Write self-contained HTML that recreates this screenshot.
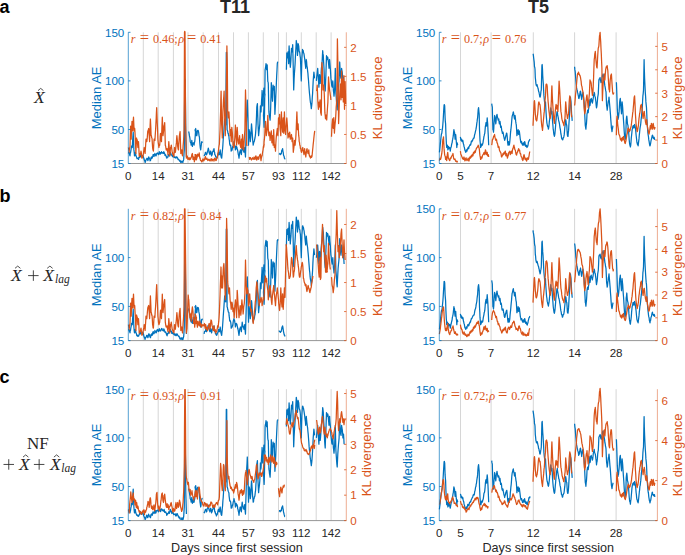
<!DOCTYPE html>
<html><head><meta charset="utf-8"><style>
html,body{margin:0;padding:0;background:#fff;width:685px;height:555px;overflow:hidden;position:relative}
svg text{font-family:"Liberation Sans",sans-serif}
svg text.s{font-family:"Liberation Serif",serif}
</style></head><body>
<svg width="685" height="555" viewBox="0 0 685 555" style="position:absolute;left:0;top:0">
<rect width="685" height="555" fill="#fff"/>
<line x1="143.3" y1="32.3" x2="143.3" y2="163.5" stroke="#d6d6d6" stroke-width="1"/>
<line x1="158.2" y1="32.3" x2="158.2" y2="163.5" stroke="#d6d6d6" stroke-width="1"/>
<line x1="173.4" y1="32.3" x2="173.4" y2="163.5" stroke="#d6d6d6" stroke-width="1"/>
<line x1="188.0" y1="32.3" x2="188.0" y2="163.5" stroke="#d6d6d6" stroke-width="1"/>
<line x1="203.2" y1="32.3" x2="203.2" y2="163.5" stroke="#d6d6d6" stroke-width="1"/>
<line x1="218.5" y1="32.3" x2="218.5" y2="163.5" stroke="#d6d6d6" stroke-width="1"/>
<line x1="233.5" y1="32.3" x2="233.5" y2="163.5" stroke="#d6d6d6" stroke-width="1"/>
<line x1="248.4" y1="32.3" x2="248.4" y2="163.5" stroke="#d6d6d6" stroke-width="1"/>
<line x1="263.3" y1="32.3" x2="263.3" y2="163.5" stroke="#d6d6d6" stroke-width="1"/>
<line x1="278.5" y1="32.3" x2="278.5" y2="163.5" stroke="#d6d6d6" stroke-width="1"/>
<line x1="286.4" y1="32.3" x2="286.4" y2="163.5" stroke="#d6d6d6" stroke-width="1"/>
<line x1="301.3" y1="32.3" x2="301.3" y2="163.5" stroke="#d6d6d6" stroke-width="1"/>
<line x1="316.2" y1="32.3" x2="316.2" y2="163.5" stroke="#d6d6d6" stroke-width="1"/>
<line x1="331.1" y1="32.3" x2="331.1" y2="163.5" stroke="#d6d6d6" stroke-width="1"/>
<polyline points="128.4,153.5 128.8,152.5 129.1,152.3 129.4,152.8 129.7,155.0 130.0,155.9 130.2,153.4 130.5,152.8 130.8,151.1 131.2,148.5 131.5,146.4 131.8,145.9 132.1,147.2 132.3,147.5 132.6,141.5 132.9,137.1 133.2,132.1 133.5,140.1 133.9,149.9 134.2,152.1 134.5,155.9 134.8,154.5 135.0,154.1 135.3,152.3 135.6,153.3 135.9,155.9 136.2,155.9 136.5,157.0 136.8,157.7 137.1,158.7 137.3,158.2 137.7,158.6 138.0,158.4 138.3,158.8 138.6,159.4 138.9,157.1 139.2,157.6 139.5,157.4 139.8,155.2 140.1,154.7 140.4,154.8 140.6,155.5 140.9,157.0 141.2,156.3 141.5,156.9 141.9,155.9 142.2,155.2 142.5,156.0 142.7,156.1 143.0,155.9 143.3,156.6 143.6,158.0 143.9,158.1 144.2,160.0 144.5,159.9 144.8,161.0 145.1,162.4 145.4,162.0 145.7,160.7 146.0,160.0 146.3,159.1 146.6,159.0 147.0,158.2 147.2,158.9 147.5,159.4 147.8,160.6 148.1,160.0 148.4,158.6 148.6,157.0 148.9,157.1 149.3,158.4 149.6,158.8 149.9,159.5 150.1,160.8 150.4,160.6 150.7,159.9 151.0,157.8 151.4,157.0 151.6,158.4 151.9,157.1 152.2,158.2 152.5,156.9 152.8,156.4 153.1,154.7 153.5,154.6 153.8,155.8 154.1,156.5 154.4,154.5 154.7,154.8 154.9,153.5 155.2,154.8 155.6,155.2 155.9,155.9 156.2,155.8 156.4,153.9 156.7,153.5 157.0,153.7 157.3,153.3 157.7,152.9 157.9,153.6 158.2,154.0 158.5,154.7 158.8,154.4 159.0,153.6 159.3,151.7 159.6,152.4 160.0,153.6 160.3,154.1 160.6,152.6 160.9,153.3 161.2,152.6 161.5,151.7 161.7,153.1 162.0,153.1 162.3,152.9 162.6,152.7 162.9,153.1 163.2,153.5 163.5,153.4 163.8,151.7 164.1,152.3 164.4,153.2 164.7,153.6 165.0,155.3 165.3,154.7 165.7,154.8 166.0,155.9 166.3,157.2 166.5,156.7 166.8,158.2 167.1,157.3 167.4,157.2 167.6,157.0 168.0,157.0 168.3,154.6 168.6,154.7 168.9,155.0 169.2,155.6 169.4,155.9 169.7,155.4 170.1,154.1 170.4,152.3 170.7,153.8 170.9,153.4 171.2,154.7 171.5,154.9 171.8,155.2 172.2,155.9 172.5,156.6 172.8,156.8 173.1,155.2 173.4,155.9 173.6,155.8 173.9,156.5 174.2,157.6 174.5,156.9 174.8,157.2 175.1,157.0 175.4,157.6 175.7,157.4 176.0,158.2 176.3,156.8 176.6,157.3 176.9,157.0 177.2,157.2 177.5,158.0 177.7,158.2 178.1,159.5 178.4,159.4 178.7,159.4 179.0,159.9 179.3,160.5 179.5,160.6 179.8,161.4 180.2,160.5 180.5,161.8 180.8,162.5 181.1,162.1 181.4,162.1 181.7,161.2 182.0,162.1 182.3,161.6 182.6,161.9 182.9,162.4 183.1,160.6 183.4,160.7 183.7,159.4 184.0,153.8 184.3,149.9 184.5,114.0 184.8,79.8 185.0,79.2 185.2,79.8 185.5,107.0 185.8,135.7 186.1,146.0 186.4,157.0" fill="none" stroke="#0072BD" stroke-width="1.25" stroke-linejoin="round"/>
<polyline points="188.6,131.5 188.8,132.0 189.1,133.3 189.4,135.7 189.7,136.9 190.0,138.8 190.2,141.6 190.5,142.5 190.9,143.0 191.2,145.2 191.5,143.5 191.8,140.4 192.1,143.6 192.4,146.4 192.6,144.5 192.9,143.5 193.2,142.8 193.5,143.3 193.8,144.1 194.1,145.2 194.4,142.4 194.7,141.9 195.0,139.2 195.3,134.9 195.7,128.5 196.0,130.8 196.2,133.2 196.5,135.7 196.2,133.6 195.9,132.5 195.6,131.8 195.3,130.4 195.0,129.7 195.3,131.2 195.6,130.6 196.0,132.1 196.2,132.3 196.5,135.4 196.8,135.7 197.1,133.9 197.3,131.4 197.6,130.3 197.9,131.0 198.2,130.5 198.6,132.1 198.8,133.7 199.1,136.2 199.4,136.8 199.7,141.7 200.0,145.2 200.3,147.9 200.7,149.9 201.0,147.1 201.3,144.9 201.5,142.8 201.8,141.7 202.1,142.5 202.4,141.6" fill="none" stroke="#0072BD" stroke-width="1.25" stroke-linejoin="round"/>
<polyline points="203.9,155.9 204.2,155.5 204.5,155.6 204.7,154.7 205.1,153.5 205.4,152.5 205.7,152.3 206.0,153.7 206.3,154.8 206.5,154.7 206.8,154.2 207.2,152.9 207.5,151.1 207.8,150.8 208.0,149.6 208.3,148.1 208.7,149.7 209.0,152.3 209.3,153.1 209.6,153.6 209.9,154.7 210.1,152.5 210.4,151.3 210.7,151.1 211.0,152.2 211.3,153.8 211.6,155.9 211.9,155.1 212.2,154.4 212.5,152.3 212.8,151.4 213.1,151.6 213.4,149.9 213.7,150.3 214.0,148.7 214.3,151.6 214.6,152.4 214.8,154.7 215.2,154.9 215.5,155.7 215.8,157.0 216.1,156.8 216.4,157.2 216.7,158.2 217.0,157.7 217.3,157.5 217.6,155.9 217.9,155.4 218.2,153.4 218.5,152.3 218.8,153.4 219.1,154.5 219.4,154.7 219.6,152.3 219.9,151.8 220.2,149.9 220.6,153.7 220.9,155.9 221.2,157.2 221.5,157.9 221.7,158.2 222.0,155.0 222.3,151.3 222.6,148.7 222.9,144.9 223.2,139.7 223.5,135.7 223.8,132.1 224.1,127.3 224.4,124.1 224.7,119.0 225.0,120.8 225.3,122.8 225.7,125.0 226.0,89.6 226.3,52.5 226.5,52.9 226.7,52.5 227.1,129.7 227.4,130.2 227.7,131.3 228.0,133.3 228.3,133.4 228.6,135.7 228.9,135.7 229.1,139.0 229.4,140.5 229.7,144.0 230.0,145.0 230.3,145.7 230.7,145.2 231.0,148.4 231.2,151.1 231.5,150.4 231.8,150.4 232.1,149.9 232.4,148.0 232.7,146.6 233.0,146.4 233.3,145.7 233.7,143.5 234.0,141.6 234.3,142.8 234.5,144.8 234.8,145.2 235.1,147.4 235.4,149.9 235.7,149.5 236.0,148.2 236.2,146.4 236.6,146.6 236.9,147.4 237.2,148.7 237.5,149.5 237.7,150.6 238.0,152.3 238.3,154.4 238.7,155.8 239.0,158.2 239.3,155.7 239.6,153.5 239.8,151.6 240.1,151.9 240.4,149.9 240.7,151.2 241.0,153.0 241.4,154.7 241.6,151.7 241.9,149.1 242.2,145.2 242.5,146.6 242.8,149.2 243.1,149.9 243.4,150.7 243.7,151.6 244.0,152.3 244.3,150.0 244.7,147.5 245.0,149.7 245.2,153.8 245.5,157.0 245.8,145.7 246.1,135.7 246.4,122.8 246.7,111.9 247.0,106.5 247.3,100.0 247.6,108.3 247.9,117.8 248.2,131.4 248.5,145.2 248.8,137.9 249.1,129.7 249.4,131.0 249.7,132.1 250.0,136.5 250.3,141.6 250.6,138.7 250.9,135.7 251.2,129.8 251.5,123.8 251.8,127.3 252.0,129.7 252.3,133.7 252.6,139.2 252.9,142.3 253.2,145.2 253.5,143.5 253.8,142.3 254.1,141.6 254.4,141.0 254.7,139.2 255.0,138.0 255.3,135.8 255.6,133.3 255.9,129.0 256.2,123.8 256.5,116.3 256.8,107.1 257.1,105.2 257.4,103.6 257.7,113.9 258.0,123.8 258.3,129.7 258.6,135.7 258.9,132.7 259.2,129.7 259.5,127.1 259.8,123.8 260.1,114.8 260.4,105.9 260.7,109.0 261.0,111.9 261.3,105.9 261.6,100.0 261.9,96.1 262.1,90.5 262.4,98.6 262.7,105.9 263.0,102.2 263.3,97.9 263.6,92.1 263.9,88.1 264.2,89.7 264.5,92.0 264.7,93.3 265.0,94.1 264.7,97.6 264.4,101.9 264.1,106.8 263.8,110.3 263.5,115.5 263.8,120.9 264.1,127.3 264.3,120.5 264.5,115.5 264.8,92.9 265.1,69.7 265.4,68.2 265.7,66.5 266.0,63.7 266.3,66.0 266.6,69.7 266.9,67.7 267.2,64.9 267.5,73.5 267.8,81.5 268.1,82.0 268.3,83.9 268.6,98.7 268.9,111.9 269.2,115.2 269.5,116.6 269.8,117.9 270.1,120.2 270.4,114.6 270.7,107.1 271.0,94.7 271.3,82.7 271.6,86.9 271.9,91.0 272.2,97.1 272.5,101.2 272.8,93.8 273.1,85.1 273.4,86.8 273.7,89.9 274.0,87.9 274.3,86.3 274.6,100.3 274.9,114.3 275.2,108.6 275.5,103.6 275.8,96.1 276.1,89.9 276.4,82.4 276.7,75.6 277.0,70.1 277.3,63.7 277.6,62.2 277.9,62.5" fill="none" stroke="#0072BD" stroke-width="1.25" stroke-linejoin="round"/>
<polyline points="279.0,153.5 279.3,153.9 279.6,154.0 279.9,153.4 280.2,154.7 280.5,154.0 280.8,154.3 281.1,153.8 281.4,153.5 281.7,150.8 282.0,149.9 282.3,150.3 282.6,148.7 282.9,151.1 283.2,152.3 283.5,155.0 283.8,155.9 284.1,156.3 284.4,158.2 284.7,158.4 285.0,159.4" fill="none" stroke="#0072BD" stroke-width="1.25" stroke-linejoin="round"/>
<polyline points="286.4,69.7 286.8,53.0 287.1,54.5 287.4,57.8 287.7,55.4 288.0,51.8 288.3,57.3 288.6,63.7 288.8,54.1 289.1,45.9 289.4,51.7 289.7,57.8 290.0,63.3 290.3,67.3 290.6,64.4 290.9,60.1 291.2,53.7 291.5,48.3 291.8,49.3 292.1,51.8 292.4,49.1 292.7,44.7 293.0,57.3 293.3,69.7 293.7,89.9 293.9,84.9 294.1,79.2 294.4,73.6 294.7,69.7 295.1,63.7 295.4,56.9 295.7,51.8 296.0,46.6 296.3,40.5 296.6,43.1 296.9,45.9 297.2,49.8 297.5,55.4 297.8,50.3 298.1,43.5 298.4,45.0 298.7,45.9 299.0,49.5 299.2,51.8 299.5,51.6 299.8,53.0 300.1,56.1 300.4,57.8 300.7,64.6 301.0,73.9 301.3,80.9 301.6,69.5 301.9,58.2 302.2,53.5 302.5,49.4 302.8,50.1 303.2,50.7 303.5,52.8 303.8,53.2 304.1,54.6 304.4,57.0 304.7,58.8 305.0,62.0 305.4,65.2 305.7,68.3 306.0,63.4 306.3,59.5 306.6,61.9 306.9,65.8 307.3,67.6 307.6,70.8 307.9,73.1 308.2,77.1 308.5,80.3 308.8,84.7 309.1,88.8 309.5,93.5 309.8,96.3 310.1,99.8 310.4,102.3 310.7,103.6 311.0,105.7 311.3,108.7 311.7,105.5 312.0,102.4 312.3,97.3 312.6,93.5 312.9,86.9 313.2,80.9 313.6,75.6 313.9,72.1 314.2,74.8 314.5,78.4" fill="none" stroke="#0072BD" stroke-width="1.25" stroke-linejoin="round"/>
<polyline points="316.4,80.9 316.7,76.8 317.0,74.6 317.3,71.9 317.7,68.3 318.0,73.5 318.3,78.4 318.6,82.2 318.9,87.2 319.2,80.9 319.5,74.6 319.9,79.9 320.2,83.5 320.5,79.5 320.8,77.1 321.1,73.4 321.4,68.3 321.8,65.0 322.1,62.0 322.4,56.3 322.7,50.7 323.0,53.9 323.3,55.7 323.6,61.8 324.0,68.3 324.3,75.9 324.6,83.5 324.9,87.6 325.2,91.0 325.5,83.8 325.9,74.6 326.2,64.9 326.5,55.7 326.8,58.3 327.1,59.5 327.4,58.6 327.7,57.0 328.1,59.8 328.4,62.0 328.7,65.0 329.0,68.3 329.3,63.6 329.6,59.5 329.9,63.0 330.3,68.3 330.6,72.6 330.9,78.4 331.2,80.1 331.5,83.5 331.8,85.8 332.2,87.2 332.5,83.6 332.8,80.9 333.1,85.3 333.4,91.0 333.7,92.7 334.0,96.1 334.4,92.3 334.7,87.2 335.0,78.5 335.3,68.3 335.6,81.3 335.9,93.5 336.3,98.1 336.6,103.6 336.9,106.3 337.2,109.9 337.5,103.2 337.8,97.3 338.1,92.2 338.5,87.2 338.8,83.4 339.1,80.9 339.4,71.4 339.7,62.0 340.0,67.8 340.4,74.6 340.7,77.4 341.0,78.4 341.3,74.3 341.6,68.3 341.9,70.3 342.2,72.1 342.6,76.0 342.9,80.9 343.2,80.0 343.5,77.1 343.8,81.8 344.1,87.2" fill="none" stroke="#0072BD" stroke-width="1.25" stroke-linejoin="round"/>
<polyline points="128.4,147.5 128.8,149.6 129.1,152.3 129.4,149.3 129.7,148.1 130.0,146.4 130.3,136.2 130.6,126.1 130.9,132.7 131.2,139.2 131.4,132.7 131.7,127.3 132.0,121.4 132.3,125.2 132.6,130.9 132.9,125.9 133.2,121.0 133.5,117.2 133.8,123.9 134.1,130.9 134.4,128.8 134.7,128.5 135.0,132.9 135.3,139.2 135.6,146.0 135.9,153.5 136.2,145.2 136.5,138.0 136.8,139.0 137.1,139.7 137.3,140.4 137.6,144.5 137.9,147.5 138.2,144.9 138.5,141.6 138.9,149.2 139.2,155.9 139.5,156.2 139.8,154.8 140.1,154.7 140.4,153.1 140.7,153.3 141.0,151.1 141.3,152.8 141.6,156.3 141.9,158.2 142.2,157.9 142.5,156.1 142.7,157.1 143.0,155.9 143.3,154.6 143.6,152.0 143.9,150.1 144.2,147.5 144.5,150.1 144.8,150.8 145.1,153.5 145.4,148.8 145.7,144.0 146.0,139.2 146.3,140.7 146.6,141.4 146.8,141.6 147.2,138.7 147.5,134.6 147.8,130.9 148.1,130.9 148.4,129.7 148.7,128.5 149.0,133.3 149.3,136.7 149.6,141.6 149.9,133.1 150.1,125.8 150.4,119.0 150.8,127.1 151.1,135.7 151.4,135.7 151.7,137.9 152.0,138.0 152.3,142.9 152.6,147.5 152.8,149.0 153.1,150.2 153.4,151.1 153.7,145.5 154.1,139.2 154.4,139.6 154.7,139.0 154.9,140.4 155.2,135.5 155.6,129.8 155.9,123.8 156.2,118.4 156.4,113.1 156.7,107.7 157.0,116.1 157.3,123.8 157.6,130.6 157.9,139.2 158.2,142.5 158.5,144.3 158.9,147.5 159.1,145.9 159.4,145.5 159.7,145.2 160.0,141.7 160.2,136.6 160.5,133.3 160.8,136.5 161.1,139.8 161.5,141.6 161.7,133.5 162.0,125.1 162.3,117.2 162.7,126.4 163.0,135.7 163.3,133.2 163.6,130.6 163.8,127.3 164.1,126.0 164.4,124.5 164.7,122.6 165.0,133.0 165.3,145.2 165.6,146.0 165.9,147.8 166.2,149.9 166.5,150.0 166.8,148.7 167.1,148.7 167.4,150.8 167.7,151.7 168.0,154.7 168.3,149.4 168.6,145.5 168.8,141.6 169.2,146.7 169.5,151.5 169.8,155.9 170.1,153.4 170.3,149.9 170.6,147.5 171.0,146.4 171.3,145.2 171.6,147.5 171.9,149.8 172.2,152.3 172.5,152.3 172.8,154.7 173.1,154.7 173.4,154.5 173.7,156.4 173.9,155.9 174.2,152.6 174.5,147.5 174.8,148.2 175.1,150.6 175.4,152.3 175.7,149.4 176.1,145.2 176.4,142.9 176.6,138.7 176.9,135.7 177.2,138.8 177.5,142.2 177.7,146.4 178.1,149.0 178.5,149.9 178.7,145.0 179.0,141.4 179.3,136.8 179.6,134.3 179.8,133.3 180.1,131.5 180.5,143.4 180.8,153.5 181.1,151.6 181.4,151.7 181.7,149.9 181.9,151.9 182.2,154.7 182.5,155.9 182.8,151.5 183.1,145.8 183.5,141.6 183.8,136.5 184.0,129.7 184.3,81.0 184.5,32.3 184.8,31.3 185.0,32.3 185.3,77.0 185.6,123.8 185.9,135.2 186.1,146.6 186.4,158.2 186.7,156.7 187.0,155.9 187.3,156.3 187.6,157.9 187.9,159.4 188.2,158.7 188.5,159.3 188.8,158.2 189.1,157.5 189.4,159.3 189.7,159.8 190.0,159.4 190.3,158.1 190.6,159.1 190.9,158.1 191.2,157.0 191.5,157.0 191.8,154.8 192.1,154.1 192.4,153.5 192.7,156.2 193.0,159.4 193.3,159.2 193.6,157.0 193.8,158.8 194.1,159.9 194.4,161.8 194.7,159.3 195.0,156.6 195.3,154.7 195.6,156.1 195.9,159.4 196.2,157.4 196.6,157.7 196.9,155.9 196.6,155.2 196.3,156.3 195.9,154.8 195.6,154.6 195.3,154.9 195.0,154.7 195.3,155.6 195.6,157.6 196.0,159.4 196.2,159.9 196.5,159.4 196.8,158.2 197.1,157.5 197.3,155.7 197.6,154.1 197.9,155.5 198.2,156.1 198.6,155.9 198.9,154.5 199.2,152.9 199.5,156.0 199.8,158.2 200.1,157.9 200.3,159.4 200.6,160.5 200.9,160.6 201.3,160.9 201.6,161.9 201.9,161.8 202.2,161.3 202.4,159.8 202.7,159.4 203.0,158.8 203.3,160.9 203.6,159.6 203.9,160.6 204.2,160.0 204.5,159.1 204.7,158.8 205.1,157.2 205.5,156.5 205.7,157.9 206.0,159.4 206.3,159.4 206.6,158.4 206.9,158.2 207.2,159.3 207.5,159.4 207.8,160.6 208.1,160.3 208.4,159.6 208.7,159.4 208.9,159.2 209.2,159.5 209.5,160.6 209.8,159.8 210.1,161.0 210.5,160.0 210.8,159.6 211.1,158.7 211.4,158.8 211.7,160.2 212.0,161.0 212.2,160.6 212.5,160.1 212.8,159.1 213.1,159.4 213.4,159.4 213.7,159.8 214.0,161.2 214.3,159.9 214.6,158.4 214.8,158.2 215.2,158.5 215.5,159.3 215.8,160.6 216.1,160.2 216.4,160.2 216.6,158.8 217.0,158.4 217.3,157.0 217.6,155.3 217.9,153.7 218.2,152.3 218.5,150.0 218.8,147.5 219.1,145.5 219.4,144.0 219.7,137.1 220.0,130.9 220.3,120.5 220.6,111.9 220.8,101.0 221.1,91.1 221.4,108.4 221.6,123.8 222.0,130.2 222.3,138.0 222.6,125.0 222.9,111.9 223.2,106.2 223.5,100.0 223.8,96.3 224.1,91.1 224.4,103.9 224.7,117.8 225.0,126.3 225.3,135.7 225.6,125.2 225.9,115.6 226.1,105.9 226.5,75.8 226.9,45.9 227.1,56.0 227.3,64.3 227.7,111.9 228.0,115.6 228.3,117.8 228.6,115.6 228.9,111.9 229.2,116.9 229.5,123.8 229.8,128.8 230.1,135.7 230.4,133.1 230.7,129.7 231.0,136.4 231.2,141.6 231.5,134.4 231.8,127.3 232.1,130.5 232.4,133.3 232.7,138.2 233.0,145.2 233.3,145.7 233.7,147.6 234.0,147.5 234.3,145.0 234.5,141.9 234.8,138.0 235.1,132.4 235.4,125.0 235.7,129.8 236.0,135.7 236.3,139.6 236.6,145.2 236.9,135.6 237.2,127.3 237.5,131.7 237.7,136.4 238.0,140.4 238.4,143.1 238.7,144.0 239.0,141.6 239.3,138.7 239.6,135.7 239.9,140.9 240.2,145.2 240.5,146.3 240.8,147.5 241.1,143.5 241.4,139.2 241.6,143.1 241.9,148.7 242.2,142.2 242.5,134.5 242.8,138.7 243.1,144.0 243.4,147.8 243.7,149.9 244.0,144.9 244.3,139.2 244.6,134.1 244.9,129.7 245.2,109.1 245.5,89.9 245.8,100.4 246.1,111.9 246.4,128.8 246.7,145.2 247.0,145.6 247.3,145.2" fill="none" stroke="#D95319" stroke-width="1.25" stroke-linejoin="round"/>
<polyline points="249.1,157.0 249.4,157.5 249.7,159.4 249.9,158.0 250.2,158.3 250.5,157.6 250.8,158.6 251.1,159.0 251.5,160.0 251.7,158.9 252.0,159.0 252.3,158.2 252.6,157.7 252.9,158.6 253.2,159.4 253.5,158.6 253.8,158.8 254.1,157.0 254.4,158.1 254.7,159.4 255.0,159.4 255.3,158.2 255.6,156.5 255.9,155.9 256.2,156.7 256.5,159.6 256.8,160.0 257.1,159.4 257.4,157.7 257.6,157.0 258.0,156.9 258.3,158.6 258.6,159.4 258.9,158.6 259.1,156.9 259.4,155.9 259.7,154.8 260.1,155.0 260.4,154.1 260.7,158.2 261.0,160.6 261.3,158.3 261.6,157.0 261.9,155.5 262.1,155.9 262.4,153.5 262.7,151.5 263.0,150.0 263.3,147.5 263.6,145.7 263.9,145.8 264.2,144.0 263.9,146.2 263.6,147.5 263.9,144.8 264.1,141.4 264.4,139.2 264.8,134.2 265.1,127.3 265.4,124.0 265.6,121.4 266.0,129.2 266.3,135.7 266.6,133.1 266.9,131.1 267.2,129.7 267.5,123.1 267.8,115.5 268.1,121.6 268.3,128.5 268.6,133.0 268.9,135.7 269.2,133.9 269.5,132.1 269.8,135.6 270.1,140.4 270.4,137.5 270.7,135.7 271.0,133.1 271.3,130.9 271.6,137.2 271.9,142.8 272.2,140.1 272.5,135.7 272.8,139.7 273.1,145.2 273.4,137.2 273.7,129.7 274.0,138.1 274.3,147.5 274.6,147.3 274.9,145.2 275.2,147.4 275.5,151.1 275.8,144.3 276.1,139.2 276.4,135.4 276.7,133.3 277.0,130.7 277.3,128.5 277.6,132.9 277.9,135.7 278.2,127.5 278.5,117.8 278.7,121.3 279.0,123.8 279.3,120.0 279.6,114.3 279.9,122.9 280.2,129.7 280.5,132.3 280.8,135.7 281.1,123.1 281.4,111.9 281.7,118.7 282.0,123.8 282.3,128.4 282.6,132.1 282.9,124.0 283.2,117.8 283.5,125.9 283.8,133.3 284.1,122.3 284.4,111.9 284.7,120.5 285.0,129.7 285.3,131.8 285.6,134.5 285.9,129.6 286.2,125.2 286.5,121.5 286.8,117.8 287.1,121.7 287.4,126.1 287.7,133.0 288.0,138.0 288.3,134.9 288.6,133.3 288.8,136.0 289.1,136.8 289.4,133.9 289.7,132.1 290.0,135.4 290.3,139.2 290.6,138.7 290.9,136.8 291.2,136.3 291.5,134.5 291.8,137.9 292.1,141.6 292.4,138.9 292.7,138.0 293.0,145.1 293.3,152.3 293.6,149.7 293.9,147.5 294.2,144.8 294.5,140.4 294.8,142.2 295.1,145.2 295.4,141.9 295.7,139.2 296.0,134.1 296.3,127.3 296.6,118.7 296.9,111.9 297.2,120.6 297.5,129.7 297.8,127.4 298.1,123.8 298.4,130.2 298.7,135.7 299.0,137.7 299.2,141.6 299.5,142.4 299.8,145.2 300.1,145.5 300.4,148.4 300.7,148.2 301.0,150.4 301.3,151.9 301.6,152.3 301.9,150.8 302.2,149.9 302.5,148.3 302.8,147.5 303.1,150.2 303.4,151.1 303.7,153.1 304.0,154.7 304.3,151.2 304.6,148.7 304.9,150.9 305.2,152.3 305.5,154.3 305.8,157.0 306.1,154.2 306.4,152.3 306.7,149.5 307.0,148.7 307.3,150.4 307.6,151.1 307.9,153.1 308.2,153.5 308.5,152.0 308.8,149.9 309.1,153.8 309.4,155.9 309.6,155.5 309.9,157.0 310.2,157.1 310.5,158.2 310.8,157.0 311.1,155.9 311.4,157.4 311.7,157.0 312.0,156.2 312.3,153.5 312.6,150.3 312.9,147.5 313.2,144.1 313.5,141.6 313.8,138.5 314.1,135.7 314.4,133.3 314.7,130.9" fill="none" stroke="#D95319" stroke-width="1.25" stroke-linejoin="round"/>
<polyline points="316.6,91.1 316.9,89.0 317.2,85.2 317.5,92.5 317.8,101.0 318.1,105.8 318.4,109.3 318.7,106.2 319.0,102.1 319.2,105.1 319.5,106.9 319.8,103.9 320.1,99.8 320.4,106.6 320.7,112.9 321.0,113.7 321.3,115.2 321.6,88.5 321.9,62.6 322.2,65.9 322.5,69.7 322.8,80.4 323.1,90.0 323.4,86.8 323.7,85.2 324.0,89.3 324.3,94.7 324.6,104.3 324.9,112.9 325.2,115.3 325.5,118.8 325.8,116.1 326.1,115.2 326.4,116.7 326.7,120.0 327.0,115.4 327.3,110.5 327.6,106.0 327.9,102.1 328.2,90.5 328.5,76.9 328.8,81.2 329.1,84.0 329.4,88.5 329.7,91.1 330.0,92.6 330.3,95.0 330.6,96.7 330.9,100.0" fill="none" stroke="#D95319" stroke-width="1.25" stroke-linejoin="round"/>
<polyline points="331.5,136.7 331.8,129.9 332.0,124.8 332.3,121.8 332.6,118.8 332.9,124.0 333.2,128.3 333.5,122.8 333.8,117.6 334.1,124.8 334.4,133.1 334.7,128.8 335.0,124.8 335.3,122.0 335.6,118.8 335.9,113.2 336.2,106.9 336.5,103.9 336.8,100.0 337.1,70.1 337.4,38.8 337.7,54.6 338.0,69.7 338.3,95.9 338.6,123.6 338.9,115.9 339.2,106.9 339.5,99.8 339.8,93.5 340.1,88.9 340.4,84.0 340.7,91.6 341.0,99.8 341.3,85.8 341.6,70.9 341.9,83.5 342.2,97.4 342.5,87.8 342.8,79.2 343.1,90.1 343.3,102.0 343.6,88.2 343.9,75.7 344.2,93.3 344.5,109.3 344.8,95.6 345.1,81.6 345.4,92.5 345.7,104.0" fill="none" stroke="#D95319" stroke-width="1.25" stroke-linejoin="round"/>
<line x1="128.3" y1="163.5" x2="346.3" y2="163.5" stroke="#8a8a8a" stroke-width="0.9"/>
<line x1="128.3" y1="32.3" x2="128.3" y2="163.5" stroke="#0072BD" stroke-width="0.8" stroke-opacity="0.85"/>
<line x1="346.3" y1="32.3" x2="346.3" y2="163.5" stroke="#D95319" stroke-width="0.8" stroke-opacity="0.6"/>
<line x1="128.3" y1="163.50" x2="130.5" y2="163.50" stroke="#0072BD" stroke-width="0.8"/>
<text x="124.30000000000001" y="167.80" fill="#0072BD" font-size="11.6" text-anchor="end">15</text>
<line x1="128.3" y1="129.49" x2="130.5" y2="129.49" stroke="#0072BD" stroke-width="0.8"/>
<text x="124.30000000000001" y="133.79" fill="#0072BD" font-size="11.6" text-anchor="end">50</text>
<line x1="128.3" y1="80.89" x2="130.5" y2="80.89" stroke="#0072BD" stroke-width="0.8"/>
<text x="124.30000000000001" y="85.19" fill="#0072BD" font-size="11.6" text-anchor="end">100</text>
<line x1="128.3" y1="32.30" x2="130.5" y2="32.30" stroke="#0072BD" stroke-width="0.8"/>
<text x="124.30000000000001" y="36.60" fill="#0072BD" font-size="11.6" text-anchor="end">150</text>
<line x1="346.3" y1="163.50" x2="344.1" y2="163.50" stroke="#D95319" stroke-width="0.8"/>
<text x="350.3" y="167.80" fill="#D95319" font-size="11.6">0</text>
<line x1="346.3" y1="134.46" x2="344.1" y2="134.46" stroke="#D95319" stroke-width="0.8"/>
<text x="350.3" y="138.76" fill="#D95319" font-size="11.6">0.5</text>
<line x1="346.3" y1="105.42" x2="344.1" y2="105.42" stroke="#D95319" stroke-width="0.8"/>
<text x="350.3" y="109.72" fill="#D95319" font-size="11.6">1</text>
<line x1="346.3" y1="76.38" x2="344.1" y2="76.38" stroke="#D95319" stroke-width="0.8"/>
<text x="350.3" y="80.68" fill="#D95319" font-size="11.6">1.5</text>
<line x1="346.3" y1="47.34" x2="344.1" y2="47.34" stroke="#D95319" stroke-width="0.8"/>
<text x="350.3" y="51.64" fill="#D95319" font-size="11.6">2</text>
<text x="128.3" y="179.80" fill="#262626" font-size="11.6" text-anchor="middle">0</text>
<text x="158.2" y="179.80" fill="#262626" font-size="11.6" text-anchor="middle">14</text>
<text x="188.0" y="179.80" fill="#262626" font-size="11.6" text-anchor="middle">31</text>
<text x="218.5" y="179.80" fill="#262626" font-size="11.6" text-anchor="middle">44</text>
<text x="248.4" y="179.80" fill="#262626" font-size="11.6" text-anchor="middle">57</text>
<text x="278.5" y="179.80" fill="#262626" font-size="11.6" text-anchor="middle">93</text>
<text x="301.3" y="179.80" fill="#262626" font-size="11.6" text-anchor="middle">112</text>
<text x="331.1" y="179.80" fill="#262626" font-size="11.6" text-anchor="middle">142</text>
<text transform="translate(101.00000000000001,97.9) rotate(-90)" fill="#0072BD" font-size="13" text-anchor="middle">Median AE</text>
<text transform="translate(381.6,97.9) rotate(-90)" fill="#D95319" font-size="13" text-anchor="middle">KL divergence</text>
<text x="130.8" y="43.0" fill="#D95319" class="s" font-size="12.2"><tspan font-style="italic">r</tspan><tspan dx="4.2" font-size="16.5">=</tspan><tspan dx="3.9">0.46;</tspan><tspan dx="0.6" font-style="italic">ρ</tspan><tspan dx="2.8" font-size="16.5">=</tspan><tspan dx="3.9">0.41</tspan></text>
<line x1="143.3" y1="208.8" x2="143.3" y2="340.6" stroke="#d6d6d6" stroke-width="1"/>
<line x1="158.2" y1="208.8" x2="158.2" y2="340.6" stroke="#d6d6d6" stroke-width="1"/>
<line x1="173.4" y1="208.8" x2="173.4" y2="340.6" stroke="#d6d6d6" stroke-width="1"/>
<line x1="188.0" y1="208.8" x2="188.0" y2="340.6" stroke="#d6d6d6" stroke-width="1"/>
<line x1="203.2" y1="208.8" x2="203.2" y2="340.6" stroke="#d6d6d6" stroke-width="1"/>
<line x1="218.5" y1="208.8" x2="218.5" y2="340.6" stroke="#d6d6d6" stroke-width="1"/>
<line x1="233.5" y1="208.8" x2="233.5" y2="340.6" stroke="#d6d6d6" stroke-width="1"/>
<line x1="248.4" y1="208.8" x2="248.4" y2="340.6" stroke="#d6d6d6" stroke-width="1"/>
<line x1="263.3" y1="208.8" x2="263.3" y2="340.6" stroke="#d6d6d6" stroke-width="1"/>
<line x1="278.5" y1="208.8" x2="278.5" y2="340.6" stroke="#d6d6d6" stroke-width="1"/>
<line x1="286.4" y1="208.8" x2="286.4" y2="340.6" stroke="#d6d6d6" stroke-width="1"/>
<line x1="301.3" y1="208.8" x2="301.3" y2="340.6" stroke="#d6d6d6" stroke-width="1"/>
<line x1="316.2" y1="208.8" x2="316.2" y2="340.6" stroke="#d6d6d6" stroke-width="1"/>
<line x1="331.1" y1="208.8" x2="331.1" y2="340.6" stroke="#d6d6d6" stroke-width="1"/>
<polyline points="128.4,330.5 128.8,329.7 129.1,329.3 129.4,331.5 129.7,331.7 130.0,332.9 130.2,330.8 130.5,330.4 130.8,328.1 131.2,326.1 131.5,323.4 131.8,324.8 132.1,323.4 132.3,324.6 132.6,319.3 132.9,314.9 133.2,309.0 133.5,318.7 133.9,327.0 134.2,330.8 134.5,332.9 134.8,330.8 135.0,330.1 135.3,329.3 135.6,330.4 135.9,332.9 136.2,332.9 136.5,334.1 136.8,335.5 137.1,335.1 137.3,335.3 137.7,336.4 138.0,335.5 138.3,335.9 138.6,336.2 138.9,335.0 139.2,334.7 139.5,333.2 139.8,333.3 140.1,331.7 140.4,333.4 140.6,332.5 140.9,334.1 141.2,333.9 141.5,333.6 141.9,332.9 142.2,332.4 142.5,332.7 142.7,332.2 143.0,332.9 143.3,333.4 143.6,334.5 143.9,336.3 144.2,337.1 144.5,338.2 144.8,338.1 145.1,339.5 145.4,337.7 145.7,337.6 146.0,337.1 146.3,336.9 146.6,335.3 147.0,335.3 147.2,335.7 147.5,336.3 147.8,337.7 148.1,337.1 148.4,335.4 148.6,334.1 148.9,333.8 149.3,334.5 149.6,335.9 149.9,336.3 150.1,337.2 150.4,337.7 150.7,336.8 151.0,334.5 151.4,334.1 151.6,333.8 151.9,335.3 152.2,335.3 152.5,333.9 152.8,332.5 153.1,331.7 153.5,331.9 153.8,333.8 154.1,333.5 154.4,332.2 154.7,331.7 154.9,330.5 155.2,331.0 155.6,332.0 155.9,332.9 156.2,332.9 156.4,332.3 156.7,330.5 157.0,330.1 157.3,329.5 157.7,329.9 157.9,331.0 158.2,330.5 158.5,331.7 158.8,329.7 159.0,330.5 159.3,328.7 159.6,329.4 160.0,331.0 160.3,331.1 160.6,330.3 160.9,330.7 161.2,329.3 161.5,328.7 161.7,328.5 162.0,328.6 162.3,329.9 162.6,330.2 162.9,330.6 163.2,330.5 163.5,331.0 163.8,328.9 164.1,329.3 164.4,330.6 164.7,331.1 165.0,332.3 165.3,332.5 165.7,332.0 166.0,332.9 166.3,333.3 166.5,334.6 166.8,335.3 167.1,335.8 167.4,333.7 167.6,334.1 168.0,333.3 168.3,333.1 168.6,331.7 168.9,333.1 169.2,331.9 169.4,332.9 169.7,331.0 170.1,331.4 170.4,329.3 170.7,331.1 170.9,330.9 171.2,331.7 171.5,331.2 171.8,333.4 172.2,332.9 172.5,332.7 172.8,333.7 173.1,333.2 173.4,332.9 173.6,334.2 173.9,333.4 174.2,334.7 174.5,335.1 174.8,333.8 175.1,334.1 175.4,334.3 175.7,335.6 176.0,335.3 176.3,335.6 176.6,333.9 176.9,334.1 177.2,334.0 177.5,334.7 177.7,335.3 178.1,335.7 178.4,335.9 178.7,336.5 179.0,336.2 179.3,336.8 179.5,337.7 179.8,338.5 180.2,339.3 180.5,338.9 180.8,337.8 181.1,338.7 181.4,339.0 181.7,338.3 182.0,337.7 182.3,339.6 182.6,338.4 182.9,339.5 183.1,338.7 183.4,337.6 183.7,336.5 184.0,332.0 184.3,327.0 184.5,291.3 184.8,256.5 185.0,256.4 185.2,256.5 185.5,284.7 185.8,312.6 186.1,323.2 186.4,334.1" fill="none" stroke="#0072BD" stroke-width="1.25" stroke-linejoin="round"/>
<polyline points="188.6,308.4 188.8,310.2 189.1,311.1 189.4,312.6 189.7,314.5 190.0,315.7 190.2,318.6 190.5,320.0 190.9,321.0 191.2,322.2 191.5,319.3 191.8,317.4 192.1,320.9 192.4,323.4 192.6,322.7 192.9,320.9 193.2,319.8 193.5,319.9 193.8,321.3 194.1,322.2 194.4,319.4 194.7,317.5 195.0,316.2 195.3,310.7 195.7,305.5 196.0,307.0 196.2,310.1 196.5,312.6 196.2,311.5 195.9,309.3 195.6,309.3 195.3,307.0 195.0,306.7 195.3,307.9 195.6,308.8 196.0,309.0 196.2,310.3 196.5,310.5 196.8,312.6 197.1,310.8 197.3,308.8 197.6,307.3 197.9,308.8 198.2,307.7 198.6,309.0 198.8,311.4 199.1,313.2 199.4,313.8 199.7,318.5 200.0,322.2 200.3,325.2 200.7,327.0 201.0,324.0 201.3,323.1 201.5,319.8 201.8,319.4 202.1,319.9 202.4,318.6" fill="none" stroke="#0072BD" stroke-width="1.25" stroke-linejoin="round"/>
<polyline points="203.9,332.9 204.2,333.4 204.5,331.5 204.7,331.7 205.1,331.5 205.4,331.0 205.7,329.3 206.0,329.3 206.3,330.6 206.5,331.7 206.8,331.0 207.2,328.7 207.5,328.1 207.8,327.9 208.0,325.7 208.3,325.2 208.7,327.9 209.0,329.3 209.3,329.4 209.6,330.9 209.9,331.7 210.1,331.4 210.4,328.8 210.7,328.1 211.0,329.3 211.3,331.3 211.6,332.9 211.9,331.4 212.2,329.6 212.5,329.3 212.8,327.9 213.1,327.1 213.4,327.0 213.7,327.2 214.0,325.8 214.3,328.1 214.6,330.5 214.8,331.7 215.2,331.9 215.5,333.9 215.8,334.1 216.1,333.7 216.4,335.0 216.7,335.3 217.0,334.8 217.3,333.4 217.6,332.9 217.9,332.5 218.2,330.6 218.5,329.3 218.8,330.3 219.1,331.7 219.4,331.7 219.6,329.3 219.9,329.5 220.2,327.0 220.6,330.2 220.9,332.9 221.2,333.5 221.5,335.1 221.7,335.3 222.0,331.7 222.3,329.9 222.6,325.8 222.9,321.5 223.2,316.7 223.5,312.6 223.8,309.0 224.1,304.3 224.4,300.0 224.7,295.9 225.0,297.3 225.3,300.4 225.7,301.9 226.0,264.6 226.3,229.1 226.5,229.7 226.7,229.1 227.1,306.7 227.4,307.4 227.7,309.3 228.0,310.2 228.3,312.0 228.6,312.0 228.9,312.6 229.1,315.7 229.4,317.8 229.7,321.0 230.0,320.4 230.3,320.8 230.7,322.2 231.0,324.5 231.2,328.1 231.5,328.0 231.8,327.2 232.1,327.0 232.4,325.8 232.7,325.4 233.0,323.4 233.3,321.0 233.7,319.6 234.0,318.6 234.3,320.1 234.5,320.0 234.8,322.2 235.1,323.6 235.4,327.0 235.7,325.5 236.0,323.8 236.2,323.4 236.6,323.9 236.9,324.4 237.2,325.8 237.5,327.1 237.7,328.3 238.0,329.3 238.3,330.7 238.7,333.6 239.0,335.3 239.3,332.9 239.6,330.5 239.8,328.6 240.1,329.0 240.4,327.0 240.7,328.0 241.0,329.4 241.4,331.7 241.6,327.7 241.9,325.6 242.2,322.2 242.5,324.5 242.8,325.9 243.1,327.0 243.4,327.6 243.7,328.1 244.0,329.3 244.3,326.0 244.7,324.6 245.0,328.0 245.2,331.1 245.5,334.1 245.8,323.1 246.1,312.6 246.4,301.0 246.7,288.7 247.0,282.7 247.3,276.8 247.6,286.6 247.9,294.7 248.2,308.9 248.5,322.2 248.8,313.9 249.1,306.7 249.4,308.7 249.7,309.0 250.0,312.9 250.3,318.6 250.6,315.7 250.9,312.6 251.2,306.5 251.5,300.7 251.8,303.1 252.0,306.7 252.3,310.6 252.6,316.2 252.9,319.8 253.2,322.2 253.5,320.0 253.8,319.9 254.1,318.6 254.4,318.3 254.7,315.5 255.0,315.0 255.3,312.0 255.6,310.2 255.9,305.7 256.2,300.7 256.5,292.3 256.8,284.0 257.1,282.5 257.4,280.4 257.7,291.2 258.0,300.7 258.3,306.0 258.6,312.6 258.9,309.3 259.2,306.7 259.5,303.3 259.8,300.7 260.1,290.8 260.4,282.8 260.7,286.5 261.0,288.7 261.3,283.3 261.6,276.8 261.9,272.5 262.1,267.3 262.4,274.0 262.7,282.8 263.0,279.0 263.3,274.3 263.6,269.3 263.9,264.9 264.2,266.8 264.5,267.8 264.7,268.8 265.0,270.8 264.7,274.3 264.4,278.9 264.1,282.8 263.8,287.7 263.5,292.3 263.8,298.8 264.1,304.3 264.3,298.7 264.5,292.3 264.8,270.0 265.1,246.3 265.4,244.8 265.7,241.9 266.0,240.4 266.3,243.4 266.6,246.3 266.9,243.8 267.2,241.5 267.5,250.5 267.8,258.3 268.1,259.5 268.3,260.7 268.6,274.2 268.9,288.7 269.2,291.4 269.5,293.5 269.8,296.2 270.1,297.1 270.4,290.0 270.7,284.0 271.0,272.5 271.3,259.5 271.6,262.7 271.9,267.8 272.2,272.4 272.5,278.0 272.8,269.4 273.1,261.8 273.4,264.7 273.7,266.6 274.0,265.7 274.3,263.0 274.6,277.6 274.9,291.1 275.2,285.4 275.5,280.4 275.8,274.3 276.1,266.6 276.4,259.1 276.7,252.3 277.0,245.8 277.3,240.4 277.6,240.6 277.9,239.2" fill="none" stroke="#0072BD" stroke-width="1.25" stroke-linejoin="round"/>
<polyline points="279.0,330.5 279.3,331.1 279.6,331.5 279.9,331.8 280.2,331.7 280.5,332.4 280.8,331.1 281.1,331.5 281.4,330.5 281.7,329.1 282.0,327.0 282.3,327.1 282.6,325.8 282.9,327.4 283.2,329.3 283.5,331.6 283.8,332.9 284.1,334.3 284.4,335.3 284.7,335.5 285.0,336.5" fill="none" stroke="#0072BD" stroke-width="1.25" stroke-linejoin="round"/>
<polyline points="286.4,246.3 286.8,229.6 287.1,231.4 287.4,234.4 287.7,231.6 288.0,228.4 288.3,233.5 288.6,240.4 288.8,232.2 289.1,222.4 289.4,227.7 289.7,234.4 290.0,238.2 290.3,243.9 290.6,239.6 290.9,236.8 291.2,231.7 291.5,224.8 291.8,226.3 292.1,228.4 292.4,224.1 292.7,221.3 293.0,232.8 293.3,246.3 293.7,266.6 293.9,260.3 294.1,255.9 294.4,251.5 294.7,246.3 295.1,240.4 295.4,234.7 295.7,228.4 296.0,223.1 296.3,217.1 296.6,220.2 296.9,222.4 297.2,226.4 297.5,232.0 297.8,226.2 298.1,220.1 298.4,221.0 298.7,222.4 299.0,226.1 299.2,228.4 299.5,229.7 299.8,229.6 300.1,232.8 300.4,234.4 300.7,241.3 301.0,250.6 301.3,257.7 301.6,247.1 301.9,234.9 302.2,231.3 302.5,226.0 302.8,225.8 303.2,227.3 303.5,227.9 303.8,229.8 304.1,230.9 304.4,233.6 304.7,235.2 305.0,238.7 305.4,242.5 305.7,245.0 306.0,241.2 306.3,236.1 306.6,239.6 306.9,242.5 307.3,245.6 307.6,247.5 307.9,250.9 308.2,253.9 308.5,257.2 308.8,261.5 309.1,265.1 309.5,270.3 309.8,272.7 310.1,276.7 310.4,279.1 310.7,280.5 311.0,282.4 311.3,285.5 311.7,282.0 312.0,279.2 312.3,274.6 312.6,270.3 312.9,263.0 313.2,257.7 313.6,252.7 313.9,248.8 314.2,251.5 314.5,255.1" fill="none" stroke="#0072BD" stroke-width="1.25" stroke-linejoin="round"/>
<polyline points="316.4,257.7 316.7,254.9 317.0,251.3 317.3,247.9 317.7,245.0 318.0,249.7 318.3,255.1 318.6,260.5 318.9,264.0 319.2,257.7 319.5,251.3 319.9,256.5 320.2,260.2 320.5,257.3 320.8,253.9 321.1,248.5 321.4,245.0 321.8,241.6 322.1,238.7 322.4,232.8 322.7,227.3 323.0,230.3 323.3,232.3 323.6,238.3 324.0,245.0 324.3,253.0 324.6,260.2 324.9,264.1 325.2,267.8 325.5,259.0 325.9,251.3 326.2,242.5 326.5,232.3 326.8,233.4 327.1,236.1 327.4,235.5 327.7,233.6 328.1,235.5 328.4,238.7 328.7,240.8 329.0,245.0 329.3,240.0 329.6,236.1 329.9,241.1 330.3,245.0 330.6,251.0 330.9,255.1 331.2,256.7 331.5,260.2 331.8,262.1 332.2,264.0 332.5,260.8 332.8,257.7 333.1,263.3 333.4,267.8 333.7,269.7 334.0,272.9 334.4,268.4 334.7,264.0 335.0,254.2 335.3,245.0 335.6,258.3 335.9,270.3 336.3,274.9 336.6,280.5 336.9,284.5 337.2,286.8 337.5,280.0 337.8,274.1 338.1,268.5 338.5,264.0 338.8,261.2 339.1,257.7 339.4,248.1 339.7,238.7 340.0,244.2 340.4,251.3 340.7,253.5 341.0,255.1 341.3,249.2 341.6,245.0 341.9,247.5 342.2,248.8 342.6,253.6 342.9,257.7 343.2,256.3 343.5,253.9 343.8,259.2 344.1,264.0" fill="none" stroke="#0072BD" stroke-width="1.25" stroke-linejoin="round"/>
<polyline points="128.4,324.6 128.8,326.7 129.1,329.3 129.4,327.2 129.7,325.2 130.0,323.4 130.3,314.0 130.6,303.1 130.9,308.8 131.2,316.2 131.4,311.0 131.7,303.3 132.0,298.3 132.3,302.5 132.6,307.9 132.9,302.8 133.2,299.5 133.5,294.1 133.8,301.0 134.1,307.9 134.4,306.4 134.7,305.5 135.0,311.6 135.3,316.2 135.6,322.8 135.9,330.5 136.2,322.7 136.5,315.0 136.8,315.9 137.1,317.1 137.3,317.4 137.6,321.5 137.9,324.6 138.2,321.9 138.5,318.6 138.9,325.5 139.2,332.9 139.5,332.2 139.8,331.4 140.1,331.7 140.4,331.2 140.7,329.7 141.0,328.1 141.3,331.0 141.6,332.3 141.9,335.3 142.2,334.6 142.5,334.7 142.7,333.7 143.0,332.9 143.3,330.1 143.6,328.7 143.9,327.4 144.2,324.6 144.5,326.0 144.8,327.9 145.1,330.5 145.4,325.4 145.7,321.4 146.0,316.2 146.3,317.7 146.6,317.1 146.8,318.6 147.2,314.3 147.5,310.9 147.8,307.9 148.1,306.7 148.4,306.3 148.7,305.5 149.0,309.2 149.3,313.9 149.6,318.6 149.9,310.4 150.1,304.4 150.4,295.9 150.8,304.7 151.1,312.6 151.4,312.6 151.7,315.1 152.0,315.0 152.3,319.0 152.6,324.6 152.8,325.5 153.1,327.9 153.4,328.1 153.7,322.8 154.1,316.2 154.4,317.1 154.7,316.9 154.9,317.4 155.2,311.2 155.6,306.5 155.9,300.7 156.2,294.5 156.4,289.4 156.7,284.6 157.0,292.4 157.3,300.7 157.6,307.5 157.9,316.2 158.2,318.8 158.5,322.4 158.9,324.6 159.1,324.2 159.4,323.0 159.7,322.2 160.0,318.5 160.2,314.1 160.5,310.2 160.8,312.3 161.1,316.0 161.5,318.6 161.7,310.2 162.0,302.8 162.3,294.1 162.7,304.2 163.0,312.6 163.3,309.7 163.6,307.2 163.8,304.3 164.1,303.2 164.4,300.9 164.7,299.5 165.0,310.3 165.3,322.2 165.6,324.2 165.9,326.1 166.2,327.0 166.5,327.1 166.8,326.6 167.1,325.8 167.4,328.5 167.7,330.1 168.0,331.7 168.3,327.6 168.6,322.9 168.8,318.6 169.2,323.0 169.5,328.4 169.8,332.9 170.1,329.3 170.3,327.2 170.6,324.6 171.0,323.9 171.3,322.2 171.6,325.0 171.9,327.2 172.2,329.3 172.5,329.6 172.8,330.8 173.1,331.7 173.4,332.0 173.7,332.8 173.9,332.9 174.2,328.6 174.5,324.6 174.8,326.5 175.1,328.6 175.4,329.3 175.7,325.1 176.1,322.2 176.4,319.3 176.6,316.4 176.9,312.6 177.2,316.0 177.5,319.8 177.7,323.4 178.1,326.1 178.5,327.0 178.7,321.7 179.0,318.3 179.3,313.8 179.6,311.4 179.8,310.8 180.1,308.4 180.5,320.4 180.8,330.5 181.1,329.4 181.4,327.4 181.7,327.0 181.9,329.1 182.2,331.0 182.5,332.9 182.8,328.6 183.1,323.4 183.5,318.6 183.8,312.9 184.0,306.7 184.3,258.4 184.5,208.8 184.8,208.8 185.0,208.8 185.3,233.4 185.6,259.4 185.9,282.8 186.1,308.6 186.4,333.0 186.7,330.5 187.0,328.3 187.3,320.5 187.6,311.7 187.9,302.6 188.2,295.0 188.5,298.4 188.8,299.8 189.1,305.4 189.4,311.7 189.7,313.7 190.0,317.6 190.3,315.4 190.6,314.0 190.9,317.4 191.2,321.2 191.5,315.4 191.8,311.7 192.1,309.1 192.4,306.9 192.7,309.1 193.0,311.7 193.3,318.0 193.6,323.5 193.9,320.3 194.1,317.6 194.4,321.9 194.7,327.1 195.0,323.6 195.3,321.2 195.6,322.8 195.9,323.5 196.2,321.4 196.5,317.6 196.2,316.9 195.9,315.6 195.6,316.1 195.3,314.5 195.0,314.0 195.3,315.8 195.6,318.8 195.9,320.4 196.2,323.5 196.5,322.9 196.8,321.2 197.1,324.8 197.4,327.1 197.7,324.4 198.0,321.2 198.3,322.3 198.6,323.5 198.9,324.9 199.2,325.9 199.5,323.0 199.8,321.2 200.1,324.5 200.3,325.9 200.6,324.4 200.9,323.5 201.2,325.6 201.5,327.1 201.8,326.6 202.1,324.7 202.4,325.6 202.7,325.1 203.0,324.9 203.3,325.6 203.6,325.0 203.9,325.9 204.2,325.4 204.5,323.5 204.8,325.6 205.1,328.3 205.4,327.2 205.7,324.7 206.0,326.6 206.3,329.5 206.6,328.0 206.9,327.1 207.2,328.4 207.5,330.7 207.8,329.3 208.1,328.3 208.4,326.5 208.7,325.9 209.0,323.7 209.3,323.5 209.6,327.0 209.9,329.5 210.2,327.3 210.5,325.9 210.7,322.4 211.0,320.0 211.3,320.2 211.6,321.2 211.9,323.5 212.2,325.9 212.5,327.0 212.8,328.3 213.1,329.8 213.4,330.7 213.7,328.6 214.0,325.9 214.3,328.0 214.6,330.7 214.9,330.9 215.2,329.5 215.5,332.0 215.8,333.0 216.1,331.6 216.4,331.9 216.7,331.3 217.0,329.5 217.3,328.5 217.6,325.9 217.9,327.1 218.2,327.1 218.5,323.4 218.8,321.2 219.1,317.1 219.4,311.7 219.7,304.2 220.0,296.2 220.3,286.3 220.6,278.4 220.8,271.7 221.0,267.0 221.3,278.3 221.6,287.9 221.9,282.3 222.1,276.0 222.3,281.4 222.6,287.9 222.9,278.2 223.2,270.1 223.5,266.1 223.9,263.5 224.2,269.1 224.4,276.4 224.7,281.9 225.0,290.5 225.3,299.8 225.6,293.1 225.9,287.9 226.3,253.9 226.6,218.4 226.9,229.9 227.1,240.3 227.4,260.5 227.7,281.9 228.0,285.7 228.3,287.9 228.6,291.1 228.9,293.8 229.2,291.4 229.5,287.9 229.8,294.2 230.1,299.8 230.4,302.3 230.7,303.3 231.0,306.9 231.2,309.3 231.5,306.4 231.8,302.1 232.1,302.7 232.4,304.5 232.7,308.5 233.0,311.7 233.3,309.9 233.6,308.1 233.9,313.3 234.2,317.6 234.5,311.5 234.8,305.7 235.1,303.5 235.4,299.8 235.7,303.4 236.0,306.9 236.3,311.8 236.6,317.6 236.9,303.4 237.2,290.3 237.5,294.3 237.8,299.8 238.1,304.5 238.4,309.3 238.7,312.6 239.0,317.6 239.3,314.6 239.6,311.7 239.9,308.0 240.2,305.7 240.5,310.4 240.8,315.2 241.1,312.2 241.4,309.3 241.6,304.6 241.9,299.8 242.2,303.5 242.5,305.7 242.8,308.9 243.1,314.0 243.4,311.1 243.7,306.9 244.0,305.1 244.3,303.3 244.6,298.7 244.9,293.8 245.2,277.2 245.5,260.0 245.8,271.6 246.1,281.9 246.4,287.6 246.7,293.8 247.0,290.7 247.3,287.9 247.6,290.0 247.9,290.3 248.2,297.1 248.5,305.7 248.8,303.0 249.1,299.8 249.4,297.1 249.7,293.8 250.0,298.8 250.3,305.7 250.6,308.9 250.9,311.7 251.2,310.8 251.5,309.3 251.8,313.1 252.0,315.2 252.3,316.1 252.6,317.6 252.9,321.5 253.2,323.5 253.5,320.6 253.8,317.6 254.1,314.6 254.4,311.7 254.7,309.5 255.0,305.7 255.3,301.8 255.6,299.8 255.9,294.3 256.2,287.9 256.5,285.2 256.8,281.9 257.1,284.6 257.4,287.9 257.7,291.6 258.0,293.8 258.3,296.5 258.6,299.8 258.9,302.7 259.2,305.7 259.5,302.8 259.8,299.8 260.1,301.5 260.4,302.1 260.7,299.2 261.0,297.4 261.3,298.5 261.6,299.8 261.9,302.6 262.1,305.7 262.4,304.0 262.7,302.1 263.0,300.4 263.3,297.4 263.6,298.2 263.9,299.8 264.2,294.5 264.5,287.7 264.8,281.9 265.1,279.0 265.4,276.0 265.7,278.5 266.0,281.9 266.3,280.2 266.6,278.4 266.9,282.9 267.2,285.5 267.5,288.2 267.8,290.3 268.1,295.6 268.3,299.8 268.6,296.5 268.9,293.8 269.2,290.5 269.5,287.9 269.8,286.3 270.1,285.5 270.4,288.7 270.7,291.5 271.0,295.9 271.3,299.8 271.6,302.7 271.9,304.5 272.2,298.9 272.5,295.0 272.8,293.1 273.1,290.3 273.4,288.7 273.7,285.5 274.0,289.8 274.3,293.8 274.6,295.9 274.9,299.8 275.2,302.3 275.5,305.7 275.8,300.6 276.1,297.4 276.4,294.4 276.7,292.6 277.0,291.1 277.3,287.9 277.6,291.1 277.9,293.8 278.2,297.1 278.5,299.8 278.7,303.3 279.0,305.7 279.3,308.9 279.6,310.5 279.9,307.1 280.2,303.3 280.5,295.8 280.8,287.9 281.1,294.1 281.4,299.8 281.7,303.7 282.0,306.9 282.3,300.6 282.6,293.8 282.9,301.9 283.2,309.3 283.5,303.9 283.8,299.8 284.1,294.2 284.4,287.9 284.7,292.6 285.0,297.4 285.3,284.7 285.6,270.1 285.9,257.1 286.2,244.5 286.5,247.1 286.8,251.6 287.1,256.3 287.4,259.9 287.7,265.5 288.0,269.4 288.3,271.5 288.6,273.0 288.8,275.4 289.1,278.4 289.4,278.4 289.7,277.8 290.0,276.7 290.3,276.0 290.6,270.9 290.9,266.4 291.2,262.0 291.5,257.5 291.8,258.4 292.1,259.9 292.4,263.3 292.7,267.0 293.0,272.4 293.3,277.2 293.6,276.1 293.9,272.4 294.2,271.5 294.5,269.4 294.8,264.0 295.1,259.7 295.4,256.7 295.7,251.6 296.0,248.8 296.3,245.7 296.6,251.2 296.9,255.2 297.2,257.4 297.5,259.9 297.8,261.3 298.1,264.7 298.4,266.8 298.7,269.4 299.0,272.6 299.2,275.4 299.5,277.2 299.8,277.2 300.1,276.2 300.4,273.3 300.7,271.2 301.0,269.4 301.3,266.8 301.6,266.1 301.9,263.5 302.2,262.3 302.5,263.4 302.8,265.9 303.1,271.1 303.4,278.4 303.7,278.6 304.0,280.8 304.3,282.3 304.6,283.1 304.9,283.6 305.2,285.5 305.5,285.8 305.8,284.3 306.1,285.3 306.4,287.9 306.7,290.4 307.0,291.5 307.3,289.5 307.6,289.1 307.9,286.3 308.2,285.5 308.5,287.1 308.8,287.9 309.1,288.6 309.4,290.3 309.6,291.9 309.9,292.6 310.2,290.8 310.5,290.3 310.8,288.2 311.1,287.9 311.4,286.1 311.7,283.1 312.0,281.8 312.3,279.6 312.6,278.5 312.9,276.0" fill="none" stroke="#D95319" stroke-width="1.25" stroke-linejoin="round"/>
<polyline points="316.6,244.5 316.9,248.6 317.2,251.7 317.5,255.0 317.8,260.0 318.1,263.8 318.4,267.1 318.7,272.4 319.0,275.2 319.2,277.1 319.5,266.0 319.8,261.7 320.1,257.6 320.4,261.5 320.7,263.6 320.4,279.5 320.6,278.4 320.9,278.3 321.1,265.9 321.3,251.7 321.6,246.1 321.9,239.8 322.2,231.0 322.5,224.3 322.8,231.1 323.1,239.8 323.4,246.0 323.7,251.7 324.0,249.3 324.3,245.7 324.6,252.0 324.9,260.0 325.2,263.2 325.5,267.1 325.5,271.2 325.8,272.2 326.1,272.4 326.1,255.2 326.4,258.7 326.7,263.6 327.0,268.5 327.3,271.9 327.0,271.8 327.3,269.0 327.6,265.4 327.9,263.6 328.2,253.2 328.5,243.3 328.8,249.4 329.1,255.2 329.4,259.3 329.7,263.6 330.0,266.9 330.3,269.5" fill="none" stroke="#D95319" stroke-width="1.25" stroke-linejoin="round"/>
<polyline points="331.5,277.1 331.8,280.0 332.0,284.3 332.3,286.1 332.6,286.7 332.9,289.4 333.2,292.6 333.5,290.5 333.8,287.9 334.1,283.9 334.4,279.5 334.7,277.0 335.0,274.8 335.3,260.0 335.6,245.7 335.9,240.3 336.2,233.8 336.5,223.1 336.8,210.6 337.1,222.8 337.4,233.8 337.7,242.9 338.0,251.7 338.3,248.3 338.6,245.7 338.9,250.8 339.2,257.6 339.5,255.6 339.8,251.7 340.1,247.9 340.4,243.3 340.7,239.2 341.0,233.8 341.3,231.1 341.6,229.0 341.9,237.6 342.2,245.7 342.5,252.6 342.8,257.6 343.1,255.3 343.4,251.7 343.7,245.9 344.0,239.8 344.2,245.3 344.5,251.7 344.8,255.7 345.1,260.0" fill="none" stroke="#D95319" stroke-width="1.25" stroke-linejoin="round"/>
<line x1="128.3" y1="340.6" x2="346.3" y2="340.6" stroke="#8a8a8a" stroke-width="0.9"/>
<line x1="128.3" y1="208.8" x2="128.3" y2="340.6" stroke="#0072BD" stroke-width="0.8" stroke-opacity="0.85"/>
<line x1="346.3" y1="208.8" x2="346.3" y2="340.6" stroke="#D95319" stroke-width="0.8" stroke-opacity="0.6"/>
<line x1="128.3" y1="340.60" x2="130.5" y2="340.60" stroke="#0072BD" stroke-width="0.8"/>
<text x="124.30000000000001" y="344.90" fill="#0072BD" font-size="11.6" text-anchor="end">15</text>
<line x1="128.3" y1="306.43" x2="130.5" y2="306.43" stroke="#0072BD" stroke-width="0.8"/>
<text x="124.30000000000001" y="310.73" fill="#0072BD" font-size="11.6" text-anchor="end">50</text>
<line x1="128.3" y1="257.61" x2="130.5" y2="257.61" stroke="#0072BD" stroke-width="0.8"/>
<text x="124.30000000000001" y="261.91" fill="#0072BD" font-size="11.6" text-anchor="end">100</text>
<line x1="346.3" y1="340.60" x2="344.1" y2="340.60" stroke="#D95319" stroke-width="0.8"/>
<text x="350.3" y="344.90" fill="#D95319" font-size="11.6">0</text>
<line x1="346.3" y1="311.57" x2="344.1" y2="311.57" stroke="#D95319" stroke-width="0.8"/>
<text x="350.3" y="315.87" fill="#D95319" font-size="11.6">0.5</text>
<line x1="346.3" y1="282.54" x2="344.1" y2="282.54" stroke="#D95319" stroke-width="0.8"/>
<text x="350.3" y="286.84" fill="#D95319" font-size="11.6">1</text>
<line x1="346.3" y1="253.51" x2="344.1" y2="253.51" stroke="#D95319" stroke-width="0.8"/>
<text x="350.3" y="257.81" fill="#D95319" font-size="11.6">1.5</text>
<line x1="346.3" y1="224.48" x2="344.1" y2="224.48" stroke="#D95319" stroke-width="0.8"/>
<text x="350.3" y="228.78" fill="#D95319" font-size="11.6">2</text>
<text x="128.3" y="356.90" fill="#262626" font-size="11.6" text-anchor="middle">0</text>
<text x="158.2" y="356.90" fill="#262626" font-size="11.6" text-anchor="middle">14</text>
<text x="188.0" y="356.90" fill="#262626" font-size="11.6" text-anchor="middle">31</text>
<text x="218.5" y="356.90" fill="#262626" font-size="11.6" text-anchor="middle">44</text>
<text x="248.4" y="356.90" fill="#262626" font-size="11.6" text-anchor="middle">57</text>
<text x="278.5" y="356.90" fill="#262626" font-size="11.6" text-anchor="middle">93</text>
<text x="301.3" y="356.90" fill="#262626" font-size="11.6" text-anchor="middle">112</text>
<text x="331.1" y="356.90" fill="#262626" font-size="11.6" text-anchor="middle">142</text>
<text transform="translate(101.00000000000001,274.7) rotate(-90)" fill="#0072BD" font-size="13" text-anchor="middle">Median AE</text>
<text transform="translate(381.6,274.7) rotate(-90)" fill="#D95319" font-size="13" text-anchor="middle">KL divergence</text>
<text x="130.8" y="219.5" fill="#D95319" class="s" font-size="12.2"><tspan font-style="italic">r</tspan><tspan dx="4.2" font-size="16.5">=</tspan><tspan dx="3.9">0.82;</tspan><tspan dx="0.6" font-style="italic">ρ</tspan><tspan dx="2.8" font-size="16.5">=</tspan><tspan dx="3.9">0.84</tspan></text>
<line x1="143.3" y1="389.2" x2="143.3" y2="520.6" stroke="#d6d6d6" stroke-width="1"/>
<line x1="158.2" y1="389.2" x2="158.2" y2="520.6" stroke="#d6d6d6" stroke-width="1"/>
<line x1="173.4" y1="389.2" x2="173.4" y2="520.6" stroke="#d6d6d6" stroke-width="1"/>
<line x1="188.0" y1="389.2" x2="188.0" y2="520.6" stroke="#d6d6d6" stroke-width="1"/>
<line x1="203.2" y1="389.2" x2="203.2" y2="520.6" stroke="#d6d6d6" stroke-width="1"/>
<line x1="218.5" y1="389.2" x2="218.5" y2="520.6" stroke="#d6d6d6" stroke-width="1"/>
<line x1="233.5" y1="389.2" x2="233.5" y2="520.6" stroke="#d6d6d6" stroke-width="1"/>
<line x1="248.4" y1="389.2" x2="248.4" y2="520.6" stroke="#d6d6d6" stroke-width="1"/>
<line x1="263.3" y1="389.2" x2="263.3" y2="520.6" stroke="#d6d6d6" stroke-width="1"/>
<line x1="278.5" y1="389.2" x2="278.5" y2="520.6" stroke="#d6d6d6" stroke-width="1"/>
<line x1="286.4" y1="389.2" x2="286.4" y2="520.6" stroke="#d6d6d6" stroke-width="1"/>
<line x1="301.3" y1="389.2" x2="301.3" y2="520.6" stroke="#d6d6d6" stroke-width="1"/>
<line x1="316.2" y1="389.2" x2="316.2" y2="520.6" stroke="#d6d6d6" stroke-width="1"/>
<line x1="331.1" y1="389.2" x2="331.1" y2="520.6" stroke="#d6d6d6" stroke-width="1"/>
<polyline points="128.4,510.6 128.8,510.7 129.1,509.4 129.4,510.3 129.7,512.1 130.0,512.9 130.2,511.6 130.5,510.6 130.8,508.2 131.2,506.4 131.5,503.4 131.8,503.4 132.1,503.2 132.3,504.6 132.6,499.0 132.9,494.1 133.2,489.1 133.5,498.2 133.9,507.0 134.2,510.6 134.5,512.9 134.8,512.5 135.0,509.7 135.3,509.4 135.6,511.8 135.9,512.9 136.2,514.2 136.5,514.1 136.8,515.3 137.1,515.1 137.3,515.3 137.7,515.1 138.0,516.4 138.3,515.9 138.6,516.1 138.9,515.5 139.2,514.7 139.5,514.6 139.8,512.4 140.1,511.8 140.4,511.7 140.6,513.5 140.9,514.1 141.2,514.3 141.5,512.7 141.9,512.9 142.2,513.4 142.5,513.8 142.7,512.4 143.0,512.9 143.3,514.2 143.6,515.4 143.9,516.0 144.2,517.1 144.5,517.3 144.8,518.2 145.1,519.5 145.4,519.2 145.7,518.5 146.0,517.1 146.3,516.4 146.6,515.1 147.0,515.3 147.2,516.7 147.5,517.5 147.8,517.7 148.1,516.0 148.4,515.5 148.6,514.1 148.9,515.5 149.3,516.1 149.6,515.9 149.9,516.6 150.1,517.1 150.4,517.7 150.7,516.7 151.0,514.7 151.4,514.1 151.6,513.9 151.9,514.3 152.2,515.3 152.5,514.5 152.8,512.7 153.1,511.8 153.5,512.5 153.8,512.8 154.1,513.5 154.4,512.6 154.7,510.9 154.9,510.6 155.2,510.4 155.6,513.1 155.9,512.9 156.2,511.9 156.4,510.6 156.7,510.6 157.0,510.6 157.3,510.7 157.7,510.0 157.9,509.9 158.2,511.4 158.5,511.8 158.8,510.5 159.0,509.8 159.3,508.8 159.6,508.6 160.0,509.4 160.3,511.2 160.6,511.5 160.9,510.7 161.2,509.3 161.5,508.8 161.7,509.3 162.0,509.1 162.3,510.0 162.6,510.7 162.9,510.2 163.2,510.6 163.5,511.1 163.8,510.3 164.1,509.4 164.4,511.0 164.7,512.3 165.0,512.4 165.3,512.1 165.7,511.8 166.0,512.9 166.3,513.1 166.5,513.9 166.8,515.3 167.1,514.1 167.4,513.6 167.6,514.1 168.0,513.5 168.3,513.3 168.6,511.8 168.9,512.1 169.2,513.4 169.4,512.9 169.7,512.6 170.1,509.7 170.4,509.4 170.7,510.4 170.9,510.8 171.2,511.8 171.5,511.4 171.8,513.5 172.2,512.9 172.5,512.5 172.8,513.1 173.1,513.2 173.4,512.9 173.6,514.5 173.9,514.5 174.2,514.7 174.5,514.3 174.8,514.2 175.1,514.1 175.4,513.9 175.7,515.9 176.0,515.3 176.3,515.9 176.6,514.0 176.9,514.1 177.2,513.6 177.5,514.4 177.7,515.3 178.1,515.4 178.4,516.9 178.7,516.5 179.0,517.7 179.3,518.0 179.5,517.7 179.8,517.2 180.2,519.1 180.5,518.9 180.8,519.2 181.1,518.9 181.4,519.4 181.7,518.3 182.0,517.7 182.3,518.2 182.6,519.7 182.9,519.5 183.1,519.4 183.4,517.9 183.7,516.5 184.0,511.4 184.3,507.0 184.5,472.1 184.8,436.8 185.0,437.3 185.2,436.8 185.5,464.0 185.8,492.7 186.1,503.1 186.4,514.1" fill="none" stroke="#0072BD" stroke-width="1.25" stroke-linejoin="round"/>
<polyline points="188.6,488.5 188.8,489.4 189.1,490.6 189.4,492.7 189.7,494.7 190.0,496.0 190.2,498.7 190.5,499.3 190.9,500.3 191.2,502.2 191.5,500.2 191.8,497.5 192.1,499.5 192.4,503.4 192.6,502.7 192.9,500.4 193.2,499.9 193.5,499.7 193.8,502.3 194.1,502.2 194.4,499.7 194.7,499.1 195.0,496.3 195.3,491.7 195.7,485.6 196.0,488.7 196.2,489.6 196.5,492.7 196.2,491.4 195.9,489.5 195.6,490.0 195.3,488.6 195.0,486.8 195.3,487.8 195.6,488.3 196.0,489.1 196.2,490.0 196.5,492.2 196.8,492.7 197.1,490.9 197.3,489.4 197.6,487.4 197.9,487.2 198.2,488.0 198.6,489.1 198.8,489.8 199.1,492.7 199.4,493.9 199.7,498.2 200.0,502.2 200.3,503.9 200.7,507.0 201.0,505.4 201.3,501.8 201.5,499.9 201.8,499.3 202.1,498.4 202.4,498.7" fill="none" stroke="#0072BD" stroke-width="1.25" stroke-linejoin="round"/>
<polyline points="203.9,512.9 204.2,512.1 204.5,512.8 204.7,511.8 205.1,510.6 205.4,509.5 205.7,509.4 206.0,510.2 206.3,510.6 206.5,511.8 206.8,511.4 207.2,508.6 207.5,508.2 207.8,508.2 208.0,505.3 208.3,505.2 208.7,508.1 209.0,509.4 209.3,510.5 209.6,510.4 209.9,511.8 210.1,510.5 210.4,508.9 210.7,508.2 211.0,509.3 211.3,510.8 211.6,512.9 211.9,511.5 212.2,511.5 212.5,509.4 212.8,509.6 213.1,508.6 213.4,507.0 213.7,505.6 214.0,505.8 214.3,507.4 214.6,510.6 214.8,511.8 215.2,511.7 215.5,513.8 215.8,514.1 216.1,514.1 216.4,515.9 216.7,515.3 217.0,513.6 217.3,514.4 217.6,512.9 217.9,511.4 218.2,509.8 218.5,509.4 218.8,509.2 219.1,511.6 219.4,511.8 219.6,510.2 219.9,508.0 220.2,507.0 220.6,509.8 220.9,512.9 221.2,514.6 221.5,514.0 221.7,515.3 222.0,512.3 222.3,508.3 222.6,505.8 222.9,500.8 223.2,497.6 223.5,492.7 223.8,489.0 224.1,484.4 224.4,479.6 224.7,476.0 225.0,477.2 225.3,479.2 225.7,482.0 226.0,445.9 226.3,409.4 226.5,409.4 226.7,409.4 227.1,486.8 227.4,487.5 227.7,488.6 228.0,490.3 228.3,491.4 228.6,492.3 228.9,492.7 229.1,496.1 229.4,498.4 229.7,501.0 230.0,500.8 230.3,501.0 230.7,502.2 231.0,505.7 231.2,508.2 231.5,507.6 231.8,507.8 232.1,507.0 232.4,504.9 232.7,505.2 233.0,503.4 233.3,501.5 233.7,500.9 234.0,498.7 234.3,500.6 234.5,501.0 234.8,502.2 235.1,503.6 235.4,507.0 235.7,506.6 236.0,504.6 236.2,503.4 236.6,505.0 236.9,504.5 237.2,505.8 237.5,506.4 237.7,508.8 238.0,509.4 238.3,511.1 238.7,512.7 239.0,515.3 239.3,512.7 239.6,510.6 239.8,509.6 240.1,507.2 240.4,507.0 240.7,508.6 241.0,510.1 241.4,511.8 241.6,508.6 241.9,504.7 242.2,502.2 242.5,504.3 242.8,506.0 243.1,507.0 243.4,508.5 243.7,508.2 244.0,509.4 244.3,507.4 244.7,504.6 245.0,507.6 245.2,511.5 245.5,514.1 245.8,502.5 246.1,492.7 246.4,481.6 246.7,468.9 247.0,463.9 247.3,457.0 247.6,465.9 247.9,474.9 248.2,488.6 248.5,502.2 248.8,494.6 249.1,486.8 249.4,488.0 249.7,489.1 250.0,492.9 250.3,498.7 250.6,496.6 250.9,492.7 251.2,486.2 251.5,480.8 251.8,483.1 252.0,486.8 252.3,490.7 252.6,496.3 252.9,498.8 253.2,502.2 253.5,501.7 253.8,498.9 254.1,498.7 254.4,496.7 254.7,496.7 255.0,495.1 255.3,492.1 255.6,490.3 255.9,484.6 256.2,480.8 256.5,472.7 256.8,464.1 257.1,462.5 257.4,460.6 257.7,470.7 258.0,480.8 258.3,487.2 258.6,492.7 258.9,488.9 259.2,486.8 259.5,484.5 259.8,480.8 260.1,472.3 260.4,463.0 260.7,465.0 261.0,468.9 261.3,462.2 261.6,457.0 261.9,452.2 262.1,447.5 262.4,455.2 262.7,463.0 263.0,458.1 263.3,453.3 263.6,449.4 263.9,445.1 264.2,445.9 264.5,448.3 264.7,450.3 265.0,451.1 264.7,454.6 264.4,459.8 264.1,464.4 263.8,467.5 263.5,472.5 263.8,479.1 264.1,484.4 264.3,479.3 264.5,472.5 264.8,449.3 265.1,426.6 265.4,424.5 265.7,423.3 266.0,420.7 266.3,423.7 266.6,426.6 266.9,424.0 267.2,421.9 267.5,431.1 267.8,438.5 268.1,440.3 268.3,440.9 268.6,454.6 268.9,468.9 269.2,470.8 269.5,473.7 269.8,475.1 270.1,477.2 270.4,470.6 270.7,464.1 271.0,452.9 271.3,439.7 271.6,444.5 271.9,448.0 272.2,453.9 272.5,458.2 272.8,450.8 273.1,442.1 273.4,445.2 273.7,446.8 274.0,444.2 274.3,443.3 274.6,457.3 274.9,471.3 275.2,466.8 275.5,460.6 275.8,454.6 276.1,446.8 276.4,439.2 276.7,432.6 277.0,426.5 277.3,420.7 277.6,420.3 277.9,419.5" fill="none" stroke="#0072BD" stroke-width="1.25" stroke-linejoin="round"/>
<polyline points="279.0,510.6 279.3,510.6 279.6,511.2 279.9,510.6 280.2,511.8 280.5,511.3 280.8,511.2 281.1,509.9 281.4,510.6 281.7,508.1 282.0,507.0 282.3,507.3 282.6,505.8 282.9,508.1 283.2,509.4 283.5,512.0 283.8,512.9 284.1,514.4 284.4,515.3 284.7,516.5 285.0,516.5" fill="none" stroke="#0072BD" stroke-width="1.25" stroke-linejoin="round"/>
<polyline points="286.4,426.6 286.8,409.9 287.1,413.1 287.4,414.7 287.7,412.5 288.0,408.8 288.3,413.8 288.6,420.7 288.8,412.0 289.1,402.8 289.4,408.3 289.7,414.7 290.0,419.8 290.3,424.2 290.6,420.2 290.9,417.1 291.2,411.2 291.5,405.2 291.8,407.8 292.1,408.8 292.4,405.4 292.7,401.6 293.0,413.6 293.3,426.6 293.7,446.8 293.9,441.5 294.1,436.1 294.4,431.2 294.7,426.6 295.1,420.7 295.4,415.6 295.7,408.8 296.0,402.7 296.3,397.4 296.6,399.7 296.9,402.8 297.2,407.9 297.5,412.3 297.8,405.6 298.1,400.4 298.4,401.8 298.7,402.8 299.0,406.7 299.2,408.8 299.5,409.4 299.8,409.9 300.1,411.9 300.4,414.7 300.7,422.4 301.0,430.2 301.3,437.9 301.6,425.8 301.9,415.2 302.2,410.0 302.5,406.3 302.8,406.2 303.2,407.6 303.5,408.4 303.8,410.1 304.1,411.8 304.4,413.9 304.7,416.0 305.0,419.0 305.4,421.6 305.7,425.3 306.0,420.0 306.3,416.4 306.6,419.7 306.9,422.7 307.3,426.0 307.6,427.8 307.9,431.2 308.2,434.1 308.5,438.0 308.8,441.7 309.1,446.4 309.5,450.5 309.8,453.1 310.1,456.8 310.4,459.2 310.7,460.6 311.0,463.1 311.3,465.7 311.7,462.6 312.0,459.4 312.3,455.2 312.6,450.5 312.9,444.2 313.2,437.9 313.6,433.1 313.9,429.1 314.2,431.7 314.5,435.4" fill="none" stroke="#0072BD" stroke-width="1.25" stroke-linejoin="round"/>
<polyline points="316.4,437.9 316.7,434.2 317.0,431.6 317.3,428.5 317.7,425.3 318.0,430.1 318.3,435.4 318.6,440.0 318.9,444.2 319.2,436.9 319.5,431.6 319.9,435.7 320.2,440.4 320.5,438.0 320.8,434.1 321.1,429.2 321.4,425.3 321.8,422.2 322.1,419.0 322.4,413.3 322.7,407.6 323.0,409.7 323.3,412.6 323.6,419.9 324.0,425.3 324.3,432.4 324.6,440.4 324.9,444.8 325.2,448.0 325.5,439.1 325.9,431.6 326.2,421.3 326.5,412.6 326.8,415.3 327.1,416.4 327.4,415.1 327.7,413.9 328.1,415.6 328.4,419.0 328.7,421.9 329.0,425.3 329.3,420.7 329.6,416.4 329.9,421.3 330.3,425.3 330.6,429.5 330.9,435.4 331.2,437.4 331.5,440.4 331.8,443.2 332.2,444.2 332.5,441.5 332.8,437.9 333.1,442.3 333.4,448.0 333.7,450.2 334.0,453.1 334.4,448.3 334.7,444.2 335.0,435.1 335.3,425.3 335.6,438.1 335.9,450.5 336.3,456.3 336.6,460.6 336.9,464.4 337.2,467.0 337.5,460.7 337.8,454.3 338.1,449.7 338.5,444.2 338.8,441.5 339.1,437.9 339.4,429.0 339.7,419.0 340.0,425.2 340.4,431.6 340.7,434.1 341.0,435.4 341.3,430.7 341.6,425.3 341.9,428.0 342.2,429.1 342.6,432.7 342.9,437.9 343.2,436.8 343.5,434.1 343.8,438.2 344.1,444.2" fill="none" stroke="#0072BD" stroke-width="1.25" stroke-linejoin="round"/>
<polyline points="128.4,509.7 128.8,512.0 129.1,513.2 129.4,509.2 129.6,504.9 129.9,501.9 130.2,499.0 130.5,496.3 130.8,491.8 131.1,495.0 131.4,497.8 131.7,500.0 132.0,502.5 132.3,500.1 132.6,496.6 132.9,495.6 133.2,493.0 133.5,496.8 133.8,500.2 134.1,499.3 134.4,499.0 134.7,501.9 135.0,504.9 135.3,502.5 135.6,500.2 135.9,504.2 136.2,507.3 136.4,504.5 136.7,502.5 137.0,505.3 137.3,508.5 137.6,507.4 137.9,506.1 138.2,507.7 138.5,509.7 138.8,510.5 139.1,512.0 139.4,512.0 139.7,510.9 140.0,512.7 140.3,513.2 140.6,512.6 140.9,512.0 141.2,513.1 141.5,514.4 141.8,513.2 142.1,513.2 142.4,511.7 142.7,510.9 143.0,510.7 143.3,512.0 143.6,511.0 143.9,509.7 144.2,512.2 144.5,514.4 144.8,511.8 145.1,510.9 145.4,512.3 145.7,512.0 146.0,510.5 146.3,509.7 146.6,509.2 146.8,507.3 147.1,506.8 147.4,504.9 147.7,504.1 148.0,501.4 148.3,501.9 148.6,503.7 148.9,505.4 149.2,507.3 149.5,504.5 149.8,500.2 150.1,498.0 150.4,497.8 150.7,500.4 151.0,504.9 151.3,506.8 151.6,508.5 151.9,507.3 152.2,506.1 152.5,508.7 152.8,509.7 153.1,509.0 153.4,507.3 153.7,506.2 154.0,504.9 154.3,508.9 154.6,510.9 154.9,509.1 155.2,507.3 155.5,505.0 155.8,502.5 156.1,498.8 156.4,494.2 156.7,493.1 157.0,492.4 157.2,497.2 157.5,502.5 157.8,505.7 158.1,508.5 158.4,507.0 158.7,506.1 159.0,509.4 159.3,510.9 159.6,510.0 159.9,508.5 160.2,506.8 160.5,504.9 160.8,501.7 161.1,500.2 161.4,496.9 161.7,494.2 162.0,493.4 162.3,493.0 162.6,496.7 162.9,500.2 163.2,501.5 163.5,502.5 163.8,499.7 164.1,495.4 164.4,495.7 164.7,494.2 165.0,497.2 165.3,500.2 165.6,502.4 165.9,504.9 166.2,506.4 166.5,507.3 166.8,506.5 167.1,503.7 167.3,505.2 167.6,507.3 167.9,506.2 168.2,504.9 168.5,507.9 168.8,509.7 169.1,507.8 169.4,507.3 169.7,506.3 170.0,506.1 170.3,505.9 170.6,503.7 170.9,503.8 171.2,502.5 171.5,504.3 171.8,506.1 172.1,507.1 172.4,509.7 172.7,511.6 173.0,512.0 173.3,510.6 173.6,508.5 173.9,509.7 174.2,509.7 174.5,511.2 174.8,510.9 175.1,509.3 175.4,506.1 175.7,504.2 176.0,502.5 176.3,504.8 176.6,508.5 176.9,506.3 177.2,504.9 177.5,503.8 177.7,502.5 178.0,504.9 178.3,507.3 178.6,506.1 178.9,506.1 179.2,502.5 179.5,500.2 179.8,501.6 180.1,502.5 180.4,505.1 180.7,507.3 181.0,508.2 181.3,509.7 181.6,511.3 181.9,510.9 182.2,509.9 182.5,508.5 182.8,504.6 183.1,502.5 183.4,496.4 183.7,490.7 184.0,479.3 184.3,466.9 184.5,427.9 184.8,389.6 185.0,390.0 185.2,389.6 185.5,421.3 185.7,455.0 185.9,464.7 186.2,475.2 186.4,477.7 186.7,478.8 187.0,480.7 187.3,482.3 187.6,483.9 187.9,484.7 188.1,482.9 188.4,482.3 188.7,485.9 189.0,489.5 189.3,490.8 189.6,491.8 189.9,490.2 190.2,489.5 190.5,492.7 190.8,495.4 191.1,494.3 191.4,493.0 191.7,492.8 192.0,490.7 192.3,493.2 192.6,495.4 192.9,496.4 193.2,497.8 193.5,498.2 193.8,500.2 194.1,497.7 194.4,496.6 194.7,495.9 195.0,494.2 195.3,491.7 195.6,490.7 195.9,491.0 196.2,493.0 196.5,494.2 196.8,496.6 196.5,496.0 196.2,496.1 195.9,495.0 195.6,494.8 195.3,492.8 195.0,493.0 195.3,493.8 195.6,496.6 195.9,494.2 196.2,490.7 196.5,492.1 196.8,494.2 197.1,497.0 197.4,499.0 197.7,494.5 198.0,490.7 198.3,488.8 198.6,488.3 198.9,487.2 199.2,487.1 199.5,489.3 199.8,493.0 200.1,495.6 200.3,496.6 200.6,498.5 200.9,500.2 201.2,500.5 201.5,501.4 201.8,501.8 202.1,502.3 202.4,502.2 202.7,504.5 203.0,504.5 203.3,505.8 203.6,505.4 203.9,506.1 204.2,504.6 204.5,502.5 204.8,502.6 205.1,503.7 205.4,503.4 205.7,504.9 206.0,506.4 206.3,506.1 206.6,505.6 206.9,503.7 207.2,504.2 207.5,505.5 207.8,506.6 208.1,506.1 208.4,507.3 208.7,507.3 209.0,505.7 209.3,504.9 209.6,505.7 209.9,506.1 210.2,505.8 210.5,503.7 210.7,502.8 211.0,501.9 211.3,503.1 211.6,502.5 211.9,503.2 212.2,504.9 212.5,505.9 212.8,507.3 213.1,507.1 213.4,506.1 213.7,505.0 214.0,504.9 214.3,505.7 214.6,507.3 214.9,506.9 215.2,504.9 215.5,504.3 215.8,503.7 216.1,503.7 216.4,502.5 216.7,502.6 217.0,503.7 217.3,503.7 217.6,504.9 217.9,502.9 218.2,501.4 218.5,500.1 218.8,500.2 219.1,499.3 219.4,496.6 219.7,487.3 220.0,478.8 220.3,471.2 220.6,463.3 220.8,465.5 221.1,469.3 221.4,477.1 221.7,484.7 222.0,487.5 222.3,490.7 222.6,484.5 222.9,478.8 223.2,470.8 223.5,464.5 223.8,464.9 224.1,466.9 224.4,476.5 224.7,484.7 225.0,487.4 225.3,490.7 225.6,481.2 225.9,472.8 226.2,463.3 226.5,455.0 226.9,420.5 227.2,455.0 227.4,463.5 227.7,472.8 228.0,475.3 228.3,478.8 228.6,476.7 228.9,476.4 229.2,479.7 229.5,482.3 229.8,483.8 230.1,485.9 230.4,486.4 230.7,488.3 231.0,488.1 231.2,487.1 231.5,487.5 231.8,489.5 232.1,489.6 232.4,490.7 232.7,490.7 233.0,489.5 233.3,490.5 233.6,493.0 233.9,491.7 234.2,490.7 234.5,489.5 234.8,487.1 235.1,486.5 235.4,484.7 235.7,485.8 236.0,488.3 236.3,485.0 236.6,482.3 236.9,484.0 237.2,484.7 237.5,487.4 237.8,490.7 238.1,493.9 238.4,495.4 238.7,497.2 239.0,500.2 239.3,498.1 239.6,494.2 239.9,492.4 240.2,490.7 240.5,491.3 240.8,493.0 241.1,491.2 241.4,489.5 241.6,489.9 241.9,491.8 242.2,494.0 242.5,495.4 242.8,492.6 243.1,490.7 243.4,493.2 243.7,494.2 244.0,492.6 244.3,490.7 244.6,484.4 244.9,478.8 245.2,475.3 245.5,472.8 245.8,471.9 246.1,470.5 246.4,474.0 246.7,478.8 247.0,482.5 247.3,484.7 247.6,481.0 247.9,478.8 248.2,475.2 248.5,471.6 248.8,470.5 249.1,469.3 249.4,470.6 249.7,472.8 250.0,474.6 250.3,475.2 250.6,476.2 250.9,477.6 251.2,478.5 251.5,478.8 251.8,477.7 252.0,476.4 252.3,477.8 252.6,480.0 252.9,480.3 253.2,481.1 253.5,480.9 253.8,482.3 254.1,480.5 254.4,480.0 254.7,479.5 255.0,477.6 255.3,474.8 255.6,472.8 255.9,470.2 256.2,466.9 256.5,464.9 256.8,464.5 257.1,468.8 257.4,472.8 257.7,475.5 258.0,478.8 258.3,477.6 258.6,476.4 258.9,474.2 259.2,472.8 259.5,473.1 259.8,475.2 260.1,474.2 260.4,474.0 260.7,472.9 261.0,472.8 261.3,473.9 261.6,476.4 261.9,476.2 262.1,475.2 262.4,473.3 262.7,472.0 263.0,471.6 263.3,469.3 263.6,467.4 263.9,464.5 264.2,463.5 264.5,460.9 264.2,455.0 264.5,457.5 264.8,458.6 265.1,456.0 265.4,455.0 265.7,457.5 266.0,460.9 266.3,458.2 266.6,457.4 266.9,460.1 267.2,462.1 267.5,461.3 267.8,459.8 268.1,461.8 268.3,464.5 268.6,460.8 268.9,457.4 269.2,460.1 269.5,462.1 269.8,461.3 270.1,459.8 270.4,456.9 270.7,455.0 271.0,457.5 271.3,458.6 271.6,460.1 271.9,462.1 272.2,459.4 272.5,456.2 272.8,457.9 273.1,460.9 273.4,461.4 273.7,463.3 274.0,461.2 274.3,457.4 274.6,459.6 274.9,460.9 275.2,464.3 275.5,466.9 275.8,463.6 276.1,462.1 276.4,462.4 276.7,464.5 277.0,463.2 277.3,463.3" fill="none" stroke="#D95319" stroke-width="1.25" stroke-linejoin="round"/>
<polyline points="278.5,488.3 278.7,490.1 279.0,493.0 279.3,494.4 279.6,496.6 279.9,493.4 280.2,490.7 280.5,488.0 280.8,487.1 281.1,488.5 281.4,490.7 281.7,492.1 282.0,493.0 282.3,490.0 282.6,488.3 282.9,487.8 283.2,485.9 283.5,486.6 283.8,487.1 284.1,486.3 284.4,484.7" fill="none" stroke="#D95319" stroke-width="1.25" stroke-linejoin="round"/>
<polyline points="286.2,424.7 286.5,421.2 286.8,418.7 287.1,419.8 287.4,421.1 287.7,423.2 288.0,424.7 288.3,425.5 288.6,427.0 288.8,427.8 289.1,430.6 289.4,433.0 289.7,434.2 290.0,434.1 290.3,433.0 290.6,430.2 290.9,428.2 291.2,425.5 291.5,424.7 291.8,424.2 292.1,422.3 292.4,424.9 292.7,427.0 293.0,424.9 293.3,424.7 293.6,423.0 293.9,422.3 294.2,420.3 294.5,419.9 294.8,418.1 295.1,415.1 295.4,413.4 295.7,412.8 296.0,412.4 296.3,410.4 296.6,413.9 296.9,416.3 297.2,416.7 297.5,418.7 297.8,418.5 298.1,417.5 298.4,420.3 298.7,423.5 299.0,426.3 299.2,428.2 299.5,429.5 299.8,429.4 300.1,431.3 300.4,433.3 300.7,437.4 301.0,438.8 301.3,441.3 301.6,443.3 301.9,444.1 302.2,444.9 302.5,446.2 302.8,447.3 303.1,447.8 303.4,448.4 303.7,448.9 304.0,448.7 304.3,450.6 304.6,450.8 304.9,450.4 305.2,450.2 305.5,450.8 305.8,449.6 306.1,449.5 306.4,451.3 306.7,450.5 307.0,452.0 307.3,453.0 307.6,453.8 307.9,453.3 308.2,454.4 308.5,454.2 308.8,454.7 309.1,453.8 309.4,453.2 309.6,452.7 309.9,451.5 310.2,450.5 310.5,450.8 310.8,448.7 311.1,447.2 311.4,446.5 311.7,446.0 312.0,446.6 312.3,448.4 312.6,446.3 312.9,444.9 313.2,444.7 313.5,446.0 313.8,444.7 314.1,442.5 314.4,441.6 314.7,440.1 314.4,441.1 314.1,442.6 313.9,444.7 313.6,446.1 313.9,447.2 314.2,448.5 314.4,447.6 314.7,445.0" fill="none" stroke="#D95319" stroke-width="1.25" stroke-linejoin="round"/>
<polyline points="316.6,420.0 316.9,422.0 317.2,424.7 317.5,427.3 317.8,430.7 318.1,433.2 318.4,434.2 318.7,431.1 319.0,429.5 319.2,428.4 319.5,427.1 319.8,429.7 320.1,433.0 320.4,432.5 320.7,430.7 321.0,427.8 321.3,424.7 321.6,422.9 321.9,420.0 322.2,417.5 322.5,416.4 322.8,419.7 323.1,422.3 323.4,426.7 323.7,430.7 324.0,432.4 324.3,434.2 324.6,431.2 324.9,427.1 325.2,430.1 325.5,431.9 325.8,433.5 326.1,436.6 326.4,435.0 326.7,434.2 327.0,435.7 327.3,437.8 327.6,436.0 327.9,435.4 328.2,433.4 328.5,433.0 328.8,431.4 329.1,430.7 329.4,429.5 329.7,429.5 330.0,429.3 330.3,428.3 330.6,429.4 330.9,430.7 331.2,430.5 331.5,431.9 331.8,432.7 332.0,434.2 332.3,435.4 332.6,436.6 332.9,437.5 333.2,439.0 333.5,436.0 333.8,434.2 334.1,431.6 334.4,430.7 334.7,427.9 335.0,427.1 335.3,426.9 335.6,424.7 335.9,422.2 336.2,418.8 336.5,409.0 336.8,400.9 337.2,391.4 337.4,396.6 337.6,400.9 338.0,418.8 338.3,425.7 338.6,430.7 338.9,427.8 339.2,424.7 339.5,421.0 339.8,418.8 340.1,420.5 340.4,422.3 340.7,418.6 341.0,415.2 341.3,412.8 341.6,411.6 341.9,414.1 342.2,416.4 342.5,418.4 342.8,422.3 343.1,421.4 343.4,418.8 343.7,422.0 344.0,424.7 344.2,422.6 344.5,420.0 344.8,420.2 345.1,418.8" fill="none" stroke="#D95319" stroke-width="1.25" stroke-linejoin="round"/>
<line x1="128.3" y1="520.6" x2="346.3" y2="520.6" stroke="#8a8a8a" stroke-width="0.9"/>
<line x1="128.3" y1="389.2" x2="128.3" y2="520.6" stroke="#0072BD" stroke-width="0.8" stroke-opacity="0.85"/>
<line x1="346.3" y1="389.2" x2="346.3" y2="520.6" stroke="#D95319" stroke-width="0.8" stroke-opacity="0.6"/>
<line x1="128.3" y1="520.60" x2="130.5" y2="520.60" stroke="#0072BD" stroke-width="0.8"/>
<text x="124.30000000000001" y="524.90" fill="#0072BD" font-size="11.6" text-anchor="end">15</text>
<line x1="128.3" y1="486.53" x2="130.5" y2="486.53" stroke="#0072BD" stroke-width="0.8"/>
<text x="124.30000000000001" y="490.83" fill="#0072BD" font-size="11.6" text-anchor="end">50</text>
<line x1="128.3" y1="437.87" x2="130.5" y2="437.87" stroke="#0072BD" stroke-width="0.8"/>
<text x="124.30000000000001" y="442.17" fill="#0072BD" font-size="11.6" text-anchor="end">100</text>
<line x1="128.3" y1="389.20" x2="130.5" y2="389.20" stroke="#0072BD" stroke-width="0.8"/>
<text x="124.30000000000001" y="393.50" fill="#0072BD" font-size="11.6" text-anchor="end">150</text>
<line x1="346.3" y1="520.60" x2="344.1" y2="520.60" stroke="#D95319" stroke-width="0.8"/>
<text x="350.3" y="524.90" fill="#D95319" font-size="11.6">0</text>
<line x1="346.3" y1="495.18" x2="344.1" y2="495.18" stroke="#D95319" stroke-width="0.8"/>
<text x="350.3" y="499.48" fill="#D95319" font-size="11.6">1</text>
<line x1="346.3" y1="469.77" x2="344.1" y2="469.77" stroke="#D95319" stroke-width="0.8"/>
<text x="350.3" y="474.07" fill="#D95319" font-size="11.6">2</text>
<line x1="346.3" y1="444.35" x2="344.1" y2="444.35" stroke="#D95319" stroke-width="0.8"/>
<text x="350.3" y="448.65" fill="#D95319" font-size="11.6">3</text>
<line x1="346.3" y1="418.94" x2="344.1" y2="418.94" stroke="#D95319" stroke-width="0.8"/>
<text x="350.3" y="423.24" fill="#D95319" font-size="11.6">4</text>
<line x1="346.3" y1="393.52" x2="344.1" y2="393.52" stroke="#D95319" stroke-width="0.8"/>
<text x="350.3" y="397.82" fill="#D95319" font-size="11.6">5</text>
<text x="128.3" y="536.90" fill="#262626" font-size="11.6" text-anchor="middle">0</text>
<text x="158.2" y="536.90" fill="#262626" font-size="11.6" text-anchor="middle">14</text>
<text x="188.0" y="536.90" fill="#262626" font-size="11.6" text-anchor="middle">31</text>
<text x="218.5" y="536.90" fill="#262626" font-size="11.6" text-anchor="middle">44</text>
<text x="248.4" y="536.90" fill="#262626" font-size="11.6" text-anchor="middle">57</text>
<text x="278.5" y="536.90" fill="#262626" font-size="11.6" text-anchor="middle">93</text>
<text x="301.3" y="536.90" fill="#262626" font-size="11.6" text-anchor="middle">112</text>
<text x="331.1" y="536.90" fill="#262626" font-size="11.6" text-anchor="middle">142</text>
<text transform="translate(101.00000000000001,454.9) rotate(-90)" fill="#0072BD" font-size="13" text-anchor="middle">Median AE</text>
<text transform="translate(371.0,454.9) rotate(-90)" fill="#D95319" font-size="13" text-anchor="middle">KL divergence</text>
<text x="130.8" y="399.9" fill="#D95319" class="s" font-size="12.2"><tspan font-style="italic">r</tspan><tspan dx="4.2" font-size="16.5">=</tspan><tspan dx="3.9">0.93;</tspan><tspan dx="0.6" font-style="italic">ρ</tspan><tspan dx="2.8" font-size="16.5">=</tspan><tspan dx="3.9">0.91</tspan></text>
<line x1="460.5" y1="32.3" x2="460.5" y2="163.5" stroke="#d6d6d6" stroke-width="1"/>
<line x1="491.1" y1="32.3" x2="491.1" y2="163.5" stroke="#d6d6d6" stroke-width="1"/>
<line x1="533.3" y1="32.3" x2="533.3" y2="163.5" stroke="#d6d6d6" stroke-width="1"/>
<line x1="574.6" y1="32.3" x2="574.6" y2="163.5" stroke="#d6d6d6" stroke-width="1"/>
<line x1="616.1" y1="32.3" x2="616.1" y2="163.5" stroke="#d6d6d6" stroke-width="1"/>
<polyline points="439.4,152.3 439.7,150.2 440.0,147.5 440.3,144.1 440.6,141.6 440.9,138.1 441.2,135.7 441.5,133.7 441.8,133.3 442.1,130.6 442.3,129.7 442.6,127.3 442.9,123.8 443.2,119.7 443.5,114.3 443.8,109.1 444.1,104.8 444.4,104.7 444.7,105.9 445.1,117.8 445.3,121.1 445.6,123.8 445.9,133.3 446.3,141.6 446.5,145.3 446.7,147.5 447.0,147.2 447.3,145.2 447.6,146.9 447.9,149.9 448.2,148.7 448.5,146.4 448.8,148.2 449.1,148.7 449.4,148.6 449.7,147.5 450.0,149.0 450.3,151.1 450.6,148.7 450.9,147.5 451.2,147.0 451.5,145.2 451.8,143.6 452.1,142.8 452.4,140.7 452.7,139.2 453.0,137.5 453.3,135.7 453.6,132.4 453.9,129.7 454.2,131.6 454.5,132.1 454.8,135.1 455.1,139.2 455.4,135.9 455.7,134.5 456.0,138.2 456.3,141.6 456.6,144.8 456.8,147.5 457.2,142.8 457.5,144.6 457.8,145.2" fill="none" stroke="#0072BD" stroke-width="1.25" stroke-linejoin="round"/>
<polyline points="460.4,136.8 460.7,139.0 461.0,140.4 461.3,140.6 461.6,139.2 461.9,141.3 462.2,141.6 462.5,141.0 462.8,140.4 463.1,142.2 463.4,144.0 463.7,144.5 464.0,146.4 464.3,147.1 464.6,148.7 464.9,150.1 465.2,151.1 465.5,150.9 465.8,152.3 466.1,151.5 466.4,149.9 466.7,149.8 467.0,151.1 467.2,149.8 467.5,148.7 467.8,149.1 468.1,147.5 468.4,147.3 468.7,148.7 469.0,146.6 469.3,146.4 469.6,145.6 469.9,145.2 470.2,144.5 470.5,145.2 470.8,144.4 471.1,142.8 471.4,141.2 471.7,141.6 472.0,141.7 472.3,140.4 472.6,140.5 472.9,139.2 473.2,139.2 473.5,138.0 473.8,137.9 474.1,138.0 474.4,135.8 474.7,134.5 475.0,133.6 475.3,132.1 475.6,130.9 475.9,129.7 476.2,127.8 476.5,126.1 476.8,123.4 477.1,121.4 477.3,119.5 477.6,117.8 477.9,114.0 478.2,109.5 478.6,107.7 478.9,111.6 479.2,114.3 479.5,129.7 479.8,135.9 480.0,140.4 480.3,143.3 480.6,147.5 480.9,146.5 481.2,146.4 481.5,145.0 481.8,144.0 482.1,144.7 482.4,145.2 482.7,143.7 483.0,142.8 483.3,140.4 483.6,139.2 483.9,136.6 484.2,135.7 484.5,134.1 484.8,133.3 485.1,129.6 485.4,126.1 485.7,125.3 486.0,122.6 486.3,125.2 486.6,126.1 486.9,122.7 487.2,117.8 487.5,121.7 487.7,123.8 488.0,130.6 488.3,135.7 488.7,145.2" fill="none" stroke="#0072BD" stroke-width="1.25" stroke-linejoin="round"/>
<polyline points="491.7,103.6 492.0,105.6 492.3,107.1 492.6,119.0 492.9,129.7 493.2,130.0 493.5,132.1 493.8,128.3 494.0,123.8 494.3,119.8 494.6,115.5 494.9,116.8 495.2,119.0 495.5,121.5 495.8,123.8 496.1,121.1 496.4,116.6 496.7,115.4 497.0,114.3 497.3,116.3 497.6,117.8 497.9,118.6 498.2,120.2 498.5,119.3 498.8,119.0 499.1,122.2 499.4,123.8 499.7,121.6 500.0,121.4 500.3,123.7 500.6,127.3 500.9,127.1 501.2,126.1 501.5,128.4 501.8,130.9 502.1,131.3 502.4,133.3 502.7,133.0 503.0,132.1 503.3,133.6 503.6,135.7 503.9,137.0 504.1,138.0 504.4,139.1 504.7,140.4 505.0,139.3 505.3,138.0 505.6,137.0 505.9,135.7 505.6,136.8 505.9,135.4 506.2,134.5 506.5,133.1 506.8,133.3 507.1,135.6 507.4,139.2 507.7,143.0 508.0,145.2 508.3,143.5 508.6,141.6 508.9,142.6 509.2,145.2 509.5,144.1 509.8,141.6 510.1,138.1 510.3,135.7 510.6,131.9 510.9,129.7 511.2,126.8 511.5,123.8 511.8,119.7 512.1,116.6 512.4,115.4 512.7,114.3 513.0,113.2 513.3,111.9 513.6,113.1 513.9,115.5 514.2,117.4 514.5,119.0 514.8,116.5 515.1,115.5 515.4,118.4 515.7,121.4 516.0,123.4 516.3,125.0 516.6,129.5 516.9,135.7 517.2,134.3 517.5,133.3 517.8,130.6 518.1,129.7 518.4,132.0 518.7,134.5 519.0,133.4 519.3,130.9 519.6,133.4 519.9,135.7 520.2,138.5 520.5,140.4 520.7,142.1 521.0,142.8 521.3,141.4 521.6,141.6 521.9,143.8 522.2,144.0 522.5,145.0 522.8,145.2 523.1,143.2 523.4,142.8 523.7,144.6 524.0,145.2 524.3,143.2 524.6,141.6 524.9,142.1 525.2,144.0 525.5,146.1 525.8,146.4 526.1,145.9 526.4,145.2 526.7,146.9 527.0,147.5 527.3,146.2 527.6,146.4 527.9,145.7 528.2,144.0 528.5,141.9 528.8,141.6 529.1,140.5 529.4,140.4 529.7,139.6 530.0,139.2" fill="none" stroke="#0072BD" stroke-width="1.25" stroke-linejoin="round"/>
<polyline points="533.0,53.8 533.3,54.6 533.6,57.3 533.9,59.9 534.2,62.1 534.5,66.8 534.8,67.5 535.0,69.2 535.3,77.5 535.6,80.1 535.9,83.5 536.2,85.1 536.5,85.9 536.8,85.1 537.1,84.7 537.4,86.6 537.7,87.0 538.0,88.5 538.3,89.4 538.6,91.4 538.9,91.8 539.2,93.4 539.5,94.8 539.8,96.8 540.1,97.1 540.4,96.1 540.7,93.6 541.0,91.1 541.3,90.0 541.6,78.3 541.9,65.7 542.2,64.5 542.5,69.5 542.7,75.2 543.0,79.8 543.3,83.5 543.6,89.8 543.9,95.4 544.3,99.5 544.6,102.5 544.9,104.3 545.2,102.3 545.5,101.9 545.7,106.4 546.0,111.4 546.3,116.0 546.6,119.7 546.9,123.0 547.2,124.5 547.5,126.1 547.8,126.8 548.1,127.1 548.4,129.2 548.7,127.6 549.0,125.7 549.3,121.9 549.6,119.7 549.9,115.7 550.2,111.4 550.5,110.2 550.8,107.8 551.1,110.0 551.4,113.8 551.7,113.4 552.0,111.4 552.3,117.1 552.6,122.1 552.9,125.2 553.2,129.2 553.5,131.0 553.8,134.0 554.1,135.1 554.4,136.4 554.7,135.2 555.0,132.8 555.3,129.4 555.6,125.7 555.8,121.9 556.1,119.7 556.4,115.8 556.7,113.8 557.0,111.8 557.3,111.4 557.6,114.4 557.9,116.1 558.2,117.3 558.5,119.7 558.8,121.0 559.1,122.1 559.4,123.5 559.7,125.7 560.0,127.8 560.3,129.2 560.6,131.4 560.9,134.0 561.2,135.0 561.5,137.5 561.8,138.9 562.1,138.7 562.4,139.4 562.7,139.9 563.0,139.1 563.3,137.5 563.6,137.6 563.9,136.4 564.2,134.9 564.5,131.6 564.8,127.7 565.1,125.7 565.4,122.4 565.7,119.7 566.0,120.8 566.2,123.3 566.5,124.5 566.8,125.7 567.1,131.2 567.4,135.2 567.7,136.4 568.0,136.4 568.3,132.5 568.6,130.4 568.9,124.4 569.2,119.7 569.5,114.4 569.8,107.8 570.1,102.8 570.4,97.1 570.7,99.3 571.0,101.9 571.3,107.8 571.6,113.8 571.9,116.7 572.2,120.9" fill="none" stroke="#0072BD" stroke-width="1.25" stroke-linejoin="round"/>
<polyline points="574.6,66.8 574.9,69.9 575.2,71.6 575.5,75.5 575.8,79.9 576.1,83.6 576.4,85.9 576.6,87.9 576.9,89.4 577.2,90.1 577.5,92.4 577.8,93.2 578.1,94.8 578.4,96.0 578.7,98.3 579.0,98.5 579.3,97.1 579.6,95.5 579.9,93.6 580.2,91.5 580.5,91.2 580.8,92.9 581.1,95.9 581.4,97.4 581.7,99.5 582.0,97.1 582.3,94.8 582.6,93.7 582.9,92.4 583.2,94.5 583.5,97.1 583.8,99.2 584.1,101.9 584.4,106.8 584.7,113.8 585.0,119.9 585.3,125.7 585.6,127.1 585.9,129.2 586.2,125.3 586.5,123.3 586.8,118.4 587.0,113.8 587.3,113.0 587.6,110.2 587.9,110.5 588.2,112.6 588.5,109.5 588.8,107.8 589.1,105.8 589.4,103.1 589.7,100.8 590.0,99.5 590.0,105.5 590.3,103.2 590.6,101.9 590.9,100.1 591.2,98.3 591.5,99.0 591.8,100.7 592.1,102.0 592.4,103.1 592.7,101.3 593.0,99.5 593.3,98.0 593.6,94.8 593.9,94.5 594.2,92.4 594.5,93.2 594.8,95.9 595.1,96.7 595.3,97.1 595.6,100.0 595.9,101.9 596.2,105.6 596.5,107.8 596.8,106.6 597.1,104.3 597.4,101.0 597.7,97.1 598.0,95.6 598.3,93.6 598.6,86.5 598.9,79.9 599.2,78.9 599.5,78.7 599.8,78.7 600.1,77.5 600.4,80.1 600.7,81.1 601.0,82.6 601.3,82.3 601.6,80.9 601.9,78.7 602.2,76.6 602.5,75.2 602.8,75.1 603.1,74.0 603.4,76.2 603.7,77.5 604.0,79.3 604.3,81.1 604.6,83.8 604.9,85.9 605.2,87.3 605.5,89.4 605.7,90.7 606.0,91.8 606.3,98.4 606.6,105.5 606.9,106.9 607.2,110.2 607.5,107.5 607.8,105.5 608.1,102.7 608.4,100.7 608.7,99.9 609.0,97.1 609.3,100.7 609.6,104.3 609.9,107.6 610.2,111.4 610.5,115.0 610.8,119.7 611.1,123.3 611.4,128.0 611.7,129.5 612.0,131.6 612.3,129.1 612.6,128.0 612.9,125.9 613.2,125.7" fill="none" stroke="#0072BD" stroke-width="1.25" stroke-linejoin="round"/>
<polyline points="616.4,82.3 616.7,90.0 617.1,101.9 617.3,108.6 617.6,113.8 617.9,119.7 618.2,118.4 618.5,117.3 618.8,114.3 619.1,111.4 619.4,106.8 619.7,101.9 620.0,99.7 620.3,98.3 620.6,102.4 620.9,107.8 621.2,109.9 621.5,113.8 621.8,107.4 622.1,101.9 622.4,104.5 622.7,107.8 623.0,113.0 623.3,117.3 623.6,121.6 623.9,125.7 624.2,131.3 624.5,135.2 624.8,137.2 625.1,139.9 625.4,138.4 625.7,135.2 626.0,128.2 626.2,120.9 626.5,117.7 626.8,116.1 627.1,119.1 627.4,123.3 627.7,124.6 628.0,125.7 628.3,129.6 628.6,131.6 628.9,135.5 629.2,139.9 629.5,142.8 629.8,144.7 630.1,145.7 630.4,147.0 630.7,145.4 631.0,142.3 631.3,137.9 631.6,135.2 631.9,132.2 632.2,129.2 632.5,128.8 632.8,126.8 633.1,125.8 633.4,125.7 633.7,126.4 634.0,128.0 634.3,125.3 634.6,124.5 634.9,125.0 635.2,126.8 635.5,128.8 635.8,131.6 636.1,135.0 636.4,137.5 636.6,139.4 636.9,142.3 637.2,143.3 637.5,144.7 637.8,144.7 638.1,145.9 638.4,143.7 638.7,141.1 639.0,138.9 639.3,135.2 639.6,132.5 639.9,129.2 640.2,126.8 640.5,125.7 640.8,123.2 641.1,119.7 641.4,117.7 641.7,113.8 642.0,111.0 642.3,107.8 642.6,101.0 642.9,95.9 643.2,93.6 643.5,90.0 643.8,75.6 644.1,59.7 644.3,68.6 644.6,78.1 644.9,84.5 645.3,92.4 645.6,96.5 645.9,101.9 646.2,104.9 646.5,107.8 646.8,114.5 647.0,119.7 647.3,124.7 647.6,129.2 647.9,133.0 648.2,135.2 648.5,137.0 648.8,139.9 649.1,141.4 649.4,143.5 649.7,145.2 650.0,145.9 650.3,145.0 650.6,143.5 650.9,141.5 651.2,139.9 651.5,139.1 651.8,137.5 652.1,136.0 652.4,135.2 652.7,135.5 653.0,137.5 653.3,138.0 653.6,138.7 653.9,137.2 654.2,137.5 654.5,139.0 654.8,139.9" fill="none" stroke="#0072BD" stroke-width="1.25" stroke-linejoin="round"/>
<polyline points="439.4,160.6 439.7,159.1 440.0,158.2 440.3,158.8 440.6,159.4 440.9,158.4 441.2,157.0 441.5,154.8 441.8,153.5 442.1,150.4 442.3,147.5 442.6,142.4 442.9,139.2 443.2,138.9 443.5,136.8 443.9,145.2 444.1,148.9 444.4,152.3 444.7,155.1 445.0,155.9 445.3,156.8 445.6,159.4 445.9,158.5 446.2,157.0 446.4,159.3 446.7,160.6 447.0,157.3 447.3,154.7 447.7,152.3 448.0,154.5 448.3,158.2 448.6,158.1 448.9,159.4 449.2,159.3 449.5,160.6 449.8,160.6 450.1,159.4 450.4,158.0 450.7,158.2 451.0,158.3 451.3,157.0 451.6,156.3 451.9,155.9 452.2,155.3 452.5,154.7 452.7,154.3 453.0,153.5 453.3,156.0 453.6,158.2 453.9,159.1 454.2,159.4 454.5,159.3 454.8,158.8 455.1,159.4 455.4,160.6 455.7,161.4 456.0,161.2 456.3,161.0 456.6,161.8 456.9,161.9 457.2,161.2 457.5,161.9 457.8,161.6" fill="none" stroke="#D95319" stroke-width="1.25" stroke-linejoin="round"/>
<polyline points="460.4,151.1 460.7,153.4 461.0,154.7 461.3,154.9 461.6,155.9 461.9,157.0 462.2,157.0 462.5,158.6 462.8,158.2 463.1,158.7 463.4,159.4 463.7,157.8 464.0,157.0 464.3,158.3 464.6,159.4 464.9,160.9 465.2,160.6 465.5,158.7 465.8,158.2 466.1,157.8 466.4,159.4 466.7,160.0 467.0,160.6 467.2,160.3 467.5,159.4 467.8,159.4 468.1,158.2 468.4,159.1 468.7,160.6 469.0,161.0 469.3,159.4 469.6,157.7 469.9,157.0 470.2,158.2 470.5,158.2 470.8,156.2 471.1,155.9 471.4,155.5 471.7,157.0 472.0,155.1 472.3,154.7 472.6,154.4 472.9,155.9 473.2,154.1 473.5,152.3 473.8,153.0 474.1,153.5 474.4,151.7 474.7,151.1 475.0,152.6 475.3,152.3 475.6,150.8 475.9,149.9 476.2,148.6 476.5,148.7 476.8,147.5 477.1,147.5 477.3,147.4 477.6,146.4 477.9,146.6 478.2,145.2 478.5,145.7 478.8,147.5 479.1,147.8 479.4,149.9 479.7,153.4 480.0,155.9 480.3,157.1 480.6,159.4 480.9,159.2 481.2,157.0 481.5,157.6 481.8,158.2 482.1,157.3 482.4,155.9 482.7,155.0 483.0,154.7 483.3,154.7 483.6,153.5 483.9,152.8 484.2,152.3 484.5,153.1 484.8,154.7 485.1,153.1 485.4,149.9 485.7,150.3 486.0,152.3 486.3,153.9 486.6,154.7 486.9,152.6 487.2,152.3 487.5,154.4 487.7,155.9 488.0,155.1 488.3,154.7 488.7,157.0" fill="none" stroke="#D95319" stroke-width="1.25" stroke-linejoin="round"/>
<polyline points="491.7,145.2 492.0,143.5 492.3,140.4 492.6,138.9 492.9,139.2 493.2,138.2 493.5,136.8 493.8,136.1 494.0,135.7 494.3,135.9 494.6,134.5 494.9,137.1 495.2,138.0 495.5,139.5 495.8,140.4 496.1,139.3 496.4,139.2 496.7,140.5 497.0,142.8 497.3,142.9 497.6,144.0 497.9,145.6 498.2,147.5 498.5,146.4 498.8,146.4 499.1,147.5 499.4,149.9 499.7,151.0 500.0,151.1 500.3,152.0 500.6,152.3 500.9,153.1 501.2,154.7 501.5,156.8 501.8,157.0 502.1,155.9 502.4,155.9 502.7,154.8 503.0,153.5 503.3,153.4 503.6,154.7 503.9,154.2 504.1,152.3 504.4,153.6 504.7,153.5 505.0,151.8 505.3,151.1 505.6,153.4 505.9,154.7 505.6,154.7 505.9,155.9 506.2,155.9 506.5,154.2 506.8,153.5 507.1,155.5 507.4,158.2 507.7,157.0 508.0,155.9 508.3,155.5 508.6,153.5 508.9,152.2 509.2,152.3 509.5,152.1 509.8,151.1 510.1,153.1 510.3,154.7 510.6,153.4 510.9,152.3 511.2,151.9 511.5,151.1 511.8,153.1 512.1,153.5 512.4,150.5 512.7,148.7 513.0,148.9 513.3,147.5 513.6,146.1 513.9,145.2 514.2,146.9 514.5,147.5 514.8,149.5 515.1,149.9 515.4,150.5 515.7,152.3 516.0,154.2 516.3,154.7 516.6,155.1 516.9,153.5 517.2,152.5 517.5,152.3 517.8,150.7 518.1,151.1 518.4,149.1 518.7,148.7 519.0,150.3 519.3,149.9 519.6,150.1 519.9,152.3 520.2,153.7 520.5,153.5 520.7,154.0 521.0,155.9 521.3,156.9 521.6,157.0 521.9,157.4 522.2,159.4 522.5,159.4 522.8,160.6 523.1,159.8 523.4,158.2 523.7,155.6 524.0,154.7 524.3,155.5 524.6,157.0 524.9,159.1 525.2,159.4 525.5,159.3 525.8,158.2 526.1,160.2 526.4,160.6 526.7,161.0 527.0,159.4 527.3,157.9 527.6,158.2 527.9,158.3 528.2,159.4 528.5,158.8 528.8,157.0 529.1,155.6 529.4,153.5 529.7,152.0 530.0,152.3" fill="none" stroke="#D95319" stroke-width="1.25" stroke-linejoin="round"/>
<polyline points="533.0,125.7 533.3,119.7 533.6,113.8 533.9,107.3 534.2,101.9 534.5,100.7 534.8,104.1 535.0,107.8 535.3,113.8 535.6,116.0 535.9,119.7 536.2,119.3 536.5,120.9 536.8,120.7 537.1,118.5 537.4,115.8 537.7,113.8 538.0,110.4 538.3,105.5 538.6,102.9 538.9,101.9 539.2,103.0 539.5,104.3 539.8,104.1 540.1,105.5 540.4,108.3 540.7,111.4 541.0,115.5 541.3,120.9 541.6,124.2 541.9,126.8 542.2,127.9 542.5,130.4 542.8,127.3 543.1,123.3 543.4,120.3 543.7,117.3 544.0,113.6 544.3,111.4 544.6,106.3 544.9,101.9 545.2,98.9 545.5,95.9 545.7,91.1 546.0,84.7 546.3,84.1 546.6,84.1 546.9,84.7 547.2,86.4 547.5,92.7 547.8,97.1 548.1,101.5 548.4,104.3 548.7,108.3 549.0,111.4 549.3,113.3 549.6,116.1 549.9,116.7 550.2,118.5 550.5,115.7 550.8,113.8 551.1,105.8 551.4,99.5 551.6,91.8 551.9,85.8 552.2,93.9 552.6,101.9 552.9,106.5 553.2,111.4 553.5,115.7 553.8,119.7 554.1,121.2 554.4,123.3 554.7,117.5 555.0,113.8 555.3,111.2 555.6,107.8 555.8,106.4 556.1,104.3 556.4,106.7 556.7,109.0 557.0,107.3 557.3,105.5 557.6,108.8 557.9,111.4 558.2,104.6 558.5,95.9 558.8,89.3 559.1,81.1 559.4,86.0 559.7,90.0 560.0,95.7 560.3,101.9 560.6,106.3 560.9,111.4 561.2,113.0 561.5,115.0 561.8,118.3 562.1,119.7 562.4,120.7 562.7,122.1 563.0,122.5 563.3,123.3 563.6,124.3 563.9,125.7 564.2,122.6 564.5,120.9 564.8,119.5 565.1,116.1 565.4,108.0 565.7,101.9 566.0,105.1 566.2,107.8 566.5,111.7 566.8,113.8 567.1,115.7 567.4,118.5 567.7,117.6 568.0,116.1 568.3,114.7 568.6,113.8 568.9,107.3 569.2,101.9 569.5,98.3 569.8,95.9 570.1,97.0 570.4,99.5 570.7,104.4 571.0,107.8 571.3,113.1 571.6,117.3" fill="none" stroke="#D95319" stroke-width="1.25" stroke-linejoin="round"/>
<polyline points="574.6,105.5 574.9,103.3 575.2,99.5 575.5,95.0 575.8,92.4 576.1,89.7 576.4,85.8 576.6,83.3 576.9,79.9 577.2,77.0 577.5,74.0 577.8,73.3 578.1,74.3 578.4,72.1 578.7,72.8 579.0,73.9 579.3,74.0 579.6,75.3 579.9,75.2 580.2,76.4 580.5,77.5 580.8,79.5 581.1,81.1 581.4,84.5 581.7,85.9 582.0,86.8 582.3,89.1 582.6,90.8 582.9,91.8 583.2,93.6 583.5,95.9 583.8,102.3 584.1,107.8 584.4,110.6 584.7,113.8 585.0,112.6 585.3,111.4 585.6,106.9 585.9,101.9 586.2,99.9 586.5,97.1 586.8,95.6 587.0,94.8 587.3,98.6 587.6,101.9 587.9,104.9 588.2,107.8 588.5,103.1 588.8,99.5 589.1,96.8 589.4,93.6 589.7,86.3 590.0,79.9 590.3,81.3 590.6,81.1 590.9,82.2 591.2,83.5 591.5,86.9 591.8,89.4 592.1,92.4 592.4,95.4 592.7,93.5 593.0,91.8 593.3,84.1 593.6,77.5 593.9,67.9 594.2,59.7 594.5,57.6 594.8,53.8 595.1,52.6 595.3,51.4 595.6,55.6 595.9,59.7 596.2,62.7 596.5,65.7 596.8,67.5 597.1,68.0 597.4,61.6 597.7,56.1 598.0,51.3 598.3,47.8 598.6,47.3 598.9,45.5 599.2,40.6 599.5,35.9 599.8,34.4 600.1,32.4 600.4,37.8 600.7,41.9 601.0,48.6 601.3,53.8 601.6,61.6 601.9,68.0 602.1,83.5 602.4,100.7 602.7,92.4 603.1,84.7 603.4,81.8 603.7,77.5 604.0,76.4 604.3,74.0 604.6,76.2 604.9,79.9 605.2,75.1 605.5,71.6 605.7,69.3 606.0,68.0 606.3,66.6 606.6,66.8 606.9,66.0 607.2,65.7 607.5,68.6 607.8,70.4 608.1,75.2 608.4,79.9 608.7,84.6 609.0,89.4 609.3,89.8 609.6,91.8 609.9,85.7 610.2,79.9 610.5,78.5 610.8,75.2 611.1,75.0 611.4,74.0 611.7,78.6 612.0,83.5 612.3,87.6 612.6,91.8 612.9,93.6 613.2,94.2 613.5,93.8 613.8,92.4" fill="none" stroke="#D95319" stroke-width="1.25" stroke-linejoin="round"/>
<polyline points="616.4,135.2 616.7,119.7 617.1,116.1 617.3,119.0 617.6,123.3 617.9,126.0 618.2,128.0 618.5,130.7 618.8,134.0 619.1,134.6 619.4,135.2 619.7,135.8 620.0,137.5 620.2,138.5 620.5,139.9 620.8,139.0 621.1,138.7 621.4,139.7 621.7,141.1 622.0,138.4 622.3,137.5 622.6,138.1 622.9,139.9 623.2,138.3 623.5,136.4 623.8,137.2 624.1,139.9 624.4,140.5 624.7,142.3 625.0,143.3 625.3,143.5 625.6,141.8 625.9,141.1 626.2,139.0 626.5,137.5 626.8,135.2 627.1,134.0 627.4,132.9 627.7,130.4 628.0,128.4 628.3,128.0 628.6,128.9 628.9,129.2 629.2,131.1 629.5,131.6 629.8,130.4 630.1,130.4 630.3,129.1 630.6,128.0 630.9,127.4 631.2,125.7 631.5,123.5 631.8,120.9 632.1,118.3 632.4,116.1 632.7,112.9 633.0,111.4 633.3,107.7 633.6,104.3 633.9,100.4 634.2,97.1 634.6,95.9 634.9,101.9 635.2,108.3 635.4,113.8 635.7,118.1 636.0,123.3 636.3,125.5 636.6,128.0 636.9,130.1 637.2,131.6 637.5,131.0 637.8,129.2 638.1,127.1 638.4,125.7 638.7,121.9 639.0,118.5 639.3,116.3 639.6,113.8 639.9,112.8 640.2,110.2 640.5,107.2 640.7,105.5 641.0,105.8 641.3,104.3 641.6,106.5 641.9,107.8 642.2,110.5 642.5,113.8 642.8,116.5 643.1,118.5 643.4,115.8 643.7,113.8 644.0,111.7 644.3,111.4 644.6,114.9 644.9,117.3 645.2,119.5 645.5,122.1 645.8,123.3 646.1,124.5 646.4,122.1 646.7,119.7 647.0,123.5 647.3,125.7 647.6,128.0 647.9,129.2 648.2,130.1 648.5,132.8 648.8,133.6 649.1,134.0 649.4,132.1 649.7,130.4 650.0,128.0 650.3,125.7 650.6,128.1 650.9,129.2 651.1,126.1 651.4,123.3 651.7,124.4 652.0,125.7 652.3,128.2 652.6,129.2 652.9,126.1 653.2,123.3 653.5,125.0 653.8,126.8 654.1,128.1 654.4,129.2 654.7,128.7 655.0,126.8" fill="none" stroke="#D95319" stroke-width="1.25" stroke-linejoin="round"/>
<line x1="439.3" y1="163.5" x2="657.4" y2="163.5" stroke="#8a8a8a" stroke-width="0.9"/>
<line x1="439.3" y1="32.3" x2="439.3" y2="163.5" stroke="#0072BD" stroke-width="0.8" stroke-opacity="0.85"/>
<line x1="657.4" y1="32.3" x2="657.4" y2="163.5" stroke="#D95319" stroke-width="0.8" stroke-opacity="0.6"/>
<line x1="439.3" y1="163.50" x2="441.5" y2="163.50" stroke="#0072BD" stroke-width="0.8"/>
<text x="435.3" y="167.80" fill="#0072BD" font-size="11.6" text-anchor="end">15</text>
<line x1="439.3" y1="129.49" x2="441.5" y2="129.49" stroke="#0072BD" stroke-width="0.8"/>
<text x="435.3" y="133.79" fill="#0072BD" font-size="11.6" text-anchor="end">50</text>
<line x1="439.3" y1="80.89" x2="441.5" y2="80.89" stroke="#0072BD" stroke-width="0.8"/>
<text x="435.3" y="85.19" fill="#0072BD" font-size="11.6" text-anchor="end">100</text>
<line x1="439.3" y1="32.30" x2="441.5" y2="32.30" stroke="#0072BD" stroke-width="0.8"/>
<text x="435.3" y="36.60" fill="#0072BD" font-size="11.6" text-anchor="end">150</text>
<line x1="657.4" y1="163.50" x2="655.1999999999999" y2="163.50" stroke="#D95319" stroke-width="0.8"/>
<text x="661.4" y="167.80" fill="#D95319" font-size="11.6">0</text>
<line x1="657.4" y1="140.07" x2="655.1999999999999" y2="140.07" stroke="#D95319" stroke-width="0.8"/>
<text x="661.4" y="144.37" fill="#D95319" font-size="11.6">1</text>
<line x1="657.4" y1="116.64" x2="655.1999999999999" y2="116.64" stroke="#D95319" stroke-width="0.8"/>
<text x="661.4" y="120.94" fill="#D95319" font-size="11.6">2</text>
<line x1="657.4" y1="93.21" x2="655.1999999999999" y2="93.21" stroke="#D95319" stroke-width="0.8"/>
<text x="661.4" y="97.51" fill="#D95319" font-size="11.6">3</text>
<line x1="657.4" y1="69.79" x2="655.1999999999999" y2="69.79" stroke="#D95319" stroke-width="0.8"/>
<text x="661.4" y="74.09" fill="#D95319" font-size="11.6">4</text>
<line x1="657.4" y1="46.36" x2="655.1999999999999" y2="46.36" stroke="#D95319" stroke-width="0.8"/>
<text x="661.4" y="50.66" fill="#D95319" font-size="11.6">5</text>
<text x="439.3" y="179.80" fill="#262626" font-size="11.6" text-anchor="middle">0</text>
<text x="460.5" y="179.80" fill="#262626" font-size="11.6" text-anchor="middle">5</text>
<text x="491.1" y="179.80" fill="#262626" font-size="11.6" text-anchor="middle">7</text>
<text x="533.3" y="179.80" fill="#262626" font-size="11.6" text-anchor="middle">12</text>
<text x="574.6" y="179.80" fill="#262626" font-size="11.6" text-anchor="middle">14</text>
<text x="616.1" y="179.80" fill="#262626" font-size="11.6" text-anchor="middle">28</text>
<text transform="translate(412.0,97.9) rotate(-90)" fill="#0072BD" font-size="13" text-anchor="middle">Median AE</text>
<text transform="translate(682.1,97.9) rotate(-90)" fill="#D95319" font-size="13" text-anchor="middle">KL divergence</text>
<text x="441.8" y="43.0" fill="#D95319" class="s" font-size="12.2"><tspan font-style="italic">r</tspan><tspan dx="4.2" font-size="16.5">=</tspan><tspan dx="3.9">0.7;</tspan><tspan dx="0.6" font-style="italic">ρ</tspan><tspan dx="2.8" font-size="16.5">=</tspan><tspan dx="3.9">0.76</tspan></text>
<line x1="460.5" y1="208.8" x2="460.5" y2="340.6" stroke="#d6d6d6" stroke-width="1"/>
<line x1="491.1" y1="208.8" x2="491.1" y2="340.6" stroke="#d6d6d6" stroke-width="1"/>
<line x1="533.3" y1="208.8" x2="533.3" y2="340.6" stroke="#d6d6d6" stroke-width="1"/>
<line x1="574.6" y1="208.8" x2="574.6" y2="340.6" stroke="#d6d6d6" stroke-width="1"/>
<line x1="616.1" y1="208.8" x2="616.1" y2="340.6" stroke="#d6d6d6" stroke-width="1"/>
<polyline points="439.4,329.3 439.7,327.3 440.0,324.6 440.3,322.1 440.6,318.6 440.9,315.4 441.2,312.6 441.5,310.5 441.8,310.2 442.1,308.8 442.3,306.7 442.6,303.8 442.9,300.7 443.2,296.5 443.5,291.1 443.8,286.9 444.1,281.6 444.4,281.4 444.7,282.8 445.1,294.7 445.3,297.1 445.6,300.7 445.9,310.2 446.3,318.6 446.5,320.7 446.7,324.6 447.0,324.0 447.3,322.2 447.6,323.8 447.9,327.0 448.2,324.3 448.5,323.4 448.8,325.1 449.1,325.8 449.4,325.3 449.7,324.6 450.0,325.5 450.3,328.1 450.6,326.7 450.9,324.6 451.2,323.8 451.5,322.2 451.8,321.0 452.1,319.8 452.4,317.1 452.7,316.2 453.0,314.8 453.3,312.6 453.6,309.5 453.9,306.7 454.2,308.0 454.5,309.0 454.8,313.6 455.1,316.2 455.4,314.5 455.7,311.4 456.0,315.8 456.3,318.6 456.6,320.9 456.8,324.6 457.2,319.8 457.5,320.7 457.8,322.2" fill="none" stroke="#0072BD" stroke-width="1.25" stroke-linejoin="round"/>
<polyline points="460.4,313.8 460.7,315.6 461.0,317.4 461.3,315.8 461.6,316.2 461.9,318.4 462.2,318.6 462.5,317.5 462.8,317.4 463.1,318.7 463.4,321.0 463.7,321.8 464.0,323.4 464.3,324.1 464.6,325.8 464.9,327.7 465.2,328.1 465.5,328.9 465.8,329.3 466.1,328.2 466.4,327.0 466.7,327.4 467.0,328.1 467.2,326.1 467.5,325.8 467.8,324.8 468.1,324.6 468.4,325.9 468.7,325.8 469.0,325.2 469.3,323.4 469.6,323.5 469.9,322.2 470.2,321.7 470.5,322.2 470.8,320.4 471.1,319.8 471.4,318.3 471.7,318.6 472.0,318.1 472.3,317.4 472.6,316.6 472.9,316.2 473.2,315.5 473.5,315.0 473.8,315.0 474.1,315.0 474.4,313.4 474.7,311.4 475.0,310.0 475.3,309.0 475.6,308.5 475.9,306.7 476.2,304.3 476.5,303.1 476.8,301.5 477.1,298.3 477.3,296.6 477.6,294.7 477.9,289.6 478.2,286.4 478.6,284.6 478.9,287.5 479.2,291.1 479.5,306.7 479.8,312.1 480.0,317.4 480.3,320.8 480.6,324.6 480.9,324.1 481.2,323.4 481.5,321.8 481.8,321.0 482.1,321.1 482.4,322.2 482.7,321.6 483.0,319.8 483.3,317.6 483.6,316.2 483.9,314.8 484.2,312.6 484.5,312.0 484.8,310.2 485.1,306.8 485.4,303.1 485.7,301.2 486.0,299.5 486.3,302.2 486.6,303.1 486.9,298.8 487.2,294.7 487.5,298.5 487.7,300.7 488.0,305.8 488.3,312.6 488.7,322.2" fill="none" stroke="#0072BD" stroke-width="1.25" stroke-linejoin="round"/>
<polyline points="491.7,280.4 492.0,282.0 492.3,284.0 492.6,295.6 492.9,306.7 493.2,306.9 493.5,309.0 493.8,305.6 494.0,300.7 494.3,295.7 494.6,292.3 494.9,294.3 495.2,295.9 495.5,297.7 495.8,300.7 496.1,298.0 496.4,293.5 496.7,292.5 497.0,291.1 497.3,293.5 497.6,294.7 497.9,295.9 498.2,297.1 498.5,296.9 498.8,295.9 499.1,298.7 499.4,300.7 499.7,299.1 500.0,298.3 500.3,300.7 500.6,304.3 500.9,304.3 501.2,303.1 501.5,304.8 501.8,307.9 502.1,309.9 502.4,310.2 502.7,309.1 503.0,309.0 503.3,310.0 503.6,312.6 503.9,313.0 504.1,315.0 504.4,316.8 504.7,317.4 505.0,317.1 505.3,315.0 505.6,313.7 505.9,312.6 505.6,313.8 505.9,312.9 506.2,311.4 506.5,310.4 506.8,310.2 507.1,314.0 507.4,316.2 507.7,319.6 508.0,322.2 508.3,319.7 508.6,318.6 508.9,319.5 509.2,322.2 509.5,320.8 509.8,318.6 510.1,314.7 510.3,312.6 510.6,310.3 510.9,306.7 511.2,303.3 511.5,300.7 511.8,296.6 512.1,293.5 512.4,292.5 512.7,291.1 513.0,289.6 513.3,288.7 513.6,290.7 513.9,292.3 514.2,293.4 514.5,295.9 514.8,294.9 515.1,292.3 515.4,295.0 515.7,298.3 516.0,300.8 516.3,301.9 516.6,306.6 516.9,312.6 517.2,312.0 517.5,310.2 517.8,309.4 518.1,306.7 518.4,308.8 518.7,311.4 519.0,308.7 519.3,307.9 519.6,310.0 519.9,312.6 520.2,315.3 520.5,317.4 520.7,318.0 521.0,319.8 521.3,319.3 521.6,318.6 521.9,319.0 522.2,321.0 522.5,321.5 522.8,322.2 523.1,321.4 523.4,319.8 523.7,320.8 524.0,322.2 524.3,320.7 524.6,318.6 524.9,319.0 525.2,321.0 525.5,322.8 525.8,323.4 526.1,322.0 526.4,322.2 526.7,324.2 527.0,324.6 527.3,325.0 527.6,323.4 527.9,323.1 528.2,321.0 528.5,319.8 528.8,318.6 529.1,317.6 529.4,317.4 529.7,316.5 530.0,316.2" fill="none" stroke="#0072BD" stroke-width="1.25" stroke-linejoin="round"/>
<polyline points="533.0,230.4 533.3,232.7 533.6,233.9 533.9,236.3 534.2,238.7 534.5,243.5 534.8,245.6 535.0,245.9 535.3,254.2 535.6,256.4 535.9,260.2 536.2,261.4 536.5,262.6 536.8,262.7 537.1,261.4 537.4,262.8 537.7,263.8 538.0,265.1 538.3,266.2 538.6,266.6 538.9,268.6 539.2,269.3 539.5,271.5 539.8,272.3 540.1,273.9 540.4,272.9 540.7,270.3 541.0,269.2 541.3,266.8 541.6,254.0 541.9,242.3 542.2,241.1 542.5,247.3 542.7,251.9 543.0,255.1 543.3,260.2 543.6,266.4 543.9,272.2 544.3,276.3 544.6,279.6 544.9,281.1 545.2,279.6 545.5,278.7 545.7,284.4 546.0,288.3 546.3,292.7 546.6,296.6 546.9,298.1 547.2,301.4 547.5,302.2 547.8,303.8 548.1,304.9 548.4,306.2 548.7,303.9 549.0,302.6 549.3,300.1 549.6,296.6 549.9,291.8 550.2,288.3 550.5,287.0 550.8,284.7 551.1,287.3 551.4,290.6 551.7,288.6 552.0,288.3 552.3,293.7 552.6,299.0 552.9,301.8 553.2,306.2 553.5,308.7 553.8,310.9 554.1,312.7 554.4,313.3 554.7,311.7 555.0,309.7 555.3,306.1 555.6,302.6 555.8,298.7 556.1,296.6 556.4,293.7 556.7,290.6 557.0,288.6 557.3,288.3 557.6,290.9 557.9,293.0 558.2,294.1 558.5,296.6 558.8,298.0 559.1,299.0 559.4,300.5 559.7,302.6 560.0,304.1 560.3,306.2 560.6,308.9 560.9,310.9 561.2,312.1 561.5,314.5 561.8,314.5 562.1,315.7 562.4,317.2 562.7,316.9 563.0,315.4 563.3,314.5 563.6,314.6 563.9,313.3 564.2,311.7 564.5,308.6 564.8,305.5 565.1,302.6 565.4,298.9 565.7,296.6 566.0,297.6 566.2,300.2 566.5,302.1 566.8,302.6 567.1,306.6 567.4,312.1 567.7,312.7 568.0,313.3 568.3,310.4 568.6,307.4 568.9,301.2 569.2,296.6 569.5,290.6 569.8,284.7 570.1,278.6 570.4,273.9 570.7,276.4 571.0,278.7 571.3,284.7 571.6,290.6 571.9,294.0 572.2,297.8" fill="none" stroke="#0072BD" stroke-width="1.25" stroke-linejoin="round"/>
<polyline points="574.6,243.5 574.9,245.3 575.2,248.3 575.5,252.3 575.8,256.6 576.1,259.0 576.4,262.6 576.6,263.6 576.9,266.2 577.2,267.1 577.5,269.2 577.8,271.1 578.1,271.5 578.4,273.3 578.7,275.1 579.0,275.3 579.3,273.9 579.6,271.2 579.9,270.3 580.2,270.0 580.5,268.0 580.8,270.3 581.1,272.7 581.4,275.1 581.7,276.3 582.0,274.1 582.3,271.5 582.6,270.7 582.9,269.2 583.2,271.0 583.5,273.9 583.8,276.8 584.1,278.7 584.4,284.0 584.7,290.6 585.0,296.1 585.3,302.6 585.6,303.4 585.9,306.2 586.2,303.0 586.5,300.2 586.8,295.5 587.0,290.6 587.3,288.4 587.6,287.1 587.9,289.0 588.2,289.4 588.5,286.2 588.8,284.7 589.1,282.4 589.4,279.9 589.7,277.6 590.0,276.3 590.0,282.3 590.3,280.7 590.6,278.7 590.9,277.5 591.2,275.1 591.5,276.7 591.8,277.5 592.1,277.8 592.4,279.9 592.7,277.6 593.0,276.3 593.3,274.1 593.6,271.5 593.9,271.3 594.2,269.2 594.5,270.0 594.8,272.7 595.1,273.6 595.3,273.9 595.6,276.7 595.9,278.7 596.2,282.3 596.5,284.7 596.8,282.6 597.1,281.1 597.4,278.1 597.7,273.9 598.0,272.1 598.3,270.3 598.6,264.3 598.9,256.6 599.2,255.1 599.5,255.4 599.8,255.7 600.1,254.2 600.4,255.9 600.7,257.8 601.0,258.2 601.3,259.0 601.6,256.4 601.9,255.4 602.2,253.1 602.5,251.9 602.8,251.7 603.1,250.7 603.4,252.8 603.7,254.2 604.0,255.3 604.3,257.8 604.6,259.9 604.9,262.6 605.2,263.7 605.5,266.2 605.7,266.8 606.0,268.6 606.3,274.9 606.6,282.3 606.9,284.3 607.2,287.1 607.5,285.6 607.8,282.3 608.1,280.9 608.4,277.5 608.7,276.3 609.0,273.9 609.3,277.5 609.6,281.1 609.9,284.7 610.2,288.3 610.5,293.0 610.8,296.6 611.1,301.6 611.4,305.0 611.7,307.3 612.0,308.6 612.3,307.0 612.6,305.0 612.9,303.2 613.2,302.6" fill="none" stroke="#0072BD" stroke-width="1.25" stroke-linejoin="round"/>
<polyline points="616.4,259.0 616.7,266.8 617.1,278.7 617.3,284.9 617.6,290.6 617.9,296.6 618.2,296.1 618.5,294.2 618.8,291.8 619.1,288.3 619.4,282.7 619.7,278.7 620.0,277.3 620.3,275.1 620.6,279.6 620.9,284.7 621.2,287.0 621.5,290.6 621.8,285.6 622.1,278.7 622.4,282.0 622.7,284.7 623.0,289.9 623.3,294.2 623.6,297.7 623.9,302.6 624.2,308.0 624.5,312.1 624.8,315.4 625.1,316.9 625.4,315.3 625.7,312.1 626.0,305.5 626.2,297.8 626.5,296.1 626.8,293.0 627.1,297.2 627.4,300.2 627.7,301.6 628.0,302.6 628.3,305.4 628.6,308.6 628.9,313.4 629.2,316.9 629.5,319.9 629.8,321.7 630.1,323.6 630.4,324.1 630.7,321.3 631.0,319.3 631.3,316.6 631.6,312.1 631.9,309.2 632.2,306.2 632.5,305.9 632.8,303.8 633.1,302.4 633.4,302.6 633.7,304.7 634.0,305.0 634.3,303.8 634.6,301.4 634.9,302.1 635.2,303.8 635.5,306.8 635.8,308.6 636.1,311.0 636.4,314.5 636.6,316.3 636.9,319.3 637.2,320.4 637.5,321.7 637.8,321.8 638.1,322.9 638.4,320.5 638.7,318.1 639.0,315.9 639.3,312.1 639.6,309.5 639.9,306.2 640.2,304.8 640.5,302.6 640.8,299.4 641.1,296.6 641.4,294.2 641.7,290.6 642.0,288.2 642.3,284.7 642.6,279.1 642.9,272.7 643.2,270.6 643.5,266.8 643.8,252.2 644.1,236.3 644.3,245.4 644.6,254.8 644.9,261.2 645.3,269.2 645.6,274.2 645.9,278.7 646.2,282.4 646.5,284.7 646.8,290.3 647.0,296.6 647.3,301.6 647.6,306.2 647.9,309.8 648.2,312.1 648.5,315.1 648.8,316.9 649.1,317.7 649.4,320.5 649.7,321.7 650.0,322.9 650.3,320.7 650.6,320.5 650.9,317.9 651.2,316.9 651.5,316.3 651.8,314.5 652.1,313.2 652.4,312.1 652.7,313.5 653.0,314.5 653.3,315.0 653.6,315.7 653.9,314.8 654.2,314.5 654.5,315.1 654.8,316.9" fill="none" stroke="#0072BD" stroke-width="1.25" stroke-linejoin="round"/>
<polyline points="439.4,334.2 439.7,332.2 440.0,330.7 440.3,329.0 440.6,325.9 440.9,323.8 441.2,321.2 441.5,318.4 441.8,316.4 442.1,313.2 442.3,311.7 442.6,309.4 442.9,308.1 443.2,307.9 443.5,306.9 443.9,311.7 444.1,316.3 444.4,321.2 444.7,324.5 445.0,327.1 445.3,329.5 445.6,330.7 445.9,328.7 446.2,328.3 446.4,329.8 446.7,330.7 447.0,327.4 447.3,325.9 447.7,323.5 448.0,327.2 448.3,329.5 448.6,330.6 448.9,333.0 449.2,333.2 449.5,334.2 449.8,334.6 450.1,333.0 450.4,332.2 450.7,331.9 451.0,330.7 451.3,330.7 451.6,330.3 451.9,328.3 452.2,327.9 452.5,327.1 452.7,327.3 453.0,325.9 453.3,327.5 453.6,329.5 453.9,330.7 454.2,331.9 454.5,333.4 454.8,333.0 455.1,332.5 455.4,331.9 455.7,334.0 456.0,334.2 456.3,333.9 456.6,334.8 456.9,335.2 457.2,334.2 457.5,334.2 457.8,335.4" fill="none" stroke="#D95319" stroke-width="1.25" stroke-linejoin="round"/>
<polyline points="460.4,324.7 460.7,326.6 461.0,328.3 461.3,327.9 461.6,329.5 461.9,329.4 462.2,330.7 462.5,332.7 462.8,333.0 463.1,333.6 463.4,334.2 463.7,333.7 464.0,331.9 464.3,332.5 464.6,334.2 464.9,334.5 465.2,335.4 465.5,334.0 465.8,334.2 466.1,334.9 466.4,335.4 466.7,336.7 467.0,336.6 467.2,336.0 467.5,335.4 467.8,334.6 468.1,334.2 468.4,335.7 468.7,335.4 469.0,335.6 469.3,334.2 469.6,333.4 469.9,331.9 470.2,331.6 470.5,333.0 470.8,332.1 471.1,330.7 471.4,331.2 471.7,331.9 472.0,331.6 472.3,329.5 472.6,329.8 472.9,330.7 473.2,329.2 473.5,327.1 473.8,328.0 474.1,328.3 474.4,326.9 474.7,325.9 475.0,326.6 475.3,327.1 475.6,326.3 475.9,324.7 476.2,324.9 476.5,323.5 476.8,322.9 477.1,322.4 477.3,322.7 477.6,323.5 477.9,323.3 478.2,321.2 478.5,321.5 478.8,323.5 479.1,325.4 479.4,325.9 479.7,329.3 480.0,331.9 480.3,333.8 480.6,335.4 480.9,334.1 481.2,333.0 481.5,334.1 481.8,334.2 482.1,333.8 482.4,331.9 482.7,331.7 483.0,330.7 483.3,330.0 483.6,328.3 483.9,326.8 484.2,327.1 484.5,327.9 484.8,329.5 485.1,327.0 485.4,325.9 485.7,328.0 486.0,328.3 486.3,330.3 486.6,330.7 486.9,328.8 487.2,328.3 487.5,330.3 487.7,331.9 488.0,331.4 488.3,330.7 488.7,331.9" fill="none" stroke="#D95319" stroke-width="1.25" stroke-linejoin="round"/>
<polyline points="491.7,320.0 492.0,316.1 492.3,314.0 492.6,312.6 492.9,311.7 493.2,311.6 493.5,310.5 493.8,311.3 494.0,311.7 494.3,311.8 494.6,312.8 494.9,314.6 495.2,315.2 495.5,316.0 495.8,317.6 496.1,317.1 496.4,316.4 496.7,318.0 497.0,320.0 497.3,321.5 497.6,321.2 497.9,323.2 498.2,324.7 498.5,324.7 498.8,323.5 499.1,325.1 499.4,325.9 499.7,326.3 500.0,327.1 500.3,329.2 500.6,329.5 500.9,330.5 501.2,330.7 501.5,332.2 501.8,333.0 502.1,332.0 502.4,331.9 502.7,330.0 503.0,329.5 503.3,330.2 503.6,330.7 503.9,330.1 504.1,328.3 504.4,329.5 504.7,329.5 505.0,328.0 505.3,327.1 505.6,328.2 505.9,330.7 506.2,331.3 506.5,332.6 506.8,331.8 507.1,333.0 507.4,331.7 507.7,329.5 508.0,328.2 508.3,328.3 508.6,327.3 508.9,327.1 509.2,327.4 509.5,329.5 509.8,328.5 510.1,328.3 510.4,326.9 510.7,325.9 511.0,327.4 511.3,327.1 511.6,327.4 511.9,325.9 512.2,324.1 512.5,323.5 512.8,322.6 513.1,322.4 513.4,322.6 513.7,321.2 514.0,321.2 514.3,322.4 514.6,323.8 514.9,325.9 515.2,326.4 515.5,327.1 515.7,327.5 516.0,329.5 516.3,328.4 516.6,328.3 516.9,328.7 517.2,329.5 517.5,329.8 517.8,330.7 518.1,330.4 518.4,328.3 518.7,326.6 519.0,325.9 519.3,325.9 519.6,327.1 519.9,328.5 520.2,328.3 520.5,329.4 520.8,330.7 521.1,332.5 521.4,333.0 521.7,333.9 522.0,334.2 522.3,333.6 522.6,331.9 522.9,333.3 523.2,335.4 523.5,333.5 523.8,333.0 524.1,334.2 524.4,334.2 524.7,334.8 525.0,335.4 525.3,334.9 525.6,334.2 525.8,335.5 526.1,336.0 526.4,335.9 526.7,334.8 527.0,334.7 527.3,335.4 527.6,334.0 527.9,333.0 528.2,335.1 528.5,335.4 528.8,333.1 529.1,330.7 529.4,329.1 529.7,328.3" fill="none" stroke="#D95319" stroke-width="1.25" stroke-linejoin="round"/>
<polyline points="533.0,302.6 533.3,296.9 533.6,290.6 533.9,284.2 534.2,278.7 534.5,277.5 534.8,281.6 535.0,284.7 535.3,290.6 535.6,292.7 535.9,296.6 536.2,297.9 536.5,297.8 536.8,296.7 537.1,295.4 537.4,292.7 537.7,290.6 538.0,287.3 538.3,282.3 538.6,280.0 538.9,278.7 539.2,279.4 539.5,281.1 539.8,280.8 540.1,282.3 540.4,285.4 540.7,288.3 541.0,293.5 541.3,297.8 541.6,301.1 541.9,303.8 542.2,305.4 542.5,307.4 542.8,304.4 543.1,300.2 543.4,296.4 543.7,294.2 544.0,290.9 544.3,288.3 544.6,283.8 544.9,278.7 545.2,276.7 545.5,272.7 545.7,267.3 546.0,261.4 546.3,261.5 546.6,260.8 546.9,262.5 547.2,263.2 547.5,268.3 547.8,273.9 548.1,278.4 548.4,281.1 548.7,285.2 549.0,288.3 549.3,290.3 549.6,293.0 549.9,294.0 550.2,295.4 550.5,293.6 550.8,290.6 551.1,283.2 551.4,276.3 551.6,268.8 551.9,262.6 552.2,271.4 552.6,278.7 552.9,283.5 553.2,288.3 553.5,292.5 553.8,296.6 554.1,298.7 554.4,300.2 554.7,296.2 555.0,290.6 555.3,286.9 555.6,284.7 555.8,282.6 556.1,281.1 556.4,282.6 556.7,285.9 557.0,283.9 557.3,282.3 557.6,285.3 557.9,288.3 558.2,281.2 558.5,272.7 558.8,265.6 559.1,257.8 559.4,262.4 559.7,266.8 560.0,272.5 560.3,278.7 560.6,283.6 560.9,288.3 561.2,289.6 561.5,291.8 561.8,294.9 562.1,296.6 562.4,298.4 562.7,299.0 563.0,300.3 563.3,300.2 563.6,300.7 563.9,302.6 564.2,300.5 564.5,297.8 564.8,295.9 565.1,293.0 565.4,285.9 565.7,278.7 566.0,282.5 566.2,284.7 566.5,288.5 566.8,290.6 567.1,293.5 567.4,295.4 567.7,294.9 568.0,293.0 568.3,292.1 568.6,290.6 568.9,285.4 569.2,278.7 569.5,275.0 569.8,272.7 570.1,274.9 570.4,276.3 570.7,280.9 571.0,284.7 571.3,289.7 571.6,294.2" fill="none" stroke="#D95319" stroke-width="1.25" stroke-linejoin="round"/>
<polyline points="574.6,282.3 574.9,278.9 575.2,276.3 575.5,271.9 575.8,269.2 576.1,266.2 576.4,263.5 576.6,259.3 576.9,256.6 577.2,253.1 577.5,250.7 577.8,249.8 578.1,249.3 578.4,250.1 578.7,249.5 579.0,251.0 579.3,250.7 579.6,251.9 579.9,251.9 580.2,252.8 580.5,254.2 580.8,256.4 581.1,257.8 581.4,259.4 581.7,262.6 582.0,264.8 582.3,265.2 582.6,266.1 582.9,268.6 583.2,270.9 583.5,272.7 583.8,278.0 584.1,284.7 584.4,287.2 584.7,290.6 585.0,288.6 585.3,288.3 585.6,283.4 585.9,278.7 586.2,276.4 586.5,273.9 586.8,273.3 587.0,271.5 587.3,274.2 587.6,278.7 587.9,282.3 588.2,284.7 588.5,279.7 588.8,276.3 589.1,272.8 589.4,270.3 589.7,263.7 590.0,256.6 590.3,256.9 590.6,257.8 590.9,258.7 591.2,260.2 591.5,263.3 591.8,266.2 592.1,268.6 592.4,272.2 592.7,271.0 593.0,268.6 593.3,260.8 593.6,254.2 593.9,246.0 594.2,236.3 594.5,234.0 594.8,230.4 595.1,229.2 595.3,228.0 595.6,231.2 595.9,236.3 596.2,239.9 596.5,242.3 596.8,242.6 597.1,244.7 597.4,238.7 597.7,232.8 598.0,228.4 598.3,224.4 598.6,222.3 598.9,222.0 599.2,217.5 599.5,212.5 599.8,211.1 600.1,208.9 600.4,213.8 600.7,218.4 601.0,224.2 601.3,230.4 601.6,237.6 601.9,244.7 602.1,261.3 602.4,277.5 602.7,268.9 603.1,261.4 603.4,258.6 603.7,254.2 604.0,253.4 604.3,250.7 604.6,254.3 604.9,256.6 605.2,253.4 605.5,248.3 605.7,246.1 606.0,244.7 606.3,245.1 606.6,243.5 606.9,242.0 607.2,242.3 607.5,244.7 607.8,247.1 608.1,251.1 608.4,256.6 608.7,261.3 609.0,266.2 609.3,267.7 609.6,268.6 609.9,263.0 610.2,256.6 610.5,254.2 610.8,251.9 611.1,250.9 611.4,250.7 611.7,254.8 612.0,260.2 612.3,264.2 612.6,268.6 612.9,269.3 613.2,271.0 613.5,269.4 613.8,269.2" fill="none" stroke="#D95319" stroke-width="1.25" stroke-linejoin="round"/>
<polyline points="616.4,312.1 616.7,296.6 617.1,293.0 617.3,297.1 617.6,300.2 617.9,302.6 618.2,305.0 618.5,307.8 618.8,310.9 619.1,310.9 619.4,312.1 619.7,313.7 620.0,314.5 620.2,315.1 620.5,316.9 620.8,315.8 621.1,315.7 621.4,317.0 621.7,318.1 622.0,316.7 622.3,314.5 622.6,316.7 622.9,316.9 623.2,315.6 623.5,313.3 623.8,316.0 624.1,316.9 624.4,318.9 624.7,319.3 625.0,320.3 625.3,320.5 625.6,319.7 625.9,318.1 626.2,315.4 626.5,314.5 626.8,312.1 627.1,310.9 627.4,308.2 627.7,307.4 628.0,306.9 628.3,305.0 628.6,306.0 628.9,306.2 629.2,307.6 629.5,308.6 629.8,307.5 630.1,307.4 630.3,305.9 630.6,305.0 630.9,303.1 631.2,302.6 631.5,300.5 631.8,297.8 632.1,296.4 632.4,293.0 632.7,290.3 633.0,288.3 633.3,283.8 633.6,281.1 633.9,276.9 634.2,273.9 634.6,272.7 634.9,278.7 635.2,284.4 635.4,290.6 635.7,296.2 636.0,300.2 636.3,303.2 636.6,305.0 636.9,306.7 637.2,308.6 637.5,306.6 637.8,306.2 638.1,303.6 638.4,302.6 638.7,298.3 639.0,295.4 639.3,293.6 639.6,290.6 639.9,288.8 640.2,287.1 640.5,285.7 640.7,282.3 641.0,282.5 641.3,281.1 641.6,283.5 641.9,284.7 642.2,287.6 642.5,290.6 642.8,293.7 643.1,295.4 643.4,292.3 643.7,290.6 644.0,288.7 644.3,288.3 644.6,291.4 644.9,294.2 645.2,296.6 645.5,299.0 645.8,299.6 646.1,301.4 646.4,298.5 646.7,296.6 647.0,298.6 647.3,302.6 647.6,305.2 647.9,306.2 648.2,308.4 648.5,309.7 648.8,311.2 649.1,310.9 649.4,310.1 649.7,307.4 650.0,304.8 650.3,302.6 650.6,304.8 650.9,306.2 651.1,302.9 651.4,300.2 651.7,302.0 652.0,302.6 652.3,305.1 652.6,306.2 652.9,302.4 653.2,300.2 653.5,301.0 653.8,303.8 654.1,304.4 654.4,306.2 654.7,305.1 655.0,303.8" fill="none" stroke="#D95319" stroke-width="1.25" stroke-linejoin="round"/>
<line x1="439.3" y1="340.6" x2="657.4" y2="340.6" stroke="#8a8a8a" stroke-width="0.9"/>
<line x1="439.3" y1="208.8" x2="439.3" y2="340.6" stroke="#0072BD" stroke-width="0.8" stroke-opacity="0.85"/>
<line x1="657.4" y1="208.8" x2="657.4" y2="340.6" stroke="#D95319" stroke-width="0.8" stroke-opacity="0.6"/>
<line x1="439.3" y1="340.60" x2="441.5" y2="340.60" stroke="#0072BD" stroke-width="0.8"/>
<text x="435.3" y="344.90" fill="#0072BD" font-size="11.6" text-anchor="end">15</text>
<line x1="439.3" y1="306.43" x2="441.5" y2="306.43" stroke="#0072BD" stroke-width="0.8"/>
<text x="435.3" y="310.73" fill="#0072BD" font-size="11.6" text-anchor="end">50</text>
<line x1="439.3" y1="257.61" x2="441.5" y2="257.61" stroke="#0072BD" stroke-width="0.8"/>
<text x="435.3" y="261.91" fill="#0072BD" font-size="11.6" text-anchor="end">100</text>
<line x1="439.3" y1="208.80" x2="441.5" y2="208.80" stroke="#0072BD" stroke-width="0.8"/>
<text x="435.3" y="213.10" fill="#0072BD" font-size="11.6" text-anchor="end">150</text>
<line x1="657.4" y1="340.60" x2="655.1999999999999" y2="340.60" stroke="#D95319" stroke-width="0.8"/>
<text x="661.4" y="344.90" fill="#D95319" font-size="11.6">0</text>
<line x1="657.4" y1="317.80" x2="655.1999999999999" y2="317.80" stroke="#D95319" stroke-width="0.8"/>
<text x="661.4" y="322.10" fill="#D95319" font-size="11.6">1</text>
<line x1="657.4" y1="294.99" x2="655.1999999999999" y2="294.99" stroke="#D95319" stroke-width="0.8"/>
<text x="661.4" y="299.29" fill="#D95319" font-size="11.6">2</text>
<line x1="657.4" y1="272.19" x2="655.1999999999999" y2="272.19" stroke="#D95319" stroke-width="0.8"/>
<text x="661.4" y="276.49" fill="#D95319" font-size="11.6">3</text>
<line x1="657.4" y1="249.39" x2="655.1999999999999" y2="249.39" stroke="#D95319" stroke-width="0.8"/>
<text x="661.4" y="253.69" fill="#D95319" font-size="11.6">4</text>
<line x1="657.4" y1="226.59" x2="655.1999999999999" y2="226.59" stroke="#D95319" stroke-width="0.8"/>
<text x="661.4" y="230.89" fill="#D95319" font-size="11.6">5</text>
<text x="439.3" y="356.90" fill="#262626" font-size="11.6" text-anchor="middle">0</text>
<text x="460.5" y="356.90" fill="#262626" font-size="11.6" text-anchor="middle">5</text>
<text x="491.1" y="356.90" fill="#262626" font-size="11.6" text-anchor="middle">7</text>
<text x="533.3" y="356.90" fill="#262626" font-size="11.6" text-anchor="middle">12</text>
<text x="574.6" y="356.90" fill="#262626" font-size="11.6" text-anchor="middle">14</text>
<text x="616.1" y="356.90" fill="#262626" font-size="11.6" text-anchor="middle">28</text>
<text transform="translate(412.0,274.7) rotate(-90)" fill="#0072BD" font-size="13" text-anchor="middle">Median AE</text>
<text transform="translate(682.1,274.7) rotate(-90)" fill="#D95319" font-size="13" text-anchor="middle">KL divergence</text>
<text x="441.8" y="219.5" fill="#D95319" class="s" font-size="12.2"><tspan font-style="italic">r</tspan><tspan dx="4.2" font-size="16.5">=</tspan><tspan dx="3.9">0.7;</tspan><tspan dx="0.6" font-style="italic">ρ</tspan><tspan dx="2.8" font-size="16.5">=</tspan><tspan dx="3.9">0.77</tspan></text>
<line x1="460.5" y1="389.2" x2="460.5" y2="520.6" stroke="#d6d6d6" stroke-width="1"/>
<line x1="491.1" y1="389.2" x2="491.1" y2="520.6" stroke="#d6d6d6" stroke-width="1"/>
<line x1="533.3" y1="389.2" x2="533.3" y2="520.6" stroke="#d6d6d6" stroke-width="1"/>
<line x1="574.6" y1="389.2" x2="574.6" y2="520.6" stroke="#d6d6d6" stroke-width="1"/>
<line x1="616.1" y1="389.2" x2="616.1" y2="520.6" stroke="#d6d6d6" stroke-width="1"/>
<polyline points="439.4,509.4 439.7,506.8 440.0,504.6 440.3,500.7 440.6,498.7 440.9,496.3 441.2,492.7 441.5,492.1 441.8,490.3 442.1,488.5 442.3,486.8 442.6,482.9 442.9,480.8 443.2,476.8 443.5,471.3 443.8,466.6 444.1,461.8 444.4,461.5 444.7,463.0 445.1,474.9 445.3,477.5 445.6,480.8 445.9,490.3 446.3,498.7 446.5,501.9 446.7,504.6 447.0,504.2 447.3,502.2 447.6,504.6 447.9,507.0 448.2,505.5 448.5,503.4 448.8,504.0 449.1,505.8 449.4,504.7 449.7,504.6 450.0,507.2 450.3,508.2 450.6,506.2 450.9,504.6 451.2,502.6 451.5,502.2 451.8,501.2 452.1,499.9 452.4,497.3 452.7,496.3 453.0,493.9 453.3,492.7 453.6,489.6 453.9,486.8 454.2,488.1 454.5,489.1 454.8,493.0 455.1,496.3 455.4,494.3 455.7,491.5 456.0,495.0 456.3,498.7 456.6,500.8 456.8,504.6 457.2,499.9 457.5,501.5 457.8,502.2" fill="none" stroke="#0072BD" stroke-width="1.25" stroke-linejoin="round"/>
<polyline points="460.4,493.9 460.7,494.8 461.0,497.5 461.3,496.8 461.6,496.3 461.9,497.3 462.2,498.7 462.5,498.4 462.8,497.5 463.1,499.7 463.4,501.0 463.7,501.7 464.0,503.4 464.3,504.9 464.6,505.8 464.9,507.4 465.2,508.2 465.5,508.7 465.8,509.4 466.1,507.5 466.4,507.0 466.7,508.4 467.0,508.2 467.2,507.2 467.5,505.8 467.8,504.3 468.1,504.6 468.4,504.7 468.7,505.8 469.0,505.6 469.3,503.4 469.6,502.3 469.9,502.2 470.2,502.0 470.5,502.2 470.8,501.6 471.1,499.9 471.4,499.9 471.7,498.7 472.0,498.3 472.3,497.5 472.6,497.4 472.9,496.3 473.2,494.8 473.5,495.1 473.8,494.3 474.1,495.1 474.4,494.3 474.7,491.5 475.0,490.9 475.3,489.1 475.6,487.0 475.9,486.8 476.2,484.1 476.5,483.2 476.8,480.3 477.1,478.4 477.3,477.5 477.6,474.9 477.9,470.1 478.2,466.5 478.6,464.7 478.9,468.4 479.2,471.3 479.5,486.8 479.8,493.0 480.0,497.5 480.3,501.3 480.6,504.6 480.9,504.9 481.2,503.4 481.5,501.8 481.8,501.0 482.1,500.9 482.4,502.2 482.7,500.1 483.0,499.9 483.3,498.6 483.6,496.3 483.9,493.7 484.2,492.7 484.5,492.5 484.8,490.3 485.1,487.2 485.4,483.2 485.7,480.8 486.0,479.6 486.3,482.0 486.6,483.2 486.9,478.3 487.2,474.9 487.5,477.9 487.7,480.8 488.0,486.0 488.3,492.7 488.7,502.2" fill="none" stroke="#0072BD" stroke-width="1.25" stroke-linejoin="round"/>
<polyline points="491.7,460.6 492.0,462.9 492.3,464.1 492.6,476.2 492.9,486.8 493.2,488.8 493.5,489.1 493.8,484.0 494.0,480.8 494.3,477.3 494.6,472.5 494.9,474.4 495.2,476.0 495.5,479.1 495.8,480.8 496.1,477.2 496.4,473.7 496.7,472.7 497.0,471.3 497.3,473.3 497.6,474.9 497.9,476.6 498.2,477.2 498.5,475.8 498.8,476.0 499.1,477.5 499.4,480.8 499.7,479.7 500.0,478.4 500.3,481.0 500.6,484.4 500.9,483.6 501.2,483.2 501.5,484.6 501.8,488.0 502.1,489.6 502.4,490.3 502.7,488.8 503.0,489.1 503.3,491.6 503.6,492.7 503.9,494.5 504.1,495.1 504.4,496.2 504.7,497.5 505.0,495.5 505.3,495.1 505.6,494.2 505.9,492.7 505.6,493.9 505.9,492.1 506.2,491.5 506.5,490.8 506.8,490.3 507.1,492.5 507.4,496.3 507.7,500.2 508.0,502.2 508.3,500.5 508.6,498.7 508.9,500.2 509.2,502.2 509.5,499.6 509.8,498.7 510.1,496.1 510.3,492.7 510.6,490.4 510.9,486.8 511.2,484.5 511.5,480.8 511.8,476.4 512.1,473.7 512.4,472.2 512.7,471.3 513.0,469.7 513.3,468.9 513.6,471.2 513.9,472.5 514.2,473.6 514.5,476.0 514.8,474.5 515.1,472.5 515.4,476.4 515.7,478.4 516.0,480.8 516.3,482.0 516.6,486.4 516.9,492.7 517.2,490.7 517.5,490.3 517.8,487.8 518.1,486.8 518.4,489.5 518.7,491.5 519.0,489.9 519.3,488.0 519.6,490.4 519.9,492.7 520.2,495.0 520.5,497.5 520.7,498.5 521.0,499.9 521.3,499.5 521.6,498.7 521.9,500.2 522.2,501.0 522.5,502.5 522.8,502.2 523.1,501.5 523.4,499.9 523.7,501.6 524.0,502.2 524.3,501.3 524.6,498.7 524.9,500.5 525.2,501.0 525.5,502.7 525.8,503.4 526.1,501.9 526.4,502.2 526.7,503.8 527.0,504.6 527.3,504.7 527.6,503.4 527.9,502.1 528.2,501.0 528.5,500.6 528.8,498.7 529.1,497.4 529.4,497.5 529.7,497.8 530.0,496.3" fill="none" stroke="#0072BD" stroke-width="1.25" stroke-linejoin="round"/>
<polyline points="533.0,410.7 533.3,412.4 533.6,414.3 533.9,417.1 534.2,419.0 534.5,423.8 534.8,424.5 535.0,426.2 535.3,434.5 535.6,437.1 535.9,440.5 536.2,441.3 536.5,442.8 536.8,441.9 537.1,441.7 537.4,442.0 537.7,444.0 538.0,445.1 538.3,446.4 538.6,448.6 538.9,448.8 539.2,450.6 539.5,451.7 539.8,453.8 540.1,454.1 540.4,452.9 540.7,450.6 541.0,449.4 541.3,447.0 541.6,435.8 541.9,422.6 542.2,421.4 542.5,427.3 542.7,432.1 543.0,435.8 543.3,440.5 543.6,445.9 543.9,452.4 544.3,456.5 544.6,458.7 544.9,461.3 545.2,459.1 545.5,458.9 545.7,463.1 546.0,468.4 546.3,473.4 546.6,476.7 546.9,480.0 547.2,481.5 547.5,482.4 547.8,483.9 548.1,485.6 548.4,486.3 548.7,485.0 549.0,482.7 549.3,480.5 549.6,476.7 549.9,473.2 550.2,468.4 550.5,466.7 550.8,464.8 551.1,467.0 551.4,470.8 551.7,470.3 552.0,468.4 552.3,473.4 552.6,479.1 552.9,483.0 553.2,486.3 553.5,488.4 553.8,491.0 554.1,492.3 554.4,493.4 554.7,492.6 555.0,489.8 555.3,485.6 555.6,482.7 555.8,479.8 556.1,476.7 556.4,474.1 556.7,470.8 557.0,469.7 557.3,468.4 557.6,471.7 557.9,473.2 558.2,474.8 558.5,476.7 558.8,478.8 559.1,479.1 559.4,481.3 559.7,482.7 560.0,485.4 560.3,486.3 560.6,487.8 560.9,491.0 561.2,492.2 561.5,494.6 561.8,494.8 562.1,495.8 562.4,497.2 562.7,497.0 563.0,494.8 563.3,494.6 563.6,493.5 563.9,493.4 564.2,491.5 564.5,488.6 564.8,486.7 565.1,482.7 565.4,479.1 565.7,476.7 566.0,478.4 566.2,480.3 566.5,481.9 566.8,482.7 567.1,487.8 567.4,492.2 567.7,493.3 568.0,493.4 568.3,490.9 568.6,487.5 568.9,481.6 569.2,476.7 569.5,470.3 569.8,464.8 570.1,458.5 570.4,454.1 570.7,456.9 571.0,458.9 571.3,464.3 571.6,470.8 571.9,473.9 572.2,477.9" fill="none" stroke="#0072BD" stroke-width="1.25" stroke-linejoin="round"/>
<polyline points="574.6,423.8 574.9,427.1 575.2,428.6 575.5,433.0 575.8,436.9 576.1,440.0 576.4,442.8 576.6,444.9 576.9,446.4 577.2,448.1 577.5,449.4 577.8,450.9 578.1,451.7 578.4,453.1 578.7,455.3 579.0,453.9 579.3,454.1 579.6,451.5 579.9,450.6 580.2,448.4 580.5,448.2 580.8,450.3 581.1,452.9 581.4,454.0 581.7,456.5 582.0,453.4 582.3,451.7 582.6,450.5 582.9,449.4 583.2,452.7 583.5,454.1 583.8,456.9 584.1,458.9 584.4,464.4 584.7,470.8 585.0,477.3 585.3,482.7 585.6,483.8 585.9,486.3 586.2,482.5 586.5,480.3 586.8,475.2 587.0,470.8 587.3,468.8 587.6,467.2 587.9,468.8 588.2,469.6 588.5,467.1 588.8,464.8 589.1,462.9 589.4,460.1 589.7,457.5 590.0,456.5 590.0,462.5 590.3,461.5 590.6,458.9 590.9,456.8 591.2,455.3 591.5,457.2 591.8,457.7 592.1,458.0 592.4,460.1 592.7,459.0 593.0,456.5 593.3,453.6 593.6,451.7 593.9,451.3 594.2,449.4 594.5,451.8 594.8,452.9 595.1,453.9 595.3,454.1 595.6,456.1 595.9,458.9 596.2,460.9 596.5,464.8 596.8,462.4 597.1,461.3 597.4,458.5 597.7,454.1 598.0,451.7 598.3,450.6 598.6,444.0 598.9,436.9 599.2,436.5 599.5,435.7 599.8,435.4 600.1,434.5 600.4,435.7 600.7,438.1 601.0,438.0 601.3,439.3 601.6,436.7 601.9,435.7 602.2,434.9 602.5,432.1 602.8,431.3 603.1,430.9 603.4,433.0 603.7,434.5 604.0,436.4 604.3,438.1 604.6,439.9 604.9,442.8 605.2,443.8 605.5,446.4 605.7,446.6 606.0,448.8 606.3,456.3 606.6,462.5 606.9,464.1 607.2,467.2 607.5,465.8 607.8,462.5 608.1,459.8 608.4,457.7 608.7,456.4 609.0,454.1 609.3,457.0 609.6,461.3 609.9,465.4 610.2,468.4 610.5,472.1 610.8,476.7 611.1,480.6 611.4,485.1 611.7,486.9 612.0,488.6 612.3,486.1 612.6,485.1 612.9,483.4 613.2,482.7" fill="none" stroke="#0072BD" stroke-width="1.25" stroke-linejoin="round"/>
<polyline points="616.4,439.3 616.7,447.0 617.1,458.9 617.3,465.4 617.6,470.8 617.9,476.7 618.2,475.1 618.5,474.4 618.8,471.2 619.1,468.4 619.4,464.2 619.7,458.9 620.0,456.6 620.3,455.3 620.6,459.5 620.9,464.8 621.2,467.3 621.5,470.8 621.8,464.6 622.1,458.9 622.4,461.6 622.7,464.8 623.0,469.9 623.3,474.4 623.6,478.5 623.9,482.7 624.2,488.2 624.5,492.2 624.8,493.7 625.1,497.0 625.4,494.9 625.7,492.2 626.0,485.8 626.2,477.9 626.5,475.0 626.8,473.2 627.1,475.8 627.4,480.3 627.7,481.4 628.0,482.7 628.3,484.9 628.6,488.6 628.9,492.7 629.2,497.0 629.5,499.8 629.8,501.7 630.1,502.1 630.4,504.1 630.7,501.0 631.0,499.4 631.3,495.7 631.6,492.2 631.9,488.6 632.2,486.3 632.5,484.5 632.8,483.9 633.1,483.2 633.4,482.7 633.7,483.1 634.0,485.1 634.3,482.4 634.6,481.5 634.9,482.4 635.2,483.9 635.5,486.2 635.8,488.6 636.1,492.5 636.4,494.6 636.6,497.1 636.9,499.4 637.2,499.7 637.5,501.7 637.8,501.8 638.1,502.9 638.4,501.0 638.7,498.2 639.0,495.3 639.3,492.2 639.6,490.0 639.9,486.3 640.2,485.4 640.5,482.7 640.8,480.4 641.1,476.7 641.4,473.0 641.7,470.8 642.0,468.7 642.3,464.8 642.6,458.9 642.9,452.9 643.2,449.4 643.5,447.0 643.8,431.2 644.1,416.6 644.3,426.6 644.6,435.1 644.9,441.7 645.3,449.4 645.6,453.3 645.9,458.9 646.2,461.4 646.5,464.8 646.8,471.6 647.0,476.7 647.3,481.4 647.6,486.3 647.9,489.7 648.2,492.2 648.5,493.7 648.8,497.0 649.1,498.7 649.4,500.6 649.7,501.4 650.0,502.9 650.3,501.2 650.6,500.6 650.9,499.1 651.2,497.0 651.5,495.5 651.8,494.6 652.1,492.6 652.4,492.2 652.7,494.4 653.0,494.6 653.3,495.2 653.6,495.8 653.9,494.6 654.2,494.6 654.5,494.8 654.8,497.0" fill="none" stroke="#0072BD" stroke-width="1.25" stroke-linejoin="round"/>
<polyline points="439.4,504.5 439.7,503.7 440.0,502.2 440.3,500.4 440.6,498.6 440.9,495.9 441.2,495.0 441.5,492.6 441.8,490.3 442.1,489.0 442.3,486.7 442.6,483.8 442.9,480.8 443.2,479.6 443.5,479.6 443.9,484.3 444.1,488.5 444.4,492.7 444.7,495.2 445.0,497.4 445.3,498.9 445.6,499.8 445.9,497.3 446.2,496.2 446.4,498.6 446.7,499.8 447.0,498.3 447.3,495.0 447.7,493.8 448.0,497.9 448.3,501.0 448.6,502.3 448.9,502.2 449.2,502.5 449.5,503.4 449.8,503.9 450.1,502.8 450.4,501.8 450.7,502.2 451.0,501.0 451.3,501.0 451.6,500.0 451.9,498.6 452.2,498.8 452.5,497.4 452.7,496.9 453.0,498.0 453.3,498.9 453.6,501.0 453.9,501.2 454.2,503.4 454.5,503.2 454.8,503.4 455.1,502.9 455.4,503.9 455.7,503.6 456.0,504.5 456.3,505.6 456.6,505.7 456.9,505.6 457.2,505.1 457.5,506.6 457.8,506.3" fill="none" stroke="#D95319" stroke-width="1.25" stroke-linejoin="round"/>
<polyline points="460.4,501.0 460.7,502.0 461.0,503.4 461.3,504.3 461.6,504.5 461.9,504.2 462.2,505.7 462.5,507.2 462.8,506.9 463.1,507.0 463.4,508.1 463.7,507.5 464.0,506.9 464.3,507.5 464.6,508.1 464.9,509.6 465.2,509.3 465.5,509.9 465.8,510.5 466.1,512.1 466.4,511.7 466.7,511.3 467.0,510.5 467.2,509.3 467.5,509.3 467.8,509.4 468.1,508.1 468.4,508.1 468.7,509.3 469.0,509.7 469.3,508.1 469.6,507.4 469.9,506.9 470.2,505.8 470.5,505.7 470.8,506.1 471.1,504.5 471.4,504.2 471.7,504.5 472.0,503.8 472.3,503.4 472.6,502.4 472.9,502.2 473.2,502.5 473.5,502.2 473.8,500.6 474.1,501.0 474.4,500.1 474.7,499.8 475.0,498.5 475.3,498.6 475.6,499.8 475.9,499.8 476.2,497.6 476.5,497.4 476.8,498.2 477.1,498.6 477.3,497.5 477.6,497.4 477.9,497.9 478.2,498.6 478.5,500.5 478.8,502.2 479.1,503.8 479.4,504.5 479.7,505.6 480.0,508.1 480.3,508.8 480.6,510.5 480.9,508.5 481.2,508.1 481.5,509.6 481.8,509.3 482.1,507.4 482.4,506.9 482.7,505.6 483.0,505.7 483.3,505.2 483.6,504.5 483.9,504.1 484.2,503.4 484.5,505.3 484.8,505.7 485.1,504.2 485.4,504.5 485.7,505.2 486.0,506.9 486.3,505.7 486.6,505.7 486.9,506.5 487.2,506.9 487.5,507.4 487.7,508.1 488.0,507.0 488.3,506.3" fill="none" stroke="#D95319" stroke-width="1.25" stroke-linejoin="round"/>
<polyline points="491.7,492.7 492.0,491.6 492.3,489.1 492.6,488.8 492.9,487.9 493.2,488.0 493.5,486.7 493.8,487.0 494.0,485.5 494.3,485.7 494.6,486.7 494.9,488.8 495.2,489.1 495.5,490.1 495.8,491.5 496.1,490.0 496.4,490.3 496.7,492.3 497.0,492.7 497.3,492.5 497.6,493.8 497.9,494.7 498.2,497.4 498.5,496.4 498.8,496.2 499.1,497.0 499.4,498.6 499.7,500.1 500.0,499.8 500.3,501.1 500.6,501.0 500.9,501.4 501.2,502.2 501.5,502.8 501.8,503.4 502.1,504.6 502.4,504.5 502.7,504.3 503.0,502.8 503.3,503.4 503.6,503.4 503.9,502.8 504.1,502.2 504.4,500.8 504.7,501.0 505.0,501.7 505.3,503.4 505.6,504.3 505.9,504.5 506.2,505.0 506.5,505.7 506.8,506.2 507.1,505.7 507.4,507.2 507.7,506.9 508.0,505.1 508.3,504.5 508.6,502.5 508.9,502.2 509.2,502.4 509.5,501.0 509.8,500.5 510.1,499.8 510.4,498.6 510.7,498.6 511.0,499.6 511.3,499.8 511.6,498.7 511.9,498.6 512.2,496.9 512.5,496.2 512.8,494.8 513.1,493.8 513.4,494.5 513.7,495.0 514.0,496.6 514.3,497.4 514.6,497.1 514.9,498.6 515.2,499.7 515.5,499.8 515.7,501.2 516.0,502.2 516.3,503.3 516.6,504.5 516.9,504.3 517.2,503.4 517.5,503.4 517.8,502.2 518.1,500.6 518.4,501.0 518.7,500.3 519.0,499.8 519.3,501.3 519.6,502.2 519.9,503.2 520.2,503.4 520.5,504.2 520.8,504.5 521.1,504.5 521.4,505.7 521.7,506.1 522.0,504.5 522.3,506.3 522.6,506.9 522.9,505.8 523.2,505.7 523.5,505.0 523.8,504.5 524.1,506.0 524.4,505.7 524.7,505.7 525.0,506.9 525.3,506.1 525.6,505.7 525.8,507.2 526.1,506.9 526.4,508.3 526.7,508.1 527.0,508.2 527.3,509.3 527.6,508.6 527.9,506.9 528.2,505.4 528.5,504.5 528.8,503.7 529.1,502.2 529.4,502.1 529.7,501.0" fill="none" stroke="#D95319" stroke-width="1.25" stroke-linejoin="round"/>
<polyline points="533.0,481.7 533.3,475.0 533.6,469.8 533.9,463.3 534.2,457.9 534.5,456.7 534.8,459.7 535.0,463.8 535.3,469.8 535.6,472.3 535.9,475.7 536.2,475.4 536.5,476.9 536.8,475.0 537.1,474.6 537.4,472.0 537.7,469.8 538.0,465.5 538.3,461.5 538.6,458.8 538.9,457.9 539.2,459.2 539.5,460.3 539.8,461.8 540.1,461.5 540.4,464.6 540.7,467.4 541.0,471.9 541.3,476.9 541.6,480.3 541.9,482.9 542.2,484.5 542.5,486.5 542.8,482.2 543.1,479.3 543.4,476.3 543.7,473.4 544.0,469.4 544.3,467.4 544.6,463.0 544.9,457.9 545.2,454.2 545.5,451.9 545.7,446.0 546.0,440.6 546.3,441.3 546.6,440.0 546.9,441.8 547.2,442.4 547.5,448.4 547.8,453.1 548.1,457.0 548.4,460.3 548.7,464.1 549.0,467.4 549.3,470.2 549.6,472.2 549.9,474.3 550.2,474.6 550.5,471.6 550.8,469.8 551.1,463.2 551.4,455.5 551.6,448.3 551.9,441.8 552.2,449.4 552.6,457.9 552.9,463.3 553.2,467.4 553.5,471.8 553.8,475.7 554.1,478.2 554.4,479.3 554.7,475.3 555.0,469.8 555.3,467.0 555.6,463.8 555.8,461.5 556.1,460.3 556.4,461.7 556.7,465.0 557.0,463.3 557.3,461.5 557.6,464.9 557.9,467.4 558.2,459.2 558.5,451.9 558.8,443.6 559.1,437.1 559.4,440.5 559.7,446.0 560.0,451.3 560.3,457.9 560.6,463.0 560.9,467.4 561.2,468.2 561.5,471.0 561.8,472.8 562.1,475.7 562.4,476.5 562.7,478.1 563.0,479.1 563.3,479.3 563.6,481.5 563.9,481.7 564.2,478.4 564.5,476.9 564.8,473.8 565.1,472.2 565.4,465.9 565.7,457.9 566.0,461.8 566.2,463.8 566.5,466.1 566.8,469.8 567.1,471.8 567.4,474.6 567.7,473.4 568.0,472.2 568.3,470.6 568.6,469.8 568.9,463.7 569.2,457.9 569.5,454.9 569.8,451.9 570.1,453.2 570.4,455.5 570.7,458.8 571.0,463.8 571.3,467.8 571.6,473.4" fill="none" stroke="#D95319" stroke-width="1.25" stroke-linejoin="round"/>
<polyline points="574.6,461.5 574.9,457.8 575.2,455.5 575.5,451.1 575.8,448.4 576.1,445.5 576.4,442.5 576.6,438.5 576.9,435.9 577.2,433.5 577.5,429.9 577.8,430.1 578.1,429.0 578.4,429.0 578.7,428.7 579.0,428.7 579.3,429.9 579.6,431.4 579.9,431.1 580.2,432.4 580.5,433.5 580.8,434.4 581.1,437.1 581.4,438.8 581.7,441.8 582.0,443.7 582.3,444.6 582.6,446.7 582.9,447.8 583.2,449.3 583.5,451.9 583.8,458.5 584.1,463.8 584.4,467.4 584.7,469.8 585.0,467.8 585.3,467.4 585.6,462.8 585.9,457.9 586.2,454.9 586.5,453.1 586.8,452.4 587.0,450.7 587.3,454.9 587.6,457.9 587.9,461.4 588.2,463.8 588.5,459.1 588.8,455.5 589.1,451.7 589.4,449.6 589.7,443.1 590.0,435.9 590.3,436.6 590.6,437.1 590.9,437.5 591.2,439.5 591.5,441.8 591.8,445.4 592.1,448.6 592.4,451.4 592.7,448.8 593.0,447.8 593.3,440.9 593.6,433.5 593.9,424.1 594.2,415.7 594.5,412.2 594.8,409.7 595.1,408.4 595.3,407.3 595.6,411.6 595.9,415.7 596.2,419.1 596.5,421.6 596.8,421.9 597.1,424.0 597.4,418.5 597.7,412.1 598.0,407.4 598.3,403.8 598.6,402.1 598.9,401.4 599.2,396.9 599.5,391.8 599.8,390.4 600.1,388.3 600.4,393.3 600.7,397.8 601.0,404.6 601.3,409.7 601.6,416.3 601.9,424.0 602.1,440.0 602.4,456.7 602.7,449.0 603.1,440.7 603.4,436.6 603.7,433.5 604.0,431.0 604.3,429.9 604.6,432.4 604.9,435.9 605.2,432.3 605.5,427.6 605.7,426.4 606.0,424.0 606.3,423.8 606.6,422.8 606.9,423.1 607.2,421.6 607.5,424.6 607.8,426.4 608.1,430.7 608.4,435.9 608.7,440.3 609.0,445.4 609.3,447.0 609.6,447.8 609.9,441.0 610.2,435.9 610.5,433.7 610.8,431.1 611.1,429.7 611.4,429.9 611.7,433.8 612.0,439.5 612.3,443.7 612.6,447.8 612.9,448.3 613.2,450.2 613.5,450.1 613.8,448.4" fill="none" stroke="#D95319" stroke-width="1.25" stroke-linejoin="round"/>
<polyline points="616.4,491.2 616.7,475.7 617.1,472.2 617.3,476.5 617.6,479.3 617.9,481.6 618.2,484.1 618.5,486.4 618.8,490.0 619.1,489.9 619.4,491.2 619.7,492.4 620.0,493.6 620.2,494.8 620.5,496.0 620.8,495.1 621.1,494.8 621.4,496.4 621.7,497.2 622.0,495.4 622.3,493.6 622.6,495.3 622.9,496.0 623.2,493.4 623.5,492.4 623.8,493.3 624.1,496.0 624.4,496.9 624.7,498.4 625.0,498.9 625.3,499.6 625.6,497.9 625.9,497.2 626.2,495.7 626.5,493.6 626.8,491.3 627.1,490.0 627.4,487.9 627.7,486.5 628.0,485.2 628.3,484.1 628.6,485.1 628.9,485.3 629.2,487.0 629.5,487.6 629.8,486.8 630.1,486.5 630.3,485.2 630.6,484.1 630.9,483.7 631.2,481.7 631.5,480.2 631.8,476.9 632.1,474.8 632.4,472.2 632.7,469.0 633.0,467.4 633.3,463.8 633.6,460.3 633.9,457.0 634.2,453.1 634.6,451.9 634.9,457.9 635.2,463.4 635.4,469.8 635.7,473.6 636.0,479.3 636.3,482.7 636.6,484.1 636.9,486.7 637.2,487.6 637.5,485.7 637.8,485.3 638.1,483.4 638.4,481.7 638.7,478.4 639.0,474.6 639.3,471.8 639.6,469.8 639.9,467.1 640.2,466.2 640.5,464.3 640.7,461.5 641.0,461.4 641.3,460.3 641.6,461.9 641.9,463.8 642.2,466.0 642.5,469.8 642.8,472.0 643.1,474.6 643.4,471.4 643.7,469.8 644.0,469.5 644.3,467.4 644.6,469.5 644.9,473.4 645.2,475.3 645.5,478.1 645.8,479.9 646.1,480.5 646.4,477.4 646.7,475.7 647.0,477.9 647.3,481.7 647.6,482.6 647.9,485.3 648.2,486.4 648.5,488.8 648.8,489.5 649.1,490.0 649.4,488.9 649.7,486.5 650.0,483.4 650.3,481.7 650.6,482.8 650.9,485.3 651.1,482.8 651.4,479.3 651.7,480.4 652.0,481.7 652.3,483.2 652.6,485.3 652.9,481.5 653.2,479.3 653.5,480.6 653.8,482.9 654.1,485.0 654.4,485.3 654.7,483.3 655.0,482.9" fill="none" stroke="#D95319" stroke-width="1.25" stroke-linejoin="round"/>
<line x1="439.3" y1="520.6" x2="657.4" y2="520.6" stroke="#8a8a8a" stroke-width="0.9"/>
<line x1="439.3" y1="389.2" x2="439.3" y2="520.6" stroke="#0072BD" stroke-width="0.8" stroke-opacity="0.85"/>
<line x1="657.4" y1="389.2" x2="657.4" y2="520.6" stroke="#D95319" stroke-width="0.8" stroke-opacity="0.6"/>
<line x1="439.3" y1="520.60" x2="441.5" y2="520.60" stroke="#0072BD" stroke-width="0.8"/>
<text x="435.3" y="524.90" fill="#0072BD" font-size="11.6" text-anchor="end">15</text>
<line x1="439.3" y1="486.53" x2="441.5" y2="486.53" stroke="#0072BD" stroke-width="0.8"/>
<text x="435.3" y="490.83" fill="#0072BD" font-size="11.6" text-anchor="end">50</text>
<line x1="439.3" y1="437.87" x2="441.5" y2="437.87" stroke="#0072BD" stroke-width="0.8"/>
<text x="435.3" y="442.17" fill="#0072BD" font-size="11.6" text-anchor="end">100</text>
<line x1="439.3" y1="389.20" x2="441.5" y2="389.20" stroke="#0072BD" stroke-width="0.8"/>
<text x="435.3" y="393.50" fill="#0072BD" font-size="11.6" text-anchor="end">150</text>
<line x1="657.4" y1="520.60" x2="655.1999999999999" y2="520.60" stroke="#D95319" stroke-width="0.8"/>
<text x="661.4" y="524.90" fill="#D95319" font-size="11.6">0</text>
<line x1="657.4" y1="480.60" x2="655.1999999999999" y2="480.60" stroke="#D95319" stroke-width="0.8"/>
<text x="661.4" y="484.90" fill="#D95319" font-size="11.6">2</text>
<line x1="657.4" y1="440.60" x2="655.1999999999999" y2="440.60" stroke="#D95319" stroke-width="0.8"/>
<text x="661.4" y="444.90" fill="#D95319" font-size="11.6">4</text>
<line x1="657.4" y1="400.60" x2="655.1999999999999" y2="400.60" stroke="#D95319" stroke-width="0.8"/>
<text x="661.4" y="404.90" fill="#D95319" font-size="11.6">6</text>
<text x="439.3" y="536.90" fill="#262626" font-size="11.6" text-anchor="middle">0</text>
<text x="460.5" y="536.90" fill="#262626" font-size="11.6" text-anchor="middle">5</text>
<text x="491.1" y="536.90" fill="#262626" font-size="11.6" text-anchor="middle">7</text>
<text x="533.3" y="536.90" fill="#262626" font-size="11.6" text-anchor="middle">12</text>
<text x="574.6" y="536.90" fill="#262626" font-size="11.6" text-anchor="middle">14</text>
<text x="616.1" y="536.90" fill="#262626" font-size="11.6" text-anchor="middle">28</text>
<text transform="translate(412.0,454.9) rotate(-90)" fill="#0072BD" font-size="13" text-anchor="middle">Median AE</text>
<text transform="translate(682.1,454.9) rotate(-90)" fill="#D95319" font-size="13" text-anchor="middle">KL divergence</text>
<text x="441.8" y="399.9" fill="#D95319" class="s" font-size="12.2"><tspan font-style="italic">r</tspan><tspan dx="4.2" font-size="16.5">=</tspan><tspan dx="3.9">0.72;</tspan><tspan dx="0.6" font-style="italic">ρ</tspan><tspan dx="2.8" font-size="16.5">=</tspan><tspan dx="3.9">0.76</tspan></text>
<text x="235" y="13.2" fill="#262626" font-size="18" font-weight="bold" text-anchor="middle">T11</text>
<text x="538.5" y="13.2" fill="#262626" font-size="18" font-weight="bold" text-anchor="middle">T5</text>
<text x="-0.5" y="13.1" fill="#000" font-size="18" font-weight="bold">a</text>
<text x="-0.5" y="202.1" fill="#000" font-size="18" font-weight="bold">b</text>
<text x="-0.5" y="382.6" fill="#000" font-size="18" font-weight="bold">c</text>
<text x="34.1" y="103.0" class="s" font-size="17.5" font-style="italic" fill="#262626">X</text><path d="M38.00,90.60 L40.70,88.40 L43.40,90.60" fill="none" stroke="#262626" stroke-width="0.8"/>
<text x="11.1" y="280.7" class="s" font-size="17.5" font-style="italic" fill="#262626">X</text><path d="M15.00,268.30 L17.70,266.10 L20.40,268.30" fill="none" stroke="#262626" stroke-width="0.8"/>
<path d="M28.10,275.60 H38.60 M33.35,270.35 V280.85" stroke="#262626" stroke-width="0.85" fill="none"/>
<text x="43.3" y="280.7" class="s" font-size="17.5" font-style="italic" fill="#262626">X</text><path d="M47.20,268.30 L49.90,266.10 L52.60,268.30" fill="none" stroke="#262626" stroke-width="0.8"/>
<text x="55.1" y="282.5" class="s" font-size="11.5" font-style="italic" fill="#262626">lag</text>
<text x="27.1" y="449.2" class="s" font-size="17" fill="#262626">NF</text>
<path d="M3.50,464.45 H14.00 M8.75,459.20 V469.70" stroke="#262626" stroke-width="0.85" fill="none"/>
<text x="19.1" y="469.5" class="s" font-size="17.5" font-style="italic" fill="#262626">X</text><path d="M23.00,457.10 L25.70,454.90 L28.40,457.10" fill="none" stroke="#262626" stroke-width="0.8"/>
<path d="M33.90,464.45 H44.40 M39.15,459.20 V469.70" stroke="#262626" stroke-width="0.85" fill="none"/>
<text x="50.0" y="469.5" class="s" font-size="17.5" font-style="italic" fill="#262626">X</text><path d="M53.90,457.10 L56.60,454.90 L59.30,457.10" fill="none" stroke="#262626" stroke-width="0.8"/>
<text x="61.3" y="472" class="s" font-size="11.5" font-style="italic" fill="#262626">lag</text>
<text x="236.9" y="552" fill="#262626" font-size="12.6" text-anchor="middle">Days since first session</text>
<text x="548.3" y="552" fill="#262626" font-size="12.6" text-anchor="middle">Days since first session</text>
</svg>
</body></html>
